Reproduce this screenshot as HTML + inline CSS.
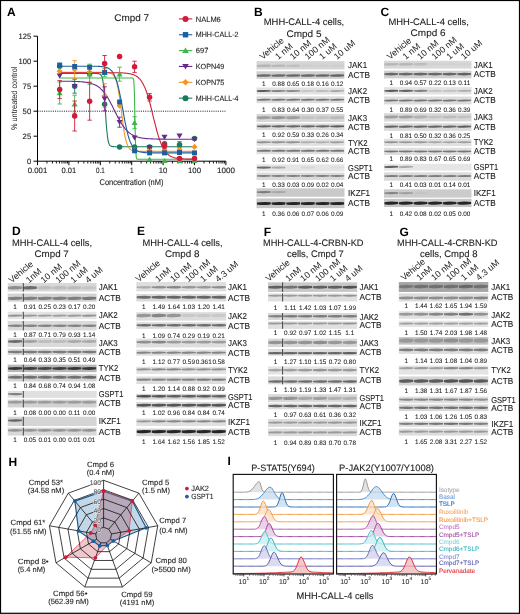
<!DOCTYPE html>
<html><head><meta charset="utf-8"><style>
html,body{margin:0;padding:0;background:#fff;}
#fig{position:relative;width:520px;height:614px;overflow:hidden;background:#fff;}
svg{display:block;will-change:transform;text-rendering:geometricPrecision;font-family:"Liberation Sans", sans-serif;}
</style></head><body><div id="fig">
<svg width="520" height="614" viewBox="0 0 520 614">
<rect x="0" y="0" width="520" height="614" fill="#fff"/>
<defs><filter id="bl" x="-20%" y="-100%" width="140%" height="300%"><feGaussianBlur stdDeviation="0.55"/></filter></defs>
<text x="7.00" y="15.60" font-size="12" text-anchor="start" font-weight="bold" fill="#000" >A</text>
<text x="114.30" y="21.40" font-size="9.7" text-anchor="start" font-weight="normal" fill="#222" stroke="#222" stroke-width="0.1" textLength="34.8" lengthAdjust="spacingAndGlyphs" >Cmpd 7</text>
<path d="M37.5 36.19999999999999 V161.2 H225.89999999999998" stroke="#000" stroke-width="1" fill="none"/>
<line x1="33.5" y1="161.2" x2="37.5" y2="161.2" stroke="#000" stroke-width="1"/>
<text x="31.20" y="164.00" font-size="7.8" text-anchor="end" font-weight="normal" fill="#222" stroke="#222" stroke-width="0.1" textLength="4.2" lengthAdjust="spacingAndGlyphs" >0</text>
<line x1="33.5" y1="136.2" x2="37.5" y2="136.2" stroke="#000" stroke-width="1"/>
<text x="31.20" y="139.00" font-size="7.8" text-anchor="end" font-weight="normal" fill="#222" stroke="#222" stroke-width="0.1" textLength="8.6" lengthAdjust="spacingAndGlyphs" >25</text>
<line x1="33.5" y1="111.19999999999999" x2="37.5" y2="111.19999999999999" stroke="#000" stroke-width="1"/>
<text x="31.20" y="114.00" font-size="7.8" text-anchor="end" font-weight="normal" fill="#222" stroke="#222" stroke-width="0.1" textLength="8.6" lengthAdjust="spacingAndGlyphs" >50</text>
<line x1="33.5" y1="86.19999999999999" x2="37.5" y2="86.19999999999999" stroke="#000" stroke-width="1"/>
<text x="31.20" y="89.00" font-size="7.8" text-anchor="end" font-weight="normal" fill="#222" stroke="#222" stroke-width="0.1" textLength="8.6" lengthAdjust="spacingAndGlyphs" >75</text>
<line x1="33.5" y1="61.19999999999999" x2="37.5" y2="61.19999999999999" stroke="#000" stroke-width="1"/>
<text x="31.20" y="64.00" font-size="7.8" text-anchor="end" font-weight="normal" fill="#222" stroke="#222" stroke-width="0.1" textLength="12.6" lengthAdjust="spacingAndGlyphs" >100</text>
<line x1="33.5" y1="36.19999999999999" x2="37.5" y2="36.19999999999999" stroke="#000" stroke-width="1"/>
<text x="31.20" y="39.00" font-size="7.8" text-anchor="end" font-weight="normal" fill="#222" stroke="#222" stroke-width="0.1" textLength="12.6" lengthAdjust="spacingAndGlyphs" >125</text>
<line x1="37.50" y1="161.2" x2="37.50" y2="165.2" stroke="#000" stroke-width="1"/>
<line x1="46.95" y1="161.2" x2="46.95" y2="163.5" stroke="#000" stroke-width="0.9"/>
<line x1="52.48" y1="161.2" x2="52.48" y2="163.5" stroke="#000" stroke-width="0.9"/>
<line x1="56.40" y1="161.2" x2="56.40" y2="163.5" stroke="#000" stroke-width="0.9"/>
<line x1="59.45" y1="161.2" x2="59.45" y2="163.5" stroke="#000" stroke-width="0.9"/>
<line x1="61.93" y1="161.2" x2="61.93" y2="163.5" stroke="#000" stroke-width="0.9"/>
<line x1="64.04" y1="161.2" x2="64.04" y2="163.5" stroke="#000" stroke-width="0.9"/>
<line x1="65.86" y1="161.2" x2="65.86" y2="163.5" stroke="#000" stroke-width="0.9"/>
<line x1="67.46" y1="161.2" x2="67.46" y2="163.5" stroke="#000" stroke-width="0.9"/>
<line x1="68.90" y1="161.2" x2="68.90" y2="165.2" stroke="#000" stroke-width="1"/>
<line x1="78.35" y1="161.2" x2="78.35" y2="163.5" stroke="#000" stroke-width="0.9"/>
<line x1="83.88" y1="161.2" x2="83.88" y2="163.5" stroke="#000" stroke-width="0.9"/>
<line x1="87.80" y1="161.2" x2="87.80" y2="163.5" stroke="#000" stroke-width="0.9"/>
<line x1="90.85" y1="161.2" x2="90.85" y2="163.5" stroke="#000" stroke-width="0.9"/>
<line x1="93.33" y1="161.2" x2="93.33" y2="163.5" stroke="#000" stroke-width="0.9"/>
<line x1="95.44" y1="161.2" x2="95.44" y2="163.5" stroke="#000" stroke-width="0.9"/>
<line x1="97.26" y1="161.2" x2="97.26" y2="163.5" stroke="#000" stroke-width="0.9"/>
<line x1="98.86" y1="161.2" x2="98.86" y2="163.5" stroke="#000" stroke-width="0.9"/>
<line x1="100.30" y1="161.2" x2="100.30" y2="165.2" stroke="#000" stroke-width="1"/>
<line x1="109.75" y1="161.2" x2="109.75" y2="163.5" stroke="#000" stroke-width="0.9"/>
<line x1="115.28" y1="161.2" x2="115.28" y2="163.5" stroke="#000" stroke-width="0.9"/>
<line x1="119.20" y1="161.2" x2="119.20" y2="163.5" stroke="#000" stroke-width="0.9"/>
<line x1="122.25" y1="161.2" x2="122.25" y2="163.5" stroke="#000" stroke-width="0.9"/>
<line x1="124.73" y1="161.2" x2="124.73" y2="163.5" stroke="#000" stroke-width="0.9"/>
<line x1="126.84" y1="161.2" x2="126.84" y2="163.5" stroke="#000" stroke-width="0.9"/>
<line x1="128.66" y1="161.2" x2="128.66" y2="163.5" stroke="#000" stroke-width="0.9"/>
<line x1="130.26" y1="161.2" x2="130.26" y2="163.5" stroke="#000" stroke-width="0.9"/>
<line x1="131.70" y1="161.2" x2="131.70" y2="165.2" stroke="#000" stroke-width="1"/>
<line x1="141.15" y1="161.2" x2="141.15" y2="163.5" stroke="#000" stroke-width="0.9"/>
<line x1="146.68" y1="161.2" x2="146.68" y2="163.5" stroke="#000" stroke-width="0.9"/>
<line x1="150.60" y1="161.2" x2="150.60" y2="163.5" stroke="#000" stroke-width="0.9"/>
<line x1="153.65" y1="161.2" x2="153.65" y2="163.5" stroke="#000" stroke-width="0.9"/>
<line x1="156.13" y1="161.2" x2="156.13" y2="163.5" stroke="#000" stroke-width="0.9"/>
<line x1="158.24" y1="161.2" x2="158.24" y2="163.5" stroke="#000" stroke-width="0.9"/>
<line x1="160.06" y1="161.2" x2="160.06" y2="163.5" stroke="#000" stroke-width="0.9"/>
<line x1="161.66" y1="161.2" x2="161.66" y2="163.5" stroke="#000" stroke-width="0.9"/>
<line x1="163.10" y1="161.2" x2="163.10" y2="165.2" stroke="#000" stroke-width="1"/>
<line x1="172.55" y1="161.2" x2="172.55" y2="163.5" stroke="#000" stroke-width="0.9"/>
<line x1="178.08" y1="161.2" x2="178.08" y2="163.5" stroke="#000" stroke-width="0.9"/>
<line x1="182.00" y1="161.2" x2="182.00" y2="163.5" stroke="#000" stroke-width="0.9"/>
<line x1="185.05" y1="161.2" x2="185.05" y2="163.5" stroke="#000" stroke-width="0.9"/>
<line x1="187.53" y1="161.2" x2="187.53" y2="163.5" stroke="#000" stroke-width="0.9"/>
<line x1="189.64" y1="161.2" x2="189.64" y2="163.5" stroke="#000" stroke-width="0.9"/>
<line x1="191.46" y1="161.2" x2="191.46" y2="163.5" stroke="#000" stroke-width="0.9"/>
<line x1="193.06" y1="161.2" x2="193.06" y2="163.5" stroke="#000" stroke-width="0.9"/>
<line x1="194.50" y1="161.2" x2="194.50" y2="165.2" stroke="#000" stroke-width="1"/>
<line x1="203.95" y1="161.2" x2="203.95" y2="163.5" stroke="#000" stroke-width="0.9"/>
<line x1="209.48" y1="161.2" x2="209.48" y2="163.5" stroke="#000" stroke-width="0.9"/>
<line x1="213.40" y1="161.2" x2="213.40" y2="163.5" stroke="#000" stroke-width="0.9"/>
<line x1="216.45" y1="161.2" x2="216.45" y2="163.5" stroke="#000" stroke-width="0.9"/>
<line x1="218.93" y1="161.2" x2="218.93" y2="163.5" stroke="#000" stroke-width="0.9"/>
<line x1="221.04" y1="161.2" x2="221.04" y2="163.5" stroke="#000" stroke-width="0.9"/>
<line x1="222.86" y1="161.2" x2="222.86" y2="163.5" stroke="#000" stroke-width="0.9"/>
<line x1="224.46" y1="161.2" x2="224.46" y2="163.5" stroke="#000" stroke-width="0.9"/>
<line x1="225.90" y1="161.2" x2="225.90" y2="165.2" stroke="#000" stroke-width="1"/>
<text x="37.50" y="173.00" font-size="7.8" text-anchor="middle" font-weight="normal" fill="#222" stroke="#222" stroke-width="0.1" textLength="19.5" lengthAdjust="spacingAndGlyphs" >0.001</text>
<text x="68.90" y="173.00" font-size="7.8" text-anchor="middle" font-weight="normal" fill="#222" stroke="#222" stroke-width="0.1" textLength="14.7" lengthAdjust="spacingAndGlyphs" >0.01</text>
<text x="100.30" y="173.00" font-size="7.8" text-anchor="middle" font-weight="normal" fill="#222" stroke="#222" stroke-width="0.1" textLength="8.7" lengthAdjust="spacingAndGlyphs" >0.1</text>
<text x="131.70" y="173.00" font-size="7.8" text-anchor="middle" font-weight="normal" fill="#222" stroke="#222" stroke-width="0.1" textLength="3.6" lengthAdjust="spacingAndGlyphs" >1</text>
<text x="163.10" y="173.00" font-size="7.8" text-anchor="middle" font-weight="normal" fill="#222" stroke="#222" stroke-width="0.1" textLength="8.6" lengthAdjust="spacingAndGlyphs" >10</text>
<text x="194.50" y="173.00" font-size="7.8" text-anchor="middle" font-weight="normal" fill="#222" stroke="#222" stroke-width="0.1" textLength="13.0" lengthAdjust="spacingAndGlyphs" >100</text>
<text x="225.90" y="173.00" font-size="7.8" text-anchor="middle" font-weight="normal" fill="#222" stroke="#222" stroke-width="0.1" textLength="18.0" lengthAdjust="spacingAndGlyphs" >1000</text>
<text x="131.50" y="185.00" font-size="8.4" text-anchor="middle" font-weight="normal" fill="#222" stroke="#222" stroke-width="0.1" textLength="64" lengthAdjust="spacingAndGlyphs" >Concentration (nM)</text>
<text x="0" y="0" font-size="8.4" fill="#222" text-anchor="middle" textLength="63.5" lengthAdjust="spacingAndGlyphs" transform="translate(17.3 98.3) rotate(-90)">% untreated control</text>
<line x1="37.5" y1="111.19999999999999" x2="225.89999999999998" y2="111.19999999999999" stroke="#000" stroke-width="0.9" stroke-dasharray="1 1.2"/>
<defs><clipPath id="plotclip"><rect x="38" y="30" width="190" height="131"/></clipPath></defs>
<polyline points="59.7,73.5 60.3,73.5 60.9,73.5 61.5,73.5 62.1,73.5 62.7,73.5 63.3,73.5 64.0,73.5 64.6,73.5 65.2,73.5 65.8,73.5 66.4,73.5 67.0,73.5 67.6,73.5 68.2,73.5 68.9,73.5 69.5,73.5 70.1,73.5 70.7,73.5 71.3,73.5 71.9,73.5 72.5,73.5 73.1,73.5 73.8,73.5 74.4,73.5 75.0,73.5 75.6,73.5 76.2,73.5 76.8,73.5 77.4,73.5 78.1,73.5 78.7,73.5 79.3,73.5 79.9,73.5 80.5,73.5 81.1,73.5 81.7,73.5 82.3,73.5 83.0,73.5 83.6,73.5 84.2,73.5 84.8,73.5 85.4,73.5 86.0,73.5 86.6,73.5 87.2,73.5 87.9,73.5 88.5,73.5 89.1,73.5 89.7,73.5 90.3,73.5 90.9,73.5 91.5,73.5 92.1,73.5 92.8,73.5 93.4,73.5 94.0,73.5 94.6,73.5 95.2,73.5 95.8,73.5 96.4,73.5 97.1,73.5 97.7,73.6 98.3,73.6 98.9,73.7 99.5,73.9 100.1,74.2 100.7,74.7 101.3,75.6 102.0,77.0 102.6,79.2 103.2,82.8 103.8,88.1 104.4,95.5 105.0,104.5 105.6,114.3 106.2,123.6 106.9,131.2 107.5,136.8 108.1,140.6 108.7,143.0 109.3,144.5 109.9,145.4 110.5,145.9 111.1,146.3 111.8,146.4 112.4,146.5 113.0,146.6 113.6,146.6 114.2,146.7 114.8,146.7 115.4,146.7 116.1,146.7 116.7,146.7 117.3,146.7 117.9,146.7 118.5,146.7 119.1,146.7 119.7,146.7 120.3,146.7 121.0,146.7 121.6,146.7 122.2,146.7 122.8,146.7 123.4,146.7 124.0,146.7 124.6,146.7 125.2,146.7 125.9,146.7 126.5,146.7 127.1,146.7 127.7,146.7 128.3,146.7 128.9,146.7 129.5,146.7 130.1,146.7 130.8,146.7 131.4,146.7 132.0,146.7 132.6,146.7 133.2,146.7 133.8,146.7 134.4,146.7 135.0,146.7 135.7,146.7 136.3,146.7 136.9,146.7 137.5,146.7 138.1,146.7 138.7,146.7 139.3,146.7 140.0,146.7 140.6,146.7 141.2,146.7 141.8,146.7 142.4,146.7 143.0,146.7 143.6,146.7 144.2,146.7 144.9,146.7 145.5,146.7 146.1,146.7 146.7,146.7 147.3,146.7 147.9,146.7 148.5,146.7 149.1,146.7 149.8,146.7 150.4,146.7 151.0,146.7 151.6,146.7 152.2,146.7 152.8,146.7 153.4,146.7 154.0,146.7 154.7,146.7 155.3,146.7 155.9,146.7 156.5,146.7 157.1,146.7 157.7,146.7 158.3,146.7 159.0,146.7 159.6,146.7 160.2,146.7 160.8,146.7 161.4,146.7 162.0,146.7 162.6,146.7 163.2,146.7 163.9,146.7 164.5,146.7 165.1,146.7 165.7,146.7 166.3,146.7 166.9,146.7 167.5,146.7 168.1,146.7 168.8,146.7 169.4,146.7 170.0,146.7 170.6,146.7 171.2,146.7 171.8,146.7 172.4,146.7 173.0,146.7 173.7,146.7 174.3,146.7 174.9,146.7 175.5,146.7 176.1,146.7 176.7,146.7 177.3,146.7 178.0,146.7 178.6,146.7 179.2,146.7 179.8,146.7 180.4,146.7 181.0,146.7 181.6,146.7 182.2,146.7 182.9,146.7 183.5,146.7 184.1,146.7 184.7,146.7 185.3,146.7 185.9,146.7 186.5,146.7 187.1,146.7 187.8,146.7 188.4,146.7 189.0,146.7 189.6,146.7 190.2,146.7 190.8,146.7 191.4,146.7 192.0,146.7 192.7,146.7 193.3,146.7 193.9,146.7 194.5,146.7" fill="none" stroke="#1b7a5e" stroke-width="1.1" clip-path="url(#plotclip)"/>
<polyline points="59.7,72.2 60.3,72.2 60.9,72.2 61.5,72.2 62.1,72.2 62.7,72.2 63.3,72.2 64.0,72.2 64.6,72.2 65.2,72.2 65.8,72.2 66.4,72.2 67.0,72.2 67.6,72.2 68.2,72.2 68.9,72.2 69.5,72.2 70.1,72.2 70.7,72.2 71.3,72.2 71.9,72.2 72.5,72.2 73.1,72.2 73.8,72.2 74.4,72.2 75.0,72.2 75.6,72.2 76.2,72.2 76.8,72.2 77.4,72.2 78.1,72.2 78.7,72.2 79.3,72.2 79.9,72.2 80.5,72.2 81.1,72.2 81.7,72.2 82.3,72.2 83.0,72.2 83.6,72.2 84.2,72.2 84.8,72.2 85.4,72.2 86.0,72.2 86.6,72.2 87.2,72.2 87.9,72.2 88.5,72.2 89.1,72.2 89.7,72.2 90.3,72.2 90.9,72.2 91.5,72.2 92.1,72.2 92.8,72.2 93.4,72.2 94.0,72.2 94.6,72.2 95.2,72.2 95.8,72.2 96.4,72.2 97.1,72.2 97.7,72.2 98.3,72.2 98.9,72.2 99.5,72.2 100.1,72.2 100.7,72.2 101.3,72.2 102.0,72.2 102.6,72.2 103.2,72.3 103.8,72.3 104.4,72.3 105.0,72.3 105.6,72.3 106.2,72.4 106.9,72.4 107.5,72.5 108.1,72.6 108.7,72.7 109.3,72.8 109.9,73.0 110.5,73.2 111.1,73.4 111.8,73.8 112.4,74.2 113.0,74.8 113.6,75.5 114.2,76.3 114.8,77.4 115.4,78.7 116.1,80.4 116.7,82.4 117.3,84.8 117.9,87.6 118.5,91.0 119.1,94.7 119.7,98.9 120.3,103.4 121.0,108.2 121.6,113.1 122.2,117.9 122.8,122.6 123.4,127.0 124.0,130.9 124.6,134.5 125.2,137.5 125.9,140.1 126.5,142.3 127.1,144.1 127.7,145.6 128.3,146.8 128.9,147.8 129.5,148.5 130.1,149.1 130.8,149.6 131.4,150.0 132.0,150.3 132.6,150.5 133.2,150.7 133.8,150.9 134.4,151.0 135.0,151.1 135.7,151.1 136.3,151.2 136.9,151.2 137.5,151.3 138.1,151.3 138.7,151.3 139.3,151.3 140.0,151.4 140.6,151.4 141.2,151.4 141.8,151.4 142.4,151.4 143.0,151.4 143.6,151.4 144.2,151.4 144.9,151.4 145.5,151.4 146.1,151.4 146.7,151.4 147.3,151.4 147.9,151.4 148.5,151.4 149.1,151.4 149.8,151.4 150.4,151.4 151.0,151.4 151.6,151.4 152.2,151.4 152.8,151.4 153.4,151.4 154.0,151.4 154.7,151.4 155.3,151.4 155.9,151.4 156.5,151.4 157.1,151.4 157.7,151.4 158.3,151.4 159.0,151.4 159.6,151.4 160.2,151.4 160.8,151.4 161.4,151.4 162.0,151.4 162.6,151.4 163.2,151.4 163.9,151.4 164.5,151.4 165.1,151.4 165.7,151.4 166.3,151.4 166.9,151.4 167.5,151.4 168.1,151.4 168.8,151.4 169.4,151.4 170.0,151.4 170.6,151.4 171.2,151.4 171.8,151.4 172.4,151.4 173.0,151.4 173.7,151.4 174.3,151.4 174.9,151.4 175.5,151.4 176.1,151.4 176.7,151.4 177.3,151.4 178.0,151.4 178.6,151.4 179.2,151.4 179.8,151.4 180.4,151.4 181.0,151.4 181.6,151.4 182.2,151.4 182.9,151.4 183.5,151.4 184.1,151.4 184.7,151.4 185.3,151.4 185.9,151.4 186.5,151.4 187.1,151.4 187.8,151.4 188.4,151.4 189.0,151.4 189.6,151.4 190.2,151.4 190.8,151.4 191.4,151.4 192.0,151.4 192.7,151.4 193.3,151.4 193.9,151.4 194.5,151.4" fill="none" stroke="#f7931e" stroke-width="1.1" clip-path="url(#plotclip)"/>
<polyline points="59.7,81.2 60.3,81.2 60.9,81.2 61.5,81.2 62.1,81.2 62.7,81.2 63.3,81.2 64.0,81.3 64.6,81.3 65.2,81.3 65.8,81.3 66.4,81.3 67.0,81.3 67.6,81.3 68.2,81.3 68.9,81.3 69.5,81.3 70.1,81.3 70.7,81.3 71.3,81.3 71.9,81.4 72.5,81.4 73.1,81.4 73.8,81.4 74.4,81.4 75.0,81.4 75.6,81.5 76.2,81.5 76.8,81.5 77.4,81.5 78.1,81.6 78.7,81.6 79.3,81.6 79.9,81.7 80.5,81.7 81.1,81.8 81.7,81.8 82.3,81.9 83.0,81.9 83.6,82.0 84.2,82.1 84.8,82.1 85.4,82.2 86.0,82.3 86.6,82.4 87.2,82.5 87.9,82.6 88.5,82.7 89.1,82.9 89.7,83.0 90.3,83.2 90.9,83.3 91.5,83.5 92.1,83.7 92.8,83.9 93.4,84.2 94.0,84.4 94.6,84.7 95.2,85.0 95.8,85.3 96.4,85.6 97.1,86.0 97.7,86.4 98.3,86.8 98.9,87.2 99.5,87.7 100.1,88.2 100.7,88.8 101.3,89.3 102.0,90.0 102.6,90.6 103.2,91.3 103.8,92.0 104.4,92.8 105.0,93.6 105.6,94.5 106.2,95.4 106.9,96.3 107.5,97.3 108.1,98.3 108.7,99.3 109.3,100.4 109.9,101.5 110.5,102.7 111.1,103.9 111.8,105.0 112.4,106.2 113.0,107.5 113.6,108.7 114.2,109.9 114.8,111.2 115.4,112.4 116.1,113.6 116.7,114.9 117.3,116.0 117.9,117.2 118.5,118.4 119.1,119.5 119.7,120.6 120.3,121.7 121.0,122.7 121.6,123.7 122.2,124.6 122.8,125.5 123.4,126.4 124.0,127.2 124.6,128.0 125.2,128.8 125.9,129.5 126.5,130.2 127.1,130.8 127.7,131.4 128.3,132.0 128.9,132.5 129.5,133.0 130.1,133.4 130.8,133.9 131.4,134.3 132.0,134.6 132.6,135.0 133.2,135.3 133.8,135.6 134.4,135.9 135.0,136.1 135.7,136.4 136.3,136.6 136.9,136.8 137.5,137.0 138.1,137.2 138.7,137.3 139.3,137.5 140.0,137.6 140.6,137.7 141.2,137.9 141.8,138.0 142.4,138.1 143.0,138.2 143.6,138.2 144.2,138.3 144.9,138.4 145.5,138.5 146.1,138.5 146.7,138.6 147.3,138.6 147.9,138.7 148.5,138.7 149.1,138.7 149.8,138.8 150.4,138.8 151.0,138.9 151.6,138.9 152.2,138.9 152.8,138.9 153.4,139.0 154.0,139.0 154.7,139.0 155.3,139.0 155.9,139.0 156.5,139.0 157.1,139.1 157.7,139.1 158.3,139.1 159.0,139.1 159.6,139.1 160.2,139.1 160.8,139.1 161.4,139.1 162.0,139.1 162.6,139.1 163.2,139.1 163.9,139.1 164.5,139.1 165.1,139.2 165.7,139.2 166.3,139.2 166.9,139.2 167.5,139.2 168.1,139.2 168.8,139.2 169.4,139.2 170.0,139.2 170.6,139.2 171.2,139.2 171.8,139.2 172.4,139.2 173.0,139.2 173.7,139.2 174.3,139.2 174.9,139.2 175.5,139.2 176.1,139.2 176.7,139.2 177.3,139.2 178.0,139.2 178.6,139.2 179.2,139.2 179.8,139.2 180.4,139.2 181.0,139.2 181.6,139.2 182.2,139.2 182.9,139.2 183.5,139.2 184.1,139.2 184.7,139.2 185.3,139.2 185.9,139.2 186.5,139.2 187.1,139.2 187.8,139.2 188.4,139.2 189.0,139.2 189.6,139.2 190.2,139.2 190.8,139.2 191.4,139.2 192.0,139.2 192.7,139.2 193.3,139.2 193.9,139.2 194.5,139.2" fill="none" stroke="#6a2a8c" stroke-width="1.1" clip-path="url(#plotclip)"/>
<polyline points="59.7,78.0 60.3,78.0 60.9,78.0 61.5,78.0 62.1,78.0 62.7,78.0 63.3,78.0 64.0,78.0 64.6,78.0 65.2,78.0 65.8,78.0 66.4,78.0 67.0,78.0 67.6,78.0 68.2,78.0 68.9,78.0 69.5,78.0 70.1,78.0 70.7,78.0 71.3,78.0 71.9,78.0 72.5,78.0 73.1,78.0 73.8,78.0 74.4,78.0 75.0,78.0 75.6,78.0 76.2,78.0 76.8,78.0 77.4,78.0 78.1,78.0 78.7,78.0 79.3,78.0 79.9,78.0 80.5,78.0 81.1,78.0 81.7,78.0 82.3,78.0 83.0,78.0 83.6,78.0 84.2,78.0 84.8,78.0 85.4,78.0 86.0,78.0 86.6,78.0 87.2,78.0 87.9,78.0 88.5,78.0 89.1,78.0 89.7,78.0 90.3,78.0 90.9,78.0 91.5,78.0 92.1,78.0 92.8,78.0 93.4,78.0 94.0,78.0 94.6,78.0 95.2,78.0 95.8,78.0 96.4,78.0 97.1,78.0 97.7,78.0 98.3,78.0 98.9,78.0 99.5,78.0 100.1,78.0 100.7,78.0 101.3,78.0 102.0,78.0 102.6,78.0 103.2,78.0 103.8,78.0 104.4,78.0 105.0,78.0 105.6,78.0 106.2,78.0 106.9,78.0 107.5,78.0 108.1,78.0 108.7,78.0 109.3,78.0 109.9,78.0 110.5,78.0 111.1,78.0 111.8,78.0 112.4,78.0 113.0,78.0 113.6,78.0 114.2,78.0 114.8,78.0 115.4,78.0 116.1,78.0 116.7,78.0 117.3,78.0 117.9,78.0 118.5,78.0 119.1,78.0 119.7,78.0 120.3,78.0 121.0,78.0 121.6,78.0 122.2,78.0 122.8,78.0 123.4,78.0 124.0,78.0 124.6,78.0 125.2,78.0 125.9,78.0 126.5,78.0 127.1,78.0 127.7,78.0 128.3,78.0 128.9,78.0 129.5,78.0 130.1,78.0 130.8,78.0 131.4,78.0 132.0,78.0 132.6,78.1 133.2,78.5 133.8,80.8 134.4,92.4 135.0,124.0 135.7,150.1 136.3,157.6 136.9,159.0 137.5,159.3 138.1,159.3 138.7,159.3 139.3,159.3 140.0,159.3 140.6,159.3 141.2,159.3 141.8,159.3 142.4,159.3 143.0,159.3 143.6,159.3 144.2,159.3 144.9,159.3 145.5,159.3 146.1,159.3 146.7,159.3 147.3,159.3 147.9,159.3 148.5,159.3 149.1,159.3 149.8,159.3 150.4,159.3 151.0,159.3 151.6,159.3 152.2,159.3 152.8,159.3 153.4,159.3 154.0,159.3 154.7,159.3 155.3,159.3 155.9,159.3 156.5,159.3 157.1,159.3 157.7,159.3 158.3,159.3 159.0,159.3 159.6,159.3 160.2,159.3 160.8,159.3 161.4,159.3 162.0,159.3 162.6,159.3 163.2,159.3 163.9,159.3 164.5,159.3 165.1,159.3 165.7,159.3 166.3,159.3 166.9,159.3 167.5,159.3 168.1,159.3 168.8,159.3 169.4,159.3 170.0,159.3 170.6,159.3 171.2,159.3 171.8,159.3 172.4,159.3 173.0,159.3 173.7,159.3 174.3,159.3 174.9,159.3 175.5,159.3 176.1,159.3 176.7,159.3 177.3,159.3 178.0,159.3 178.6,159.3 179.2,159.3 179.8,159.3 180.4,159.3 181.0,159.3 181.6,159.3 182.2,159.3 182.9,159.3 183.5,159.3 184.1,159.3 184.7,159.3 185.3,159.3 185.9,159.3 186.5,159.3 187.1,159.3 187.8,159.3 188.4,159.3 189.0,159.3 189.6,159.3 190.2,159.3 190.8,159.3 191.4,159.3 192.0,159.3 192.7,159.3 193.3,159.3 193.9,159.3 194.5,159.3" fill="none" stroke="#3db64a" stroke-width="1.1" clip-path="url(#plotclip)"/>
<polyline points="59.7,66.2 60.3,66.2 60.9,66.2 61.5,66.2 62.1,66.2 62.7,66.2 63.3,66.2 64.0,66.2 64.6,66.2 65.2,66.2 65.8,66.2 66.4,66.2 67.0,66.2 67.6,66.2 68.2,66.2 68.9,66.2 69.5,66.2 70.1,66.2 70.7,66.2 71.3,66.2 71.9,66.2 72.5,66.2 73.1,66.2 73.8,66.2 74.4,66.2 75.0,66.2 75.6,66.2 76.2,66.2 76.8,66.2 77.4,66.2 78.1,66.2 78.7,66.2 79.3,66.2 79.9,66.2 80.5,66.2 81.1,66.2 81.7,66.2 82.3,66.2 83.0,66.2 83.6,66.2 84.2,66.2 84.8,66.2 85.4,66.2 86.0,66.2 86.6,66.2 87.2,66.2 87.9,66.2 88.5,66.2 89.1,66.2 89.7,66.2 90.3,66.2 90.9,66.2 91.5,66.2 92.1,66.2 92.8,66.2 93.4,66.2 94.0,66.3 94.6,66.3 95.2,66.3 95.8,66.3 96.4,66.3 97.1,66.3 97.7,66.3 98.3,66.4 98.9,66.4 99.5,66.4 100.1,66.5 100.7,66.5 101.3,66.6 102.0,66.6 102.6,66.7 103.2,66.8 103.8,66.9 104.4,67.0 105.0,67.1 105.6,67.2 106.2,67.4 106.9,67.6 107.5,67.9 108.1,68.1 108.7,68.5 109.3,68.8 109.9,69.3 110.5,69.8 111.1,70.4 111.8,71.0 112.4,71.8 113.0,72.7 113.6,73.7 114.2,74.8 114.8,76.2 115.4,77.6 116.1,79.3 116.7,81.1 117.3,83.2 117.9,85.4 118.5,87.9 119.1,90.5 119.7,93.4 120.3,96.4 121.0,99.6 121.6,102.8 122.2,106.2 122.8,109.6 123.4,113.0 124.0,116.4 124.6,119.6 125.2,122.8 125.9,125.8 126.5,128.7 127.1,131.3 127.7,133.8 128.3,136.0 128.9,138.0 129.5,139.9 130.1,141.5 130.8,143.0 131.4,144.3 132.0,145.4 132.6,146.4 133.2,147.3 133.8,148.1 134.4,148.8 135.0,149.3 135.7,149.8 136.3,150.3 136.9,150.6 137.5,151.0 138.1,151.2 138.7,151.5 139.3,151.7 140.0,151.9 140.6,152.0 141.2,152.1 141.8,152.2 142.4,152.3 143.0,152.4 143.6,152.5 144.2,152.5 144.9,152.6 145.5,152.6 146.1,152.7 146.7,152.7 147.3,152.7 147.9,152.8 148.5,152.8 149.1,152.8 149.8,152.8 150.4,152.8 151.0,152.8 151.6,152.8 152.2,152.9 152.8,152.9 153.4,152.9 154.0,152.9 154.7,152.9 155.3,152.9 155.9,152.9 156.5,152.9 157.1,152.9 157.7,152.9 158.3,152.9 159.0,152.9 159.6,152.9 160.2,152.9 160.8,152.9 161.4,152.9 162.0,152.9 162.6,152.9 163.2,152.9 163.9,152.9 164.5,152.9 165.1,152.9 165.7,152.9 166.3,152.9 166.9,152.9 167.5,152.9 168.1,152.9 168.8,152.9 169.4,152.9 170.0,152.9 170.6,152.9 171.2,152.9 171.8,152.9 172.4,152.9 173.0,152.9 173.7,152.9 174.3,152.9 174.9,152.9 175.5,152.9 176.1,152.9 176.7,152.9 177.3,152.9 178.0,152.9 178.6,152.9 179.2,152.9 179.8,152.9 180.4,152.9 181.0,152.9 181.6,152.9 182.2,152.9 182.9,152.9 183.5,152.9 184.1,152.9 184.7,152.9 185.3,152.9 185.9,152.9 186.5,152.9 187.1,152.9 187.8,152.9 188.4,152.9 189.0,152.9 189.6,152.9 190.2,152.9 190.8,152.9 191.4,152.9 192.0,152.9 192.7,152.9 193.3,152.9 193.9,152.9 194.5,152.9" fill="none" stroke="#1a5f9e" stroke-width="1.1" clip-path="url(#plotclip)"/>
<polyline points="59.7,72.7 60.3,72.7 60.9,72.7 61.5,72.7 62.1,72.7 62.7,72.7 63.3,72.7 64.0,72.7 64.6,72.7 65.2,72.7 65.8,72.7 66.4,72.7 67.0,72.7 67.6,72.7 68.2,72.7 68.9,72.7 69.5,72.7 70.1,72.7 70.7,72.7 71.3,72.7 71.9,72.7 72.5,72.7 73.1,72.7 73.8,72.7 74.4,72.7 75.0,72.7 75.6,72.7 76.2,72.7 76.8,72.7 77.4,72.7 78.1,72.7 78.7,72.7 79.3,72.7 79.9,72.7 80.5,72.7 81.1,72.7 81.7,72.7 82.3,72.7 83.0,72.7 83.6,72.7 84.2,72.7 84.8,72.7 85.4,72.7 86.0,72.7 86.6,72.7 87.2,72.7 87.9,72.7 88.5,72.7 89.1,72.7 89.7,72.7 90.3,72.7 90.9,72.7 91.5,72.7 92.1,72.7 92.8,72.7 93.4,72.7 94.0,72.7 94.6,72.7 95.2,72.7 95.8,72.7 96.4,72.7 97.1,72.7 97.7,72.7 98.3,72.7 98.9,72.7 99.5,72.7 100.1,72.7 100.7,72.7 101.3,72.7 102.0,72.7 102.6,72.7 103.2,72.7 103.8,72.7 104.4,72.7 105.0,72.7 105.6,72.7 106.2,72.7 106.9,72.7 107.5,72.7 108.1,72.7 108.7,72.7 109.3,72.7 109.9,72.7 110.5,72.7 111.1,72.7 111.8,72.7 112.4,72.7 113.0,72.7 113.6,72.7 114.2,72.8 114.8,72.8 115.4,72.8 116.1,72.8 116.7,72.8 117.3,72.8 117.9,72.8 118.5,72.8 119.1,72.8 119.7,72.8 120.3,72.9 121.0,72.9 121.6,72.9 122.2,72.9 122.8,73.0 123.4,73.0 124.0,73.0 124.6,73.1 125.2,73.1 125.9,73.2 126.5,73.2 127.1,73.3 127.7,73.4 128.3,73.5 128.9,73.6 129.5,73.7 130.1,73.8 130.8,73.9 131.4,74.1 132.0,74.2 132.6,74.4 133.2,74.6 133.8,74.8 134.4,75.1 135.0,75.4 135.7,75.7 136.3,76.1 136.9,76.5 137.5,76.9 138.1,77.4 138.7,78.0 139.3,78.6 140.0,79.2 140.6,80.0 141.2,80.8 141.8,81.7 142.4,82.7 143.0,83.8 143.6,84.9 144.2,86.2 144.9,87.6 145.5,89.1 146.1,90.7 146.7,92.4 147.3,94.3 147.9,96.2 148.5,98.3 149.1,100.4 149.8,102.7 150.4,105.0 151.0,107.4 151.6,109.8 152.2,112.3 152.8,114.8 153.4,117.4 154.0,119.9 154.7,122.4 155.3,124.8 155.9,127.2 156.5,129.5 157.1,131.8 157.7,133.9 158.3,135.9 159.0,137.9 159.6,139.7 160.2,141.4 160.8,143.0 161.4,144.5 162.0,145.9 162.6,147.1 163.2,148.3 163.9,149.4 164.5,150.3 165.1,151.2 165.7,152.0 166.3,152.8 166.9,153.4 167.5,154.0 168.1,154.6 168.8,155.0 169.4,155.5 170.0,155.9 170.6,156.2 171.2,156.6 171.8,156.8 172.4,157.1 173.0,157.3 173.7,157.5 174.3,157.7 174.9,157.9 175.5,158.0 176.1,158.1 176.7,158.3 177.3,158.4 178.0,158.5 178.6,158.5 179.2,158.6 179.8,158.7 180.4,158.7 181.0,158.8 181.6,158.8 182.2,158.9 182.9,158.9 183.5,158.9 184.1,159.0 184.7,159.0 185.3,159.0 185.9,159.0 186.5,159.1 187.1,159.1 187.8,159.1 188.4,159.1 189.0,159.1 189.6,159.1 190.2,159.1 190.8,159.1 191.4,159.1 192.0,159.1 192.7,159.2 193.3,159.2 193.9,159.2 194.5,159.2" fill="none" stroke="#d01c3a" stroke-width="1.1" clip-path="url(#plotclip)"/>
<circle cx="59.67" cy="66.20" r="2.75" fill="#1b7a5e"/>
<path d="M74.65 79.20 V93.20 M72.45 79.20 H76.85 M72.45 93.20 H76.85" stroke="#1b7a5e" stroke-width="0.9" fill="none"/>
<circle cx="74.65" cy="86.20" r="2.75" fill="#1b7a5e"/>
<circle cx="89.63" cy="73.20" r="2.75" fill="#1b7a5e"/>
<circle cx="104.61" cy="104.20" r="2.75" fill="#1b7a5e"/>
<circle cx="119.59" cy="146.90" r="2.75" fill="#1b7a5e"/>
<circle cx="134.57" cy="146.90" r="2.75" fill="#1b7a5e"/>
<circle cx="149.56" cy="146.90" r="2.75" fill="#1b7a5e"/>
<circle cx="164.54" cy="143.80" r="2.75" fill="#1b7a5e"/>
<path d="M179.52 141.70 V147.70 M177.32 141.70 H181.72 M177.32 147.70 H181.72" stroke="#1b7a5e" stroke-width="0.9" fill="none"/>
<circle cx="179.52" cy="144.70" r="2.75" fill="#1b7a5e"/>
<circle cx="194.50" cy="138.50" r="2.75" fill="#1b7a5e"/>
<path d="M59.67 68.17 L62.69 71.20 L59.67 74.22 L56.64 71.20Z" fill="#f7931e"/>
<path d="M74.65 60.60 V78.60 M72.45 60.60 H76.85 M72.45 78.60 H76.85" stroke="#f7931e" stroke-width="0.9" fill="none"/>
<path d="M74.65 66.57 L77.67 69.60 L74.65 72.62 L71.62 69.60Z" fill="#f7931e"/>
<path d="M89.63 69.17 L92.65 72.20 L89.63 75.22 L86.60 72.20Z" fill="#f7931e"/>
<path d="M104.61 83.80 V107.80 M102.41 83.80 H106.81 M102.41 107.80 H106.81" stroke="#f7931e" stroke-width="0.9" fill="none"/>
<path d="M104.61 92.77 L107.64 95.80 L104.61 98.82 L101.59 95.80Z" fill="#f7931e"/>
<path d="M119.59 102.77 L122.62 105.80 L119.59 108.82 L116.57 105.80Z" fill="#f7931e"/>
<path d="M134.57 147.17 L137.60 150.20 L134.57 153.22 L131.55 150.20Z" fill="#f7931e"/>
<path d="M149.56 147.17 L152.58 150.20 L149.56 153.22 L146.53 150.20Z" fill="#f7931e"/>
<path d="M164.54 147.17 L167.56 150.20 L164.54 153.22 L161.51 150.20Z" fill="#f7931e"/>
<path d="M179.52 146.67 L182.54 149.70 L179.52 152.72 L176.49 149.70Z" fill="#f7931e"/>
<path d="M194.50 143.87 L197.53 146.90 L194.50 149.92 L191.47 146.90Z" fill="#f7931e"/>
<path d="M59.67 78.69 L62.69 73.60 L56.64 73.60Z" fill="#6a2a8c"/>
<path d="M74.65 89.09 L77.67 84.00 L71.62 84.00Z" fill="#6a2a8c"/>
<path d="M89.63 78.09 L92.65 73.00 L86.60 73.00Z" fill="#6a2a8c"/>
<path d="M104.61 86.80 V110.80 M102.41 86.80 H106.81 M102.41 110.80 H106.81" stroke="#6a2a8c" stroke-width="0.9" fill="none"/>
<path d="M104.61 101.69 L107.64 96.60 L101.59 96.60Z" fill="#6a2a8c"/>
<path d="M119.59 117.20 V127.20 M117.39 117.20 H121.79 M117.39 127.20 H121.79" stroke="#6a2a8c" stroke-width="0.9" fill="none"/>
<path d="M119.59 125.09 L122.62 120.00 L116.57 120.00Z" fill="#6a2a8c"/>
<path d="M134.57 140.59 L137.60 135.50 L131.55 135.50Z" fill="#6a2a8c"/>
<path d="M149.56 150.09 L152.58 145.00 L146.53 145.00Z" fill="#6a2a8c"/>
<path d="M164.54 139.89 L167.56 134.80 L161.51 134.80Z" fill="#6a2a8c"/>
<path d="M179.52 138.69 L182.54 133.60 L176.49 133.60Z" fill="#6a2a8c"/>
<path d="M194.50 142.09 L197.53 137.00 L191.47 137.00Z" fill="#6a2a8c"/>
<path d="M59.67 82.00 V104.00 M57.47 82.00 H61.87 M57.47 104.00 H61.87" stroke="#3db64a" stroke-width="0.9" fill="none"/>
<path d="M59.67 90.11 L62.69 95.20 L56.64 95.20Z" fill="#3db64a"/>
<path d="M74.65 95.20 V113.20 M72.45 95.20 H76.85 M72.45 113.20 H76.85" stroke="#3db64a" stroke-width="0.9" fill="none"/>
<path d="M74.65 101.31 L77.67 106.40 L71.62 106.40Z" fill="#3db64a"/>
<path d="M89.63 64.20 V84.20 M87.43 64.20 H91.83 M87.43 84.20 H91.83" stroke="#3db64a" stroke-width="0.9" fill="none"/>
<path d="M89.63 71.31 L92.65 76.40 L86.60 76.40Z" fill="#3db64a"/>
<path d="M104.61 68.70 V76.70 M102.41 68.70 H106.81 M102.41 76.70 H106.81" stroke="#3db64a" stroke-width="0.9" fill="none"/>
<path d="M104.61 69.81 L107.64 74.90 L101.59 74.90Z" fill="#3db64a"/>
<path d="M119.59 67.20 V81.20 M117.39 67.20 H121.79 M117.39 81.20 H121.79" stroke="#3db64a" stroke-width="0.9" fill="none"/>
<path d="M119.59 71.31 L122.62 76.40 L116.57 76.40Z" fill="#3db64a"/>
<path d="M134.57 116.70 V128.70 M132.37 116.70 H136.77 M132.37 128.70 H136.77" stroke="#3db64a" stroke-width="0.9" fill="none"/>
<path d="M134.57 119.81 L137.60 124.90 L131.55 124.90Z" fill="#3db64a"/>
<path d="M149.56 156.51 L152.58 161.60 L146.53 161.60Z" fill="#3db64a"/>
<path d="M164.54 157.91 L167.56 163.00 L161.51 163.00Z" fill="#3db64a"/>
<path d="M179.52 157.81 L182.54 162.90 L176.49 162.90Z" fill="#3db64a"/>
<path d="M194.50 157.81 L197.53 162.90 L191.47 162.90Z" fill="#3db64a"/>
<rect x="57.19" y="62.52" width="4.95" height="4.95" fill="#1a5f9e"/>
<rect x="72.17" y="64.02" width="4.95" height="4.95" fill="#1a5f9e"/>
<rect x="87.15" y="64.82" width="4.95" height="4.95" fill="#1a5f9e"/>
<rect x="102.14" y="69.92" width="4.95" height="4.95" fill="#1a5f9e"/>
<rect x="117.12" y="99.52" width="4.95" height="4.95" fill="#1a5f9e"/>
<rect x="132.10" y="148.32" width="4.95" height="4.95" fill="#1a5f9e"/>
<rect x="147.08" y="150.42" width="4.95" height="4.95" fill="#1a5f9e"/>
<rect x="162.06" y="150.42" width="4.95" height="4.95" fill="#1a5f9e"/>
<rect x="177.04" y="150.03" width="4.95" height="4.95" fill="#1a5f9e"/>
<rect x="192.03" y="150.42" width="4.95" height="4.95" fill="#1a5f9e"/>
<path d="M59.67 80.60 V98.60 M57.47 80.60 H61.87 M57.47 98.60 H61.87" stroke="#d01c3a" stroke-width="0.9" fill="none"/>
<circle cx="59.67" cy="89.60" r="2.75" fill="#d01c3a"/>
<path d="M74.65 101.00 V131.00 M72.45 101.00 H76.85 M72.45 131.00 H76.85" stroke="#d01c3a" stroke-width="0.9" fill="none"/>
<circle cx="74.65" cy="116.00" r="2.75" fill="#d01c3a"/>
<path d="M89.63 82.20 V120.20 M87.43 82.20 H91.83 M87.43 120.20 H91.83" stroke="#d01c3a" stroke-width="0.9" fill="none"/>
<circle cx="89.63" cy="101.20" r="2.75" fill="#d01c3a"/>
<path d="M104.61 55.50 V71.50 M102.41 55.50 H106.81 M102.41 71.50 H106.81" stroke="#d01c3a" stroke-width="0.9" fill="none"/>
<circle cx="104.61" cy="63.50" r="2.75" fill="#d01c3a"/>
<circle cx="119.59" cy="56.50" r="2.75" fill="#d01c3a"/>
<path d="M134.57 61.20 V72.40 M132.37 61.20 H136.77 M132.37 72.40 H136.77" stroke="#d01c3a" stroke-width="0.9" fill="none"/>
<circle cx="134.57" cy="66.80" r="2.75" fill="#d01c3a"/>
<path d="M149.56 93.60 V101.00 M147.36 93.60 H151.76 M147.36 101.00 H151.76" stroke="#d01c3a" stroke-width="0.9" fill="none"/>
<circle cx="149.56" cy="97.30" r="2.75" fill="#d01c3a"/>
<path d="M164.54 142.80 V148.80 M162.34 142.80 H166.74 M162.34 148.80 H166.74" stroke="#d01c3a" stroke-width="0.9" fill="none"/>
<circle cx="164.54" cy="145.80" r="2.75" fill="#d01c3a"/>
<circle cx="179.52" cy="158.50" r="2.75" fill="#d01c3a"/>
<circle cx="194.50" cy="158.50" r="2.75" fill="#d01c3a"/>
<line x1="178.9" y1="18.90" x2="192.3" y2="18.90" stroke="#d01c3a" stroke-width="1.1"/>
<circle cx="185.50" cy="18.90" r="3.0" fill="#d01c3a"/>
<text x="195.80" y="21.60" font-size="7.5" text-anchor="start" font-weight="normal" fill="#222" stroke="#222" stroke-width="0.1" textLength="25" lengthAdjust="spacingAndGlyphs" >NALM6</text>
<line x1="178.9" y1="34.75" x2="192.3" y2="34.75" stroke="#1a5f9e" stroke-width="1.1"/>
<rect x="182.80" y="32.05" width="5.40" height="5.40" fill="#1a5f9e"/>
<text x="195.80" y="37.45" font-size="7.5" text-anchor="start" font-weight="normal" fill="#222" stroke="#222" stroke-width="0.1" textLength="42.7" lengthAdjust="spacingAndGlyphs" >MHH-CALL-2</text>
<line x1="178.9" y1="50.60" x2="192.3" y2="50.60" stroke="#3db64a" stroke-width="1.1"/>
<path d="M185.50 47.45 L188.80 53.00 L182.20 53.00Z" fill="#3db64a"/>
<text x="195.80" y="53.30" font-size="7.5" text-anchor="start" font-weight="normal" fill="#222" stroke="#222" stroke-width="0.1" textLength="12.5" lengthAdjust="spacingAndGlyphs" >697</text>
<line x1="178.9" y1="66.45" x2="192.3" y2="66.45" stroke="#6a2a8c" stroke-width="1.1"/>
<path d="M185.50 69.60 L188.80 64.05 L182.20 64.05Z" fill="#6a2a8c"/>
<text x="195.80" y="69.15" font-size="7.5" text-anchor="start" font-weight="normal" fill="#222" stroke="#222" stroke-width="0.1" textLength="28.4" lengthAdjust="spacingAndGlyphs" >KOPN49</text>
<line x1="178.9" y1="82.30" x2="192.3" y2="82.30" stroke="#f7931e" stroke-width="1.1"/>
<path d="M185.50 79.00 L188.80 82.30 L185.50 85.60 L182.20 82.30Z" fill="#f7931e"/>
<text x="195.80" y="85.00" font-size="7.5" text-anchor="start" font-weight="normal" fill="#222" stroke="#222" stroke-width="0.1" textLength="28.4" lengthAdjust="spacingAndGlyphs" >KOPN75</text>
<line x1="178.9" y1="98.15" x2="192.3" y2="98.15" stroke="#1b7a5e" stroke-width="1.1"/>
<circle cx="185.50" cy="98.15" r="3.0" fill="#1b7a5e"/>
<text x="195.80" y="100.85" font-size="7.5" text-anchor="start" font-weight="normal" fill="#222" stroke="#222" stroke-width="0.1" textLength="42.7" lengthAdjust="spacingAndGlyphs" >MHH-CALL-4</text>
<text x="254.00" y="15.80" font-size="12" text-anchor="start" font-weight="bold" fill="#000" >B</text>
<text x="304.00" y="25.40" font-size="9.5" text-anchor="middle" font-weight="normal" fill="#222" stroke="#222" stroke-width="0.1" textLength="80.4" lengthAdjust="spacingAndGlyphs" >MHH-CALL-4 cells,</text>
<text x="304.00" y="36.50" font-size="9.5" text-anchor="middle" font-weight="normal" fill="#222" stroke="#222" stroke-width="0.1" textLength="35" lengthAdjust="spacingAndGlyphs" >Cmpd 5</text>
<text x="0" y="0" font-size="8.9" fill="#222" transform="translate(262.63 59.90) rotate(-40)">Vehicle</text>
<text x="0" y="0" font-size="8.9" fill="#222" transform="translate(278.30 59.90) rotate(-40)">1 nM</text>
<text x="0" y="0" font-size="8.9" fill="#222" transform="translate(292.97 59.90) rotate(-40)">10 nM</text>
<text x="0" y="0" font-size="8.9" fill="#222" transform="translate(307.63 59.90) rotate(-40)">100 nM</text>
<text x="0" y="0" font-size="8.9" fill="#222" transform="translate(322.30 59.90) rotate(-40)">1 uM</text>
<text x="0" y="0" font-size="8.9" fill="#222" transform="translate(336.97 59.90) rotate(-40)">10 uM</text>
<rect x="256.50" y="61.15" width="88.00" height="8.30" fill="#d5d5d5"/>
<path d="M256.95 64.97 Q263.83 64.12 270.72 64.84 L270.72 66.53 Q263.83 67.57 256.95 66.66Z" fill="#222" fill-opacity="0.19" filter="url(#bl)"/>
<path d="M271.62 64.97 Q278.50 64.12 285.38 64.84 L285.38 66.53 Q278.50 67.57 271.62 66.66Z" fill="#222" fill-opacity="0.17" filter="url(#bl)"/>
<path d="M286.28 64.97 Q293.17 64.12 300.05 64.84 L300.05 66.53 Q293.17 67.57 286.28 66.66Z" fill="#222" fill-opacity="0.10" filter="url(#bl)"/>
<path d="M300.95 64.97 Q307.83 64.12 314.72 64.84 L314.72 66.53 Q307.83 67.57 300.95 66.66Z" fill="#222" fill-opacity="0.03" filter="url(#bl)"/>
<path d="M315.62 64.97 Q322.50 64.12 329.38 64.84 L329.38 66.53 Q322.50 67.57 315.62 66.66Z" fill="#222" fill-opacity="0.03" filter="url(#bl)"/>
<path d="M330.28 64.97 Q337.17 64.12 344.05 64.84 L344.05 66.53 Q337.17 67.57 330.28 66.66Z" fill="#222" fill-opacity="0.03" filter="url(#bl)"/>
<text x="348.10" y="68.25" font-size="8.6" text-anchor="start" font-weight="normal" fill="#222" stroke="#222" stroke-width="0.1" textLength="19" lengthAdjust="spacingAndGlyphs" >JAK1</text>
<rect x="256.50" y="71.25" width="88.00" height="7.60" fill="#d0d0d0"/>
<path d="M256.95 74.69 Q263.83 73.84 270.72 74.56 L270.72 76.25 Q263.83 77.28 256.95 76.38Z" fill="#222" fill-opacity="0.59" filter="url(#bl)"/>
<path d="M271.62 74.69 Q278.50 73.84 285.38 74.56 L285.38 76.25 Q278.50 77.28 271.62 76.38Z" fill="#222" fill-opacity="0.59" filter="url(#bl)"/>
<path d="M286.28 74.69 Q293.17 73.84 300.05 74.56 L300.05 76.25 Q293.17 77.28 286.28 76.38Z" fill="#222" fill-opacity="0.61" filter="url(#bl)"/>
<path d="M300.95 74.69 Q307.83 73.84 314.72 74.56 L314.72 76.25 Q307.83 77.28 300.95 76.38Z" fill="#222" fill-opacity="0.61" filter="url(#bl)"/>
<path d="M315.62 74.69 Q322.50 73.84 329.38 74.56 L329.38 76.25 Q322.50 77.28 315.62 76.38Z" fill="#222" fill-opacity="0.61" filter="url(#bl)"/>
<path d="M330.28 74.69 Q337.17 73.84 344.05 74.56 L344.05 76.25 Q337.17 77.28 330.28 76.38Z" fill="#222" fill-opacity="0.64" filter="url(#bl)"/>
<text x="348.10" y="78.00" font-size="8.6" text-anchor="start" font-weight="normal" fill="#222" stroke="#222" stroke-width="0.1" textLength="22" lengthAdjust="spacingAndGlyphs" >ACTB</text>
<rect x="256.50" y="87.45" width="88.00" height="7.00" fill="#e2e2e2"/>
<path d="M256.95 90.29 Q263.83 89.57 270.72 90.18 L270.72 91.61 Q263.83 92.49 256.95 91.72Z" fill="#222" fill-opacity="0.72" filter="url(#bl)"/>
<path d="M271.62 90.29 Q278.50 89.57 285.38 90.18 L285.38 91.61 Q278.50 92.49 271.62 91.72Z" fill="#222" fill-opacity="0.51" filter="url(#bl)"/>
<path d="M286.28 90.29 Q293.17 89.57 300.05 90.18 L300.05 91.61 Q293.17 92.49 286.28 91.72Z" fill="#222" fill-opacity="0.47" filter="url(#bl)"/>
<path d="M300.95 90.29 Q307.83 89.57 314.72 90.18 L314.72 91.61 Q307.83 92.49 300.95 91.72Z" fill="#222" fill-opacity="0.13" filter="url(#bl)"/>
<path d="M315.62 90.29 Q322.50 89.57 329.38 90.18 L329.38 91.61 Q322.50 92.49 315.62 91.72Z" fill="#222" fill-opacity="0.21" filter="url(#bl)"/>
<path d="M330.28 90.29 Q337.17 89.57 344.05 90.18 L344.05 91.61 Q337.17 92.49 330.28 91.72Z" fill="#222" fill-opacity="0.30" filter="url(#bl)"/>
<text x="348.10" y="93.90" font-size="8.6" text-anchor="start" font-weight="normal" fill="#222" stroke="#222" stroke-width="0.1" textLength="19" lengthAdjust="spacingAndGlyphs" >JAK2</text>
<rect x="256.50" y="96.35" width="88.00" height="6.80" fill="#dcdcdc"/>
<path d="M256.95 99.15 Q263.83 98.50 270.72 99.05 L270.72 100.35 Q263.83 101.15 256.95 100.45Z" fill="#222" fill-opacity="0.55" filter="url(#bl)"/>
<path d="M271.62 99.15 Q278.50 98.50 285.38 99.05 L285.38 100.35 Q278.50 101.15 271.62 100.45Z" fill="#222" fill-opacity="0.55" filter="url(#bl)"/>
<path d="M286.28 99.15 Q293.17 98.50 300.05 99.05 L300.05 100.35 Q293.17 101.15 286.28 100.45Z" fill="#222" fill-opacity="0.55" filter="url(#bl)"/>
<path d="M300.95 99.15 Q307.83 98.50 314.72 99.05 L314.72 100.35 Q307.83 101.15 300.95 100.45Z" fill="#222" fill-opacity="0.55" filter="url(#bl)"/>
<path d="M315.62 99.15 Q322.50 98.50 329.38 99.05 L329.38 100.35 Q322.50 101.15 315.62 100.45Z" fill="#222" fill-opacity="0.55" filter="url(#bl)"/>
<path d="M330.28 99.15 Q337.17 98.50 344.05 99.05 L344.05 100.35 Q337.17 101.15 330.28 100.45Z" fill="#222" fill-opacity="0.55" filter="url(#bl)"/>
<text x="348.10" y="102.70" font-size="8.6" text-anchor="start" font-weight="normal" fill="#222" stroke="#222" stroke-width="0.1" textLength="22" lengthAdjust="spacingAndGlyphs" >ACTB</text>
<rect x="256.50" y="113.95" width="88.00" height="8.00" fill="#d6d6d6"/>
<path d="M256.95 116.56 Q263.83 115.52 270.72 116.39 L270.72 118.47 Q263.83 119.75 256.95 118.64Z" fill="#222" fill-opacity="0.30" filter="url(#bl)"/>
<path d="M271.62 116.56 Q278.50 115.52 285.38 116.39 L285.38 118.47 Q278.50 119.75 271.62 118.64Z" fill="#222" fill-opacity="0.34" filter="url(#bl)"/>
<path d="M286.28 116.56 Q293.17 115.52 300.05 116.39 L300.05 118.47 Q293.17 119.75 286.28 118.64Z" fill="#222" fill-opacity="0.30" filter="url(#bl)"/>
<path d="M300.95 116.56 Q307.83 115.52 314.72 116.39 L314.72 118.47 Q307.83 119.75 300.95 118.64Z" fill="#222" fill-opacity="0.09" filter="url(#bl)"/>
<path d="M315.62 116.56 Q322.50 115.52 329.38 116.39 L329.38 118.47 Q322.50 119.75 315.62 118.64Z" fill="#222" fill-opacity="0.09" filter="url(#bl)"/>
<path d="M330.28 116.56 Q337.17 115.52 344.05 116.39 L344.05 118.47 Q337.17 119.75 330.28 118.64Z" fill="#222" fill-opacity="0.13" filter="url(#bl)"/>
<text x="348.10" y="120.90" font-size="8.6" text-anchor="start" font-weight="normal" fill="#222" stroke="#222" stroke-width="0.1" textLength="19" lengthAdjust="spacingAndGlyphs" >JAK3</text>
<rect x="256.50" y="123.35" width="88.00" height="6.60" fill="#dadada"/>
<path d="M256.95 125.63 Q263.83 124.91 270.72 125.52 L270.72 126.95 Q263.83 127.83 256.95 127.06Z" fill="#222" fill-opacity="0.64" filter="url(#bl)"/>
<path d="M271.62 125.63 Q278.50 124.91 285.38 125.52 L285.38 126.95 Q278.50 127.83 271.62 127.06Z" fill="#222" fill-opacity="0.64" filter="url(#bl)"/>
<path d="M286.28 125.63 Q293.17 124.91 300.05 125.52 L300.05 126.95 Q293.17 127.83 286.28 127.06Z" fill="#222" fill-opacity="0.64" filter="url(#bl)"/>
<path d="M300.95 125.63 Q307.83 124.91 314.72 125.52 L314.72 126.95 Q307.83 127.83 300.95 127.06Z" fill="#222" fill-opacity="0.64" filter="url(#bl)"/>
<path d="M315.62 125.63 Q322.50 124.91 329.38 125.52 L329.38 126.95 Q322.50 127.83 315.62 127.06Z" fill="#222" fill-opacity="0.64" filter="url(#bl)"/>
<path d="M330.28 125.63 Q337.17 124.91 344.05 125.52 L344.05 126.95 Q337.17 127.83 330.28 127.06Z" fill="#222" fill-opacity="0.68" filter="url(#bl)"/>
<text x="348.10" y="129.60" font-size="8.6" text-anchor="start" font-weight="normal" fill="#222" stroke="#222" stroke-width="0.1" textLength="22" lengthAdjust="spacingAndGlyphs" >ACTB</text>
<rect x="256.50" y="139.25" width="88.00" height="6.60" fill="#e0e0e0"/>
<path d="M256.95 141.59 Q263.83 140.94 270.72 141.49 L270.72 142.78 Q263.83 143.59 256.95 142.88Z" fill="#222" fill-opacity="0.42" filter="url(#bl)"/>
<path d="M271.62 141.59 Q278.50 140.94 285.38 141.49 L285.38 142.78 Q278.50 143.59 271.62 142.88Z" fill="#222" fill-opacity="0.42" filter="url(#bl)"/>
<path d="M286.28 141.59 Q293.17 140.94 300.05 141.49 L300.05 142.78 Q293.17 143.59 286.28 142.88Z" fill="#222" fill-opacity="0.42" filter="url(#bl)"/>
<path d="M300.95 141.59 Q307.83 140.94 314.72 141.49 L314.72 142.78 Q307.83 143.59 300.95 142.88Z" fill="#222" fill-opacity="0.26" filter="url(#bl)"/>
<path d="M315.62 141.59 Q322.50 140.94 329.38 141.49 L329.38 142.78 Q322.50 143.59 315.62 142.88Z" fill="#222" fill-opacity="0.26" filter="url(#bl)"/>
<path d="M330.28 141.59 Q337.17 140.94 344.05 141.49 L344.05 142.78 Q337.17 143.59 330.28 142.88Z" fill="#222" fill-opacity="0.34" filter="url(#bl)"/>
<text x="348.10" y="145.50" font-size="8.6" text-anchor="start" font-weight="normal" fill="#222" stroke="#222" stroke-width="0.1" textLength="19.5" lengthAdjust="spacingAndGlyphs" >TYK2</text>
<rect x="256.50" y="147.45" width="88.00" height="6.70" fill="#dedede"/>
<path d="M256.95 150.20 Q263.83 149.55 270.72 150.10 L270.72 151.40 Q263.83 152.20 256.95 151.50Z" fill="#222" fill-opacity="0.55" filter="url(#bl)"/>
<path d="M271.62 150.20 Q278.50 149.55 285.38 150.10 L285.38 151.40 Q278.50 152.20 271.62 151.50Z" fill="#222" fill-opacity="0.55" filter="url(#bl)"/>
<path d="M286.28 150.20 Q293.17 149.55 300.05 150.10 L300.05 151.40 Q293.17 152.20 286.28 151.50Z" fill="#222" fill-opacity="0.55" filter="url(#bl)"/>
<path d="M300.95 150.20 Q307.83 149.55 314.72 150.10 L314.72 151.40 Q307.83 152.20 300.95 151.50Z" fill="#222" fill-opacity="0.55" filter="url(#bl)"/>
<path d="M315.62 150.20 Q322.50 149.55 329.38 150.10 L329.38 151.40 Q322.50 152.20 315.62 151.50Z" fill="#222" fill-opacity="0.55" filter="url(#bl)"/>
<path d="M330.28 150.20 Q337.17 149.55 344.05 150.10 L344.05 151.40 Q337.17 152.20 330.28 151.50Z" fill="#222" fill-opacity="0.55" filter="url(#bl)"/>
<text x="348.10" y="153.75" font-size="8.6" text-anchor="start" font-weight="normal" fill="#222" stroke="#222" stroke-width="0.1" textLength="22" lengthAdjust="spacingAndGlyphs" >ACTB</text>
<rect x="256.50" y="164.35" width="88.00" height="7.10" fill="#e5e5e5"/>
<path d="M256.95 166.85 Q263.83 166.13 270.72 166.74 L270.72 168.17 Q263.83 169.05 256.95 168.28Z" fill="#222" fill-opacity="0.64" filter="url(#bl)"/>
<path d="M271.62 166.85 Q278.50 166.13 285.38 166.74 L285.38 168.17 Q278.50 169.05 271.62 168.28Z" fill="#222" fill-opacity="0.30" filter="url(#bl)"/>
<path d="M300.95 166.85 Q307.83 166.13 314.72 166.74 L314.72 168.17 Q307.83 169.05 300.95 168.28Z" fill="#222" fill-opacity="0.07" filter="url(#bl)"/>
<path d="M330.28 166.85 Q337.17 166.13 344.05 166.74 L344.05 168.17 Q337.17 169.05 330.28 168.28Z" fill="#222" fill-opacity="0.04" filter="url(#bl)"/>
<text x="348.10" y="170.85" font-size="8.6" text-anchor="start" font-weight="normal" fill="#222" stroke="#222" stroke-width="0.1" textLength="24.5" lengthAdjust="spacingAndGlyphs" >GSPT1</text>
<rect x="256.50" y="172.65" width="88.00" height="7.30" fill="#dadada"/>
<path d="M256.95 175.30 Q263.83 174.65 270.72 175.20 L270.72 176.50 Q263.83 177.30 256.95 176.60Z" fill="#222" fill-opacity="0.51" filter="url(#bl)"/>
<path d="M271.62 175.30 Q278.50 174.65 285.38 175.20 L285.38 176.50 Q278.50 177.30 271.62 176.60Z" fill="#222" fill-opacity="0.51" filter="url(#bl)"/>
<path d="M286.28 175.30 Q293.17 174.65 300.05 175.20 L300.05 176.50 Q293.17 177.30 286.28 176.60Z" fill="#222" fill-opacity="0.51" filter="url(#bl)"/>
<path d="M300.95 175.30 Q307.83 174.65 314.72 175.20 L314.72 176.50 Q307.83 177.30 300.95 176.60Z" fill="#222" fill-opacity="0.51" filter="url(#bl)"/>
<path d="M315.62 175.30 Q322.50 174.65 329.38 175.20 L329.38 176.50 Q322.50 177.30 315.62 176.60Z" fill="#222" fill-opacity="0.51" filter="url(#bl)"/>
<path d="M330.28 175.30 Q337.17 174.65 344.05 175.20 L344.05 176.50 Q337.17 177.30 330.28 176.60Z" fill="#222" fill-opacity="0.51" filter="url(#bl)"/>
<text x="348.10" y="179.25" font-size="8.6" text-anchor="start" font-weight="normal" fill="#222" stroke="#222" stroke-width="0.1" textLength="22" lengthAdjust="spacingAndGlyphs" >ACTB</text>
<rect x="256.50" y="188.35" width="88.00" height="8.40" fill="#c9c9c9"/>
<path d="M256.95 191.44 Q263.83 190.72 270.72 191.32 L270.72 192.75 Q263.83 193.63 256.95 192.87Z" fill="#222" fill-opacity="0.47" filter="url(#bl)"/>
<path d="M271.62 191.44 Q278.50 190.72 285.38 191.32 L285.38 192.75 Q278.50 193.63 271.62 192.87Z" fill="#222" fill-opacity="0.21" filter="url(#bl)"/>
<text x="348.10" y="195.50" font-size="8.6" text-anchor="start" font-weight="normal" fill="#222" stroke="#222" stroke-width="0.1" textLength="22" lengthAdjust="spacingAndGlyphs" >IKZF1</text>
<rect x="256.50" y="198.35" width="88.00" height="9.80" fill="#c6c6c6"/>
<path d="M256.95 202.50 Q263.83 201.46 270.72 202.34 L270.72 204.42 Q263.83 205.70 256.95 204.58Z" fill="#222" fill-opacity="0.98" filter="url(#bl)"/>
<path d="M271.62 202.50 Q278.50 201.46 285.38 202.34 L285.38 204.42 Q278.50 205.70 271.62 204.58Z" fill="#222" fill-opacity="0.98" filter="url(#bl)"/>
<path d="M286.28 202.50 Q293.17 201.46 300.05 202.34 L300.05 204.42 Q293.17 205.70 286.28 204.58Z" fill="#222" fill-opacity="0.98" filter="url(#bl)"/>
<path d="M300.95 202.50 Q307.83 201.46 314.72 202.34 L314.72 204.42 Q307.83 205.70 300.95 204.58Z" fill="#222" fill-opacity="0.98" filter="url(#bl)"/>
<path d="M315.62 202.50 Q322.50 201.46 329.38 202.34 L329.38 204.42 Q322.50 205.70 315.62 204.58Z" fill="#222" fill-opacity="0.98" filter="url(#bl)"/>
<path d="M330.28 202.50 Q337.17 201.46 344.05 202.34 L344.05 204.42 Q337.17 205.70 330.28 204.58Z" fill="#222" fill-opacity="0.98" filter="url(#bl)"/>
<text x="348.10" y="206.20" font-size="8.6" text-anchor="start" font-weight="normal" fill="#222" stroke="#222" stroke-width="0.1" textLength="22" lengthAdjust="spacingAndGlyphs" >ACTB</text>
<text x="263.83" y="85.60" font-size="6.4" text-anchor="middle" font-weight="normal" fill="#222" stroke="#222" stroke-width="0.06" >1</text>
<text x="278.50" y="85.60" font-size="6.4" text-anchor="middle" font-weight="normal" fill="#222" stroke="#222" stroke-width="0.06" >0.88</text>
<text x="293.17" y="85.60" font-size="6.4" text-anchor="middle" font-weight="normal" fill="#222" stroke="#222" stroke-width="0.06" >0.65</text>
<text x="307.83" y="85.60" font-size="6.4" text-anchor="middle" font-weight="normal" fill="#222" stroke="#222" stroke-width="0.06" >0.18</text>
<text x="322.50" y="85.60" font-size="6.4" text-anchor="middle" font-weight="normal" fill="#222" stroke="#222" stroke-width="0.06" >0.16</text>
<text x="337.17" y="85.60" font-size="6.4" text-anchor="middle" font-weight="normal" fill="#222" stroke="#222" stroke-width="0.06" >0.12</text>
<text x="263.83" y="112.00" font-size="6.4" text-anchor="middle" font-weight="normal" fill="#222" stroke="#222" stroke-width="0.06" >1</text>
<text x="278.50" y="112.00" font-size="6.4" text-anchor="middle" font-weight="normal" fill="#222" stroke="#222" stroke-width="0.06" >0.83</text>
<text x="293.17" y="112.00" font-size="6.4" text-anchor="middle" font-weight="normal" fill="#222" stroke="#222" stroke-width="0.06" >0.64</text>
<text x="307.83" y="112.00" font-size="6.4" text-anchor="middle" font-weight="normal" fill="#222" stroke="#222" stroke-width="0.06" >0.30</text>
<text x="322.50" y="112.00" font-size="6.4" text-anchor="middle" font-weight="normal" fill="#222" stroke="#222" stroke-width="0.06" >0.37</text>
<text x="337.17" y="112.00" font-size="6.4" text-anchor="middle" font-weight="normal" fill="#222" stroke="#222" stroke-width="0.06" >0.55</text>
<text x="263.83" y="137.40" font-size="6.4" text-anchor="middle" font-weight="normal" fill="#222" stroke="#222" stroke-width="0.06" >1</text>
<text x="278.50" y="137.40" font-size="6.4" text-anchor="middle" font-weight="normal" fill="#222" stroke="#222" stroke-width="0.06" >0.92</text>
<text x="293.17" y="137.40" font-size="6.4" text-anchor="middle" font-weight="normal" fill="#222" stroke="#222" stroke-width="0.06" >0.59</text>
<text x="307.83" y="137.40" font-size="6.4" text-anchor="middle" font-weight="normal" fill="#222" stroke="#222" stroke-width="0.06" >0.33</text>
<text x="322.50" y="137.40" font-size="6.4" text-anchor="middle" font-weight="normal" fill="#222" stroke="#222" stroke-width="0.06" >0.26</text>
<text x="337.17" y="137.40" font-size="6.4" text-anchor="middle" font-weight="normal" fill="#222" stroke="#222" stroke-width="0.06" >0.34</text>
<text x="263.83" y="162.00" font-size="6.4" text-anchor="middle" font-weight="normal" fill="#222" stroke="#222" stroke-width="0.06" >1</text>
<text x="278.50" y="162.00" font-size="6.4" text-anchor="middle" font-weight="normal" fill="#222" stroke="#222" stroke-width="0.06" >0.92</text>
<text x="293.17" y="162.00" font-size="6.4" text-anchor="middle" font-weight="normal" fill="#222" stroke="#222" stroke-width="0.06" >0.91</text>
<text x="307.83" y="162.00" font-size="6.4" text-anchor="middle" font-weight="normal" fill="#222" stroke="#222" stroke-width="0.06" >0.65</text>
<text x="322.50" y="162.00" font-size="6.4" text-anchor="middle" font-weight="normal" fill="#222" stroke="#222" stroke-width="0.06" >0.62</text>
<text x="337.17" y="162.00" font-size="6.4" text-anchor="middle" font-weight="normal" fill="#222" stroke="#222" stroke-width="0.06" >0.66</text>
<text x="263.83" y="186.60" font-size="6.4" text-anchor="middle" font-weight="normal" fill="#222" stroke="#222" stroke-width="0.06" >1</text>
<text x="278.50" y="186.60" font-size="6.4" text-anchor="middle" font-weight="normal" fill="#222" stroke="#222" stroke-width="0.06" >0.33</text>
<text x="293.17" y="186.60" font-size="6.4" text-anchor="middle" font-weight="normal" fill="#222" stroke="#222" stroke-width="0.06" >0.03</text>
<text x="307.83" y="186.60" font-size="6.4" text-anchor="middle" font-weight="normal" fill="#222" stroke="#222" stroke-width="0.06" >0.09</text>
<text x="322.50" y="186.60" font-size="6.4" text-anchor="middle" font-weight="normal" fill="#222" stroke="#222" stroke-width="0.06" >0.02</text>
<text x="337.17" y="186.60" font-size="6.4" text-anchor="middle" font-weight="normal" fill="#222" stroke="#222" stroke-width="0.06" >0.04</text>
<text x="263.83" y="216.20" font-size="6.4" text-anchor="middle" font-weight="normal" fill="#222" stroke="#222" stroke-width="0.06" >1</text>
<text x="278.50" y="216.20" font-size="6.4" text-anchor="middle" font-weight="normal" fill="#222" stroke="#222" stroke-width="0.06" >0.36</text>
<text x="293.17" y="216.20" font-size="6.4" text-anchor="middle" font-weight="normal" fill="#222" stroke="#222" stroke-width="0.06" >0.06</text>
<text x="307.83" y="216.20" font-size="6.4" text-anchor="middle" font-weight="normal" fill="#222" stroke="#222" stroke-width="0.06" >0.07</text>
<text x="322.50" y="216.20" font-size="6.4" text-anchor="middle" font-weight="normal" fill="#222" stroke="#222" stroke-width="0.06" >0.06</text>
<text x="337.17" y="216.20" font-size="6.4" text-anchor="middle" font-weight="normal" fill="#222" stroke="#222" stroke-width="0.06" >0.09</text>
<text x="380.50" y="15.60" font-size="12" text-anchor="start" font-weight="bold" fill="#000" >C</text>
<text x="428.70" y="25.40" font-size="9.5" text-anchor="middle" font-weight="normal" fill="#222" stroke="#222" stroke-width="0.1" textLength="80.4" lengthAdjust="spacingAndGlyphs" >MHH-CALL-4 cells,</text>
<text x="428.10" y="36.30" font-size="9.5" text-anchor="middle" font-weight="normal" fill="#222" stroke="#222" stroke-width="0.1" textLength="35" lengthAdjust="spacingAndGlyphs" >Cmpd 6</text>
<text x="0" y="0" font-size="8.9" fill="#222" transform="translate(390.09 59.90) rotate(-40)">Vehicle</text>
<text x="0" y="0" font-size="8.9" fill="#222" transform="translate(405.68 59.90) rotate(-40)">1 nM</text>
<text x="0" y="0" font-size="8.9" fill="#222" transform="translate(420.26 59.90) rotate(-40)">10 nM</text>
<text x="0" y="0" font-size="8.9" fill="#222" transform="translate(434.84 59.90) rotate(-40)">100 nM</text>
<text x="0" y="0" font-size="8.9" fill="#222" transform="translate(449.43 59.90) rotate(-40)">1 uM</text>
<text x="0" y="0" font-size="8.9" fill="#222" transform="translate(464.01 59.90) rotate(-40)">10 uM</text>
<rect x="384.00" y="60.75" width="87.50" height="7.90" fill="#d8d8d8"/>
<path d="M384.45 63.49 Q391.29 62.64 398.13 63.36 L398.13 65.05 Q391.29 66.09 384.45 65.18Z" fill="#222" fill-opacity="0.19" filter="url(#bl)"/>
<path d="M399.03 63.49 Q405.87 62.64 412.72 63.36 L412.72 65.05 Q405.87 66.09 399.03 65.18Z" fill="#222" fill-opacity="0.19" filter="url(#bl)"/>
<path d="M413.62 63.49 Q420.46 62.64 427.30 63.36 L427.30 65.05 Q420.46 66.09 413.62 65.18Z" fill="#222" fill-opacity="0.15" filter="url(#bl)"/>
<path d="M428.20 63.49 Q435.04 62.64 441.88 63.36 L441.88 65.05 Q435.04 66.09 428.20 65.18Z" fill="#222" fill-opacity="0.03" filter="url(#bl)"/>
<path d="M442.78 63.49 Q449.62 62.64 456.47 63.36 L456.47 65.05 Q449.62 66.09 442.78 65.18Z" fill="#222" fill-opacity="0.03" filter="url(#bl)"/>
<path d="M457.37 63.49 Q464.21 62.64 471.05 63.36 L471.05 65.05 Q464.21 66.09 457.37 65.18Z" fill="#222" fill-opacity="0.03" filter="url(#bl)"/>
<text x="473.70" y="67.65" font-size="8.6" text-anchor="start" font-weight="normal" fill="#222" stroke="#222" stroke-width="0.1" textLength="19" lengthAdjust="spacingAndGlyphs" >JAK1</text>
<rect x="384.00" y="70.65" width="87.50" height="7.70" fill="#d0d0d0"/>
<path d="M384.45 73.30 Q391.29 72.45 398.13 73.17 L398.13 74.86 Q391.29 75.90 384.45 74.99Z" fill="#222" fill-opacity="0.59" filter="url(#bl)"/>
<path d="M399.03 73.30 Q405.87 72.45 412.72 73.17 L412.72 74.86 Q405.87 75.90 399.03 74.99Z" fill="#222" fill-opacity="0.59" filter="url(#bl)"/>
<path d="M413.62 73.30 Q420.46 72.45 427.30 73.17 L427.30 74.86 Q420.46 75.90 413.62 74.99Z" fill="#222" fill-opacity="0.61" filter="url(#bl)"/>
<path d="M428.20 73.30 Q435.04 72.45 441.88 73.17 L441.88 74.86 Q435.04 75.90 428.20 74.99Z" fill="#222" fill-opacity="0.61" filter="url(#bl)"/>
<path d="M442.78 73.30 Q449.62 72.45 456.47 73.17 L456.47 74.86 Q449.62 75.90 442.78 74.99Z" fill="#222" fill-opacity="0.61" filter="url(#bl)"/>
<path d="M457.37 73.30 Q464.21 72.45 471.05 73.17 L471.05 74.86 Q464.21 75.90 457.37 74.99Z" fill="#222" fill-opacity="0.64" filter="url(#bl)"/>
<text x="473.70" y="77.45" font-size="8.6" text-anchor="start" font-weight="normal" fill="#222" stroke="#222" stroke-width="0.1" textLength="22" lengthAdjust="spacingAndGlyphs" >ACTB</text>
<rect x="384.00" y="87.15" width="87.50" height="7.30" fill="#e2e2e2"/>
<path d="M384.45 90.14 Q391.29 89.42 398.13 90.03 L398.13 91.46 Q391.29 92.34 384.45 91.57Z" fill="#222" fill-opacity="0.72" filter="url(#bl)"/>
<path d="M399.03 90.14 Q405.87 89.42 412.72 90.03 L412.72 91.46 Q405.87 92.34 399.03 91.57Z" fill="#222" fill-opacity="0.68" filter="url(#bl)"/>
<path d="M413.62 90.14 Q420.46 89.42 427.30 90.03 L427.30 91.46 Q420.46 92.34 413.62 91.57Z" fill="#222" fill-opacity="0.51" filter="url(#bl)"/>
<path d="M428.20 90.14 Q435.04 89.42 441.88 90.03 L441.88 91.46 Q435.04 92.34 428.20 91.57Z" fill="#222" fill-opacity="0.17" filter="url(#bl)"/>
<path d="M442.78 90.14 Q449.62 89.42 456.47 90.03 L456.47 91.46 Q449.62 92.34 442.78 91.57Z" fill="#222" fill-opacity="0.17" filter="url(#bl)"/>
<path d="M457.37 90.14 Q464.21 89.42 471.05 90.03 L471.05 91.46 Q464.21 92.34 457.37 91.57Z" fill="#222" fill-opacity="0.26" filter="url(#bl)"/>
<text x="473.70" y="93.75" font-size="8.6" text-anchor="start" font-weight="normal" fill="#222" stroke="#222" stroke-width="0.1" textLength="19" lengthAdjust="spacingAndGlyphs" >JAK2</text>
<rect x="384.00" y="96.55" width="87.50" height="7.90" fill="#dcdcdc"/>
<path d="M384.45 99.90 Q391.29 99.25 398.13 99.80 L398.13 101.10 Q391.29 101.90 384.45 101.20Z" fill="#222" fill-opacity="0.55" filter="url(#bl)"/>
<path d="M399.03 99.90 Q405.87 99.25 412.72 99.80 L412.72 101.10 Q405.87 101.90 399.03 101.20Z" fill="#222" fill-opacity="0.55" filter="url(#bl)"/>
<path d="M413.62 99.90 Q420.46 99.25 427.30 99.80 L427.30 101.10 Q420.46 101.90 413.62 101.20Z" fill="#222" fill-opacity="0.55" filter="url(#bl)"/>
<path d="M428.20 99.90 Q435.04 99.25 441.88 99.80 L441.88 101.10 Q435.04 101.90 428.20 101.20Z" fill="#222" fill-opacity="0.55" filter="url(#bl)"/>
<path d="M442.78 99.90 Q449.62 99.25 456.47 99.80 L456.47 101.10 Q449.62 101.90 442.78 101.20Z" fill="#222" fill-opacity="0.55" filter="url(#bl)"/>
<path d="M457.37 99.90 Q464.21 99.25 471.05 99.80 L471.05 101.10 Q464.21 101.90 457.37 101.20Z" fill="#222" fill-opacity="0.55" filter="url(#bl)"/>
<text x="473.70" y="103.45" font-size="8.6" text-anchor="start" font-weight="normal" fill="#222" stroke="#222" stroke-width="0.1" textLength="22" lengthAdjust="spacingAndGlyphs" >ACTB</text>
<rect x="384.00" y="113.25" width="87.50" height="8.20" fill="#d8d8d8"/>
<path d="M384.45 115.95 Q391.29 114.91 398.13 115.78 L398.13 117.86 Q391.29 119.14 384.45 118.03Z" fill="#222" fill-opacity="0.30" filter="url(#bl)"/>
<path d="M399.03 115.95 Q405.87 114.91 412.72 115.78 L412.72 117.86 Q405.87 119.14 399.03 118.03Z" fill="#222" fill-opacity="0.30" filter="url(#bl)"/>
<path d="M413.62 115.95 Q420.46 114.91 427.30 115.78 L427.30 117.86 Q420.46 119.14 413.62 118.03Z" fill="#222" fill-opacity="0.21" filter="url(#bl)"/>
<path d="M428.20 115.95 Q435.04 114.91 441.88 115.78 L441.88 117.86 Q435.04 119.14 428.20 118.03Z" fill="#222" fill-opacity="0.10" filter="url(#bl)"/>
<path d="M442.78 115.95 Q449.62 114.91 456.47 115.78 L456.47 117.86 Q449.62 119.14 442.78 118.03Z" fill="#222" fill-opacity="0.13" filter="url(#bl)"/>
<path d="M457.37 115.95 Q464.21 114.91 471.05 115.78 L471.05 117.86 Q464.21 119.14 457.37 118.03Z" fill="#222" fill-opacity="0.10" filter="url(#bl)"/>
<text x="473.70" y="120.30" font-size="8.6" text-anchor="start" font-weight="normal" fill="#222" stroke="#222" stroke-width="0.1" textLength="19" lengthAdjust="spacingAndGlyphs" >JAK3</text>
<rect x="384.00" y="123.25" width="87.50" height="7.60" fill="#dadada"/>
<path d="M384.45 125.97 Q391.29 125.26 398.13 125.86 L398.13 127.29 Q391.29 128.17 384.45 127.40Z" fill="#222" fill-opacity="0.64" filter="url(#bl)"/>
<path d="M399.03 125.97 Q405.87 125.26 412.72 125.86 L412.72 127.29 Q405.87 128.17 399.03 127.40Z" fill="#222" fill-opacity="0.64" filter="url(#bl)"/>
<path d="M413.62 125.97 Q420.46 125.26 427.30 125.86 L427.30 127.29 Q420.46 128.17 413.62 127.40Z" fill="#222" fill-opacity="0.64" filter="url(#bl)"/>
<path d="M428.20 125.97 Q435.04 125.26 441.88 125.86 L441.88 127.29 Q435.04 128.17 428.20 127.40Z" fill="#222" fill-opacity="0.64" filter="url(#bl)"/>
<path d="M442.78 125.97 Q449.62 125.26 456.47 125.86 L456.47 127.29 Q449.62 128.17 442.78 127.40Z" fill="#222" fill-opacity="0.64" filter="url(#bl)"/>
<path d="M457.37 125.97 Q464.21 125.26 471.05 125.86 L471.05 127.29 Q464.21 128.17 457.37 127.40Z" fill="#222" fill-opacity="0.68" filter="url(#bl)"/>
<text x="473.70" y="130.00" font-size="8.6" text-anchor="start" font-weight="normal" fill="#222" stroke="#222" stroke-width="0.1" textLength="22" lengthAdjust="spacingAndGlyphs" >ACTB</text>
<rect x="384.00" y="138.85" width="87.50" height="7.30" fill="#e0e0e0"/>
<path d="M384.45 141.50 Q391.29 140.85 398.13 141.40 L398.13 142.70 Q391.29 143.50 384.45 142.80Z" fill="#222" fill-opacity="0.42" filter="url(#bl)"/>
<path d="M399.03 141.50 Q405.87 140.85 412.72 141.40 L412.72 142.70 Q405.87 143.50 399.03 142.80Z" fill="#222" fill-opacity="0.38" filter="url(#bl)"/>
<path d="M413.62 141.50 Q420.46 140.85 427.30 141.40 L427.30 142.70 Q420.46 143.50 413.62 142.80Z" fill="#222" fill-opacity="0.38" filter="url(#bl)"/>
<path d="M428.20 141.50 Q435.04 140.85 441.88 141.40 L441.88 142.70 Q435.04 143.50 428.20 142.80Z" fill="#222" fill-opacity="0.30" filter="url(#bl)"/>
<path d="M442.78 141.50 Q449.62 140.85 456.47 141.40 L456.47 142.70 Q449.62 143.50 442.78 142.80Z" fill="#222" fill-opacity="0.30" filter="url(#bl)"/>
<path d="M457.37 141.50 Q464.21 140.85 471.05 141.40 L471.05 142.70 Q464.21 143.50 457.37 142.80Z" fill="#222" fill-opacity="0.34" filter="url(#bl)"/>
<text x="473.70" y="145.45" font-size="8.6" text-anchor="start" font-weight="normal" fill="#222" stroke="#222" stroke-width="0.1" textLength="19.5" lengthAdjust="spacingAndGlyphs" >TYK2</text>
<rect x="384.00" y="147.75" width="87.50" height="7.30" fill="#dedede"/>
<path d="M384.45 150.80 Q391.29 150.15 398.13 150.70 L398.13 152.00 Q391.29 152.80 384.45 152.10Z" fill="#222" fill-opacity="0.55" filter="url(#bl)"/>
<path d="M399.03 150.80 Q405.87 150.15 412.72 150.70 L412.72 152.00 Q405.87 152.80 399.03 152.10Z" fill="#222" fill-opacity="0.55" filter="url(#bl)"/>
<path d="M413.62 150.80 Q420.46 150.15 427.30 150.70 L427.30 152.00 Q420.46 152.80 413.62 152.10Z" fill="#222" fill-opacity="0.55" filter="url(#bl)"/>
<path d="M428.20 150.80 Q435.04 150.15 441.88 150.70 L441.88 152.00 Q435.04 152.80 428.20 152.10Z" fill="#222" fill-opacity="0.55" filter="url(#bl)"/>
<path d="M442.78 150.80 Q449.62 150.15 456.47 150.70 L456.47 152.00 Q449.62 152.80 442.78 152.10Z" fill="#222" fill-opacity="0.55" filter="url(#bl)"/>
<path d="M457.37 150.80 Q464.21 150.15 471.05 150.70 L471.05 152.00 Q464.21 152.80 457.37 152.10Z" fill="#222" fill-opacity="0.55" filter="url(#bl)"/>
<text x="473.70" y="154.35" font-size="8.6" text-anchor="start" font-weight="normal" fill="#222" stroke="#222" stroke-width="0.1" textLength="22" lengthAdjust="spacingAndGlyphs" >ACTB</text>
<rect x="384.00" y="163.85" width="87.50" height="6.80" fill="#e6e6e6"/>
<path d="M384.45 166.22 Q391.29 165.50 398.13 166.10 L398.13 167.53 Q391.29 168.41 384.45 167.65Z" fill="#222" fill-opacity="0.68" filter="url(#bl)"/>
<path d="M399.03 166.22 Q405.87 165.50 412.72 166.10 L412.72 167.53 Q405.87 168.41 399.03 167.65Z" fill="#222" fill-opacity="0.30" filter="url(#bl)"/>
<text x="473.70" y="170.20" font-size="8.6" text-anchor="start" font-weight="normal" fill="#222" stroke="#222" stroke-width="0.1" textLength="24.5" lengthAdjust="spacingAndGlyphs" >GSPT1</text>
<rect x="384.00" y="172.35" width="87.50" height="8.30" fill="#dadada"/>
<path d="M384.45 175.45 Q391.29 174.80 398.13 175.35 L398.13 176.65 Q391.29 177.45 384.45 176.75Z" fill="#222" fill-opacity="0.51" filter="url(#bl)"/>
<path d="M399.03 175.45 Q405.87 174.80 412.72 175.35 L412.72 176.65 Q405.87 177.45 399.03 176.75Z" fill="#222" fill-opacity="0.51" filter="url(#bl)"/>
<path d="M413.62 175.45 Q420.46 174.80 427.30 175.35 L427.30 176.65 Q420.46 177.45 413.62 176.75Z" fill="#222" fill-opacity="0.51" filter="url(#bl)"/>
<path d="M428.20 175.45 Q435.04 174.80 441.88 175.35 L441.88 176.65 Q435.04 177.45 428.20 176.75Z" fill="#222" fill-opacity="0.51" filter="url(#bl)"/>
<path d="M442.78 175.45 Q449.62 174.80 456.47 175.35 L456.47 176.65 Q449.62 177.45 442.78 176.75Z" fill="#222" fill-opacity="0.51" filter="url(#bl)"/>
<path d="M457.37 175.45 Q464.21 174.80 471.05 175.35 L471.05 176.65 Q464.21 177.45 457.37 176.75Z" fill="#222" fill-opacity="0.51" filter="url(#bl)"/>
<text x="473.70" y="179.45" font-size="8.6" text-anchor="start" font-weight="normal" fill="#222" stroke="#222" stroke-width="0.1" textLength="22" lengthAdjust="spacingAndGlyphs" >ACTB</text>
<rect x="384.00" y="189.35" width="87.50" height="8.30" fill="#cbcbcb"/>
<path d="M384.45 192.39 Q391.29 191.68 398.13 192.28 L398.13 193.71 Q391.29 194.59 384.45 193.82Z" fill="#222" fill-opacity="0.42" filter="url(#bl)"/>
<path d="M399.03 192.39 Q405.87 191.68 412.72 192.28 L412.72 193.71 Q405.87 194.59 399.03 193.82Z" fill="#222" fill-opacity="0.26" filter="url(#bl)"/>
<path d="M413.62 192.39 Q420.46 191.68 427.30 192.28 L427.30 193.71 Q420.46 194.59 413.62 193.82Z" fill="#222" fill-opacity="0.04" filter="url(#bl)"/>
<text x="473.70" y="196.45" font-size="8.6" text-anchor="start" font-weight="normal" fill="#222" stroke="#222" stroke-width="0.1" textLength="22" lengthAdjust="spacingAndGlyphs" >IKZF1</text>
<rect x="384.00" y="198.85" width="87.50" height="8.20" fill="#c6c6c6"/>
<path d="M384.45 202.17 Q391.29 201.13 398.13 202.01 L398.13 204.09 Q391.29 205.37 384.45 204.25Z" fill="#222" fill-opacity="0.98" filter="url(#bl)"/>
<path d="M399.03 202.17 Q405.87 201.13 412.72 202.01 L412.72 204.09 Q405.87 205.37 399.03 204.25Z" fill="#222" fill-opacity="0.98" filter="url(#bl)"/>
<path d="M413.62 202.17 Q420.46 201.13 427.30 202.01 L427.30 204.09 Q420.46 205.37 413.62 204.25Z" fill="#222" fill-opacity="0.98" filter="url(#bl)"/>
<path d="M428.20 202.17 Q435.04 201.13 441.88 202.01 L441.88 204.09 Q435.04 205.37 428.20 204.25Z" fill="#222" fill-opacity="0.98" filter="url(#bl)"/>
<path d="M442.78 202.17 Q449.62 201.13 456.47 202.01 L456.47 204.09 Q449.62 205.37 442.78 204.25Z" fill="#222" fill-opacity="0.98" filter="url(#bl)"/>
<path d="M457.37 202.17 Q464.21 201.13 471.05 202.01 L471.05 204.09 Q464.21 205.37 457.37 204.25Z" fill="#222" fill-opacity="0.98" filter="url(#bl)"/>
<text x="473.70" y="205.90" font-size="8.6" text-anchor="start" font-weight="normal" fill="#222" stroke="#222" stroke-width="0.1" textLength="22" lengthAdjust="spacingAndGlyphs" >ACTB</text>
<text x="391.29" y="85.30" font-size="6.4" text-anchor="middle" font-weight="normal" fill="#222" stroke="#222" stroke-width="0.06" >1</text>
<text x="405.88" y="85.30" font-size="6.4" text-anchor="middle" font-weight="normal" fill="#222" stroke="#222" stroke-width="0.06" >0.94</text>
<text x="420.46" y="85.30" font-size="6.4" text-anchor="middle" font-weight="normal" fill="#222" stroke="#222" stroke-width="0.06" >0.57</text>
<text x="435.04" y="85.30" font-size="6.4" text-anchor="middle" font-weight="normal" fill="#222" stroke="#222" stroke-width="0.06" >0.22</text>
<text x="449.62" y="85.30" font-size="6.4" text-anchor="middle" font-weight="normal" fill="#222" stroke="#222" stroke-width="0.06" >0.13</text>
<text x="464.21" y="85.30" font-size="6.4" text-anchor="middle" font-weight="normal" fill="#222" stroke="#222" stroke-width="0.06" >0.11</text>
<text x="391.29" y="112.30" font-size="6.4" text-anchor="middle" font-weight="normal" fill="#222" stroke="#222" stroke-width="0.06" >1</text>
<text x="405.88" y="112.30" font-size="6.4" text-anchor="middle" font-weight="normal" fill="#222" stroke="#222" stroke-width="0.06" >0.89</text>
<text x="420.46" y="112.30" font-size="6.4" text-anchor="middle" font-weight="normal" fill="#222" stroke="#222" stroke-width="0.06" >0.69</text>
<text x="435.04" y="112.30" font-size="6.4" text-anchor="middle" font-weight="normal" fill="#222" stroke="#222" stroke-width="0.06" >0.32</text>
<text x="449.62" y="112.30" font-size="6.4" text-anchor="middle" font-weight="normal" fill="#222" stroke="#222" stroke-width="0.06" >0.36</text>
<text x="464.21" y="112.30" font-size="6.4" text-anchor="middle" font-weight="normal" fill="#222" stroke="#222" stroke-width="0.06" >0.39</text>
<text x="391.29" y="137.60" font-size="6.4" text-anchor="middle" font-weight="normal" fill="#222" stroke="#222" stroke-width="0.06" >1</text>
<text x="405.88" y="137.60" font-size="6.4" text-anchor="middle" font-weight="normal" fill="#222" stroke="#222" stroke-width="0.06" >0.81</text>
<text x="420.46" y="137.60" font-size="6.4" text-anchor="middle" font-weight="normal" fill="#222" stroke="#222" stroke-width="0.06" >0.50</text>
<text x="435.04" y="137.60" font-size="6.4" text-anchor="middle" font-weight="normal" fill="#222" stroke="#222" stroke-width="0.06" >0.32</text>
<text x="449.62" y="137.60" font-size="6.4" text-anchor="middle" font-weight="normal" fill="#222" stroke="#222" stroke-width="0.06" >0.36</text>
<text x="464.21" y="137.60" font-size="6.4" text-anchor="middle" font-weight="normal" fill="#222" stroke="#222" stroke-width="0.06" >0.25</text>
<text x="391.29" y="161.30" font-size="6.4" text-anchor="middle" font-weight="normal" fill="#222" stroke="#222" stroke-width="0.06" >1</text>
<text x="405.88" y="161.30" font-size="6.4" text-anchor="middle" font-weight="normal" fill="#222" stroke="#222" stroke-width="0.06" >0.89</text>
<text x="420.46" y="161.30" font-size="6.4" text-anchor="middle" font-weight="normal" fill="#222" stroke="#222" stroke-width="0.06" >0.83</text>
<text x="435.04" y="161.30" font-size="6.4" text-anchor="middle" font-weight="normal" fill="#222" stroke="#222" stroke-width="0.06" >0.67</text>
<text x="449.62" y="161.30" font-size="6.4" text-anchor="middle" font-weight="normal" fill="#222" stroke="#222" stroke-width="0.06" >0.65</text>
<text x="464.21" y="161.30" font-size="6.4" text-anchor="middle" font-weight="normal" fill="#222" stroke="#222" stroke-width="0.06" >0.69</text>
<text x="391.29" y="186.90" font-size="6.4" text-anchor="middle" font-weight="normal" fill="#222" stroke="#222" stroke-width="0.06" >1</text>
<text x="405.88" y="186.90" font-size="6.4" text-anchor="middle" font-weight="normal" fill="#222" stroke="#222" stroke-width="0.06" >0.41</text>
<text x="420.46" y="186.90" font-size="6.4" text-anchor="middle" font-weight="normal" fill="#222" stroke="#222" stroke-width="0.06" >0.03</text>
<text x="435.04" y="186.90" font-size="6.4" text-anchor="middle" font-weight="normal" fill="#222" stroke="#222" stroke-width="0.06" >0.01</text>
<text x="449.62" y="186.90" font-size="6.4" text-anchor="middle" font-weight="normal" fill="#222" stroke="#222" stroke-width="0.06" >0.14</text>
<text x="464.21" y="186.90" font-size="6.4" text-anchor="middle" font-weight="normal" fill="#222" stroke="#222" stroke-width="0.06" >0.01</text>
<text x="391.29" y="216.40" font-size="6.4" text-anchor="middle" font-weight="normal" fill="#222" stroke="#222" stroke-width="0.06" >1</text>
<text x="405.88" y="216.40" font-size="6.4" text-anchor="middle" font-weight="normal" fill="#222" stroke="#222" stroke-width="0.06" >0.42</text>
<text x="420.46" y="216.40" font-size="6.4" text-anchor="middle" font-weight="normal" fill="#222" stroke="#222" stroke-width="0.06" >0.08</text>
<text x="435.04" y="216.40" font-size="6.4" text-anchor="middle" font-weight="normal" fill="#222" stroke="#222" stroke-width="0.06" >0.02</text>
<text x="449.62" y="216.40" font-size="6.4" text-anchor="middle" font-weight="normal" fill="#222" stroke="#222" stroke-width="0.06" >0.05</text>
<text x="464.21" y="216.40" font-size="6.4" text-anchor="middle" font-weight="normal" fill="#222" stroke="#222" stroke-width="0.06" >0.00</text>
<text x="12.00" y="235.40" font-size="12" text-anchor="start" font-weight="bold" fill="#000" >D</text>
<text x="12.00" y="246.00" font-size="9.5" text-anchor="start" font-weight="normal" fill="#222" stroke="#222" stroke-width="0.1" textLength="80" lengthAdjust="spacingAndGlyphs" >MHH-CALL-4 cells,</text>
<text x="34.50" y="256.80" font-size="9.5" text-anchor="start" font-weight="normal" fill="#222" stroke="#222" stroke-width="0.1" textLength="34.3" lengthAdjust="spacingAndGlyphs" >Cmpd 7</text>
<text x="0" y="0" font-size="8.9" fill="#222" transform="translate(11.81 283.40) rotate(-40)">Vehicle</text>
<text x="0" y="0" font-size="8.9" fill="#222" transform="translate(28.92 283.40) rotate(-40)">1nM</text>
<text x="0" y="0" font-size="8.9" fill="#222" transform="translate(43.74 283.40) rotate(-40)">10 nM</text>
<text x="0" y="0" font-size="8.9" fill="#222" transform="translate(58.56 283.40) rotate(-40)">100 nM</text>
<text x="0" y="0" font-size="8.9" fill="#222" transform="translate(73.38 283.40) rotate(-40)">1 uM</text>
<text x="0" y="0" font-size="8.9" fill="#222" transform="translate(88.19 283.40) rotate(-40)">4 uM</text>
<rect x="7.70" y="283.05" width="88.90" height="8.50" fill="#d8d8d8"/>
<path d="M8.15 286.68 Q15.11 285.51 22.07 286.50 L22.07 288.84 Q15.11 290.28 8.15 289.02Z" fill="#222" fill-opacity="0.42" filter="url(#bl)"/>
<path d="M22.97 286.68 Q29.92 285.51 36.88 286.50 L36.88 288.84 Q29.92 290.28 22.97 289.02Z" fill="#222" fill-opacity="0.59" filter="url(#bl)"/>
<path d="M37.78 286.68 Q44.74 285.51 51.70 286.50 L51.70 288.84 Q44.74 290.28 37.78 289.02Z" fill="#222" fill-opacity="0.15" filter="url(#bl)"/>
<path d="M52.60 286.68 Q59.56 285.51 66.52 286.50 L66.52 288.84 Q59.56 290.28 52.60 289.02Z" fill="#222" fill-opacity="0.15" filter="url(#bl)"/>
<path d="M67.42 286.68 Q74.37 285.51 81.33 286.50 L81.33 288.84 Q74.37 290.28 67.42 289.02Z" fill="#222" fill-opacity="0.13" filter="url(#bl)"/>
<path d="M82.23 286.68 Q89.19 285.51 96.15 286.50 L96.15 288.84 Q89.19 290.28 82.23 289.02Z" fill="#222" fill-opacity="0.09" filter="url(#bl)"/>
<text x="98.80" y="290.25" font-size="8.6" text-anchor="start" font-weight="normal" fill="#222" stroke="#222" stroke-width="0.1" textLength="19" lengthAdjust="spacingAndGlyphs" >JAK1</text>
<rect x="7.70" y="293.55" width="88.90" height="8.10" fill="#d2d2d2"/>
<path d="M8.15 297.28 Q15.11 296.18 22.07 297.11 L22.07 299.32 Q15.11 300.68 8.15 299.49Z" fill="#222" fill-opacity="0.47" filter="url(#bl)"/>
<path d="M22.97 297.28 Q29.92 296.18 36.88 297.11 L36.88 299.32 Q29.92 300.68 22.97 299.49Z" fill="#222" fill-opacity="0.47" filter="url(#bl)"/>
<path d="M37.78 297.28 Q44.74 296.18 51.70 297.11 L51.70 299.32 Q44.74 300.68 37.78 299.49Z" fill="#222" fill-opacity="0.47" filter="url(#bl)"/>
<path d="M52.60 297.28 Q59.56 296.18 66.52 297.11 L66.52 299.32 Q59.56 300.68 52.60 299.49Z" fill="#222" fill-opacity="0.47" filter="url(#bl)"/>
<path d="M67.42 297.28 Q74.37 296.18 81.33 297.11 L81.33 299.32 Q74.37 300.68 67.42 299.49Z" fill="#222" fill-opacity="0.47" filter="url(#bl)"/>
<path d="M82.23 297.28 Q89.19 296.18 96.15 297.11 L96.15 299.32 Q89.19 300.68 82.23 299.49Z" fill="#222" fill-opacity="0.51" filter="url(#bl)"/>
<text x="98.80" y="300.55" font-size="8.6" text-anchor="start" font-weight="normal" fill="#222" stroke="#222" stroke-width="0.1" textLength="22" lengthAdjust="spacingAndGlyphs" >ACTB</text>
<rect x="7.70" y="311.75" width="88.90" height="7.40" fill="#e4e4e4"/>
<path d="M8.15 314.95 Q15.11 314.24 22.07 314.84 L22.07 316.27 Q15.11 317.15 8.15 316.38Z" fill="#222" fill-opacity="0.42" filter="url(#bl)"/>
<path d="M22.97 314.95 Q29.92 314.24 36.88 314.84 L36.88 316.27 Q29.92 317.15 22.97 316.38Z" fill="#222" fill-opacity="0.38" filter="url(#bl)"/>
<path d="M37.78 314.95 Q44.74 314.24 51.70 314.84 L51.70 316.27 Q44.74 317.15 37.78 316.38Z" fill="#222" fill-opacity="0.34" filter="url(#bl)"/>
<path d="M52.60 314.95 Q59.56 314.24 66.52 314.84 L66.52 316.27 Q59.56 317.15 52.60 316.38Z" fill="#222" fill-opacity="0.34" filter="url(#bl)"/>
<path d="M67.42 314.95 Q74.37 314.24 81.33 314.84 L81.33 316.27 Q74.37 317.15 67.42 316.38Z" fill="#222" fill-opacity="0.38" filter="url(#bl)"/>
<path d="M82.23 314.95 Q89.19 314.24 96.15 314.84 L96.15 316.27 Q89.19 317.15 82.23 316.38Z" fill="#222" fill-opacity="0.42" filter="url(#bl)"/>
<text x="98.80" y="318.40" font-size="8.6" text-anchor="start" font-weight="normal" fill="#222" stroke="#222" stroke-width="0.1" textLength="19" lengthAdjust="spacingAndGlyphs" >JAK2</text>
<rect x="7.70" y="320.95" width="88.90" height="9.45" fill="#dadada"/>
<path d="M8.15 324.90 Q15.11 324.05 22.07 324.76 L22.07 326.45 Q15.11 327.50 8.15 326.59Z" fill="#222" fill-opacity="0.47" filter="url(#bl)"/>
<path d="M22.97 324.90 Q29.92 324.05 36.88 324.76 L36.88 326.45 Q29.92 327.50 22.97 326.59Z" fill="#222" fill-opacity="0.47" filter="url(#bl)"/>
<path d="M37.78 324.90 Q44.74 324.05 51.70 324.76 L51.70 326.45 Q44.74 327.50 37.78 326.59Z" fill="#222" fill-opacity="0.47" filter="url(#bl)"/>
<path d="M52.60 324.90 Q59.56 324.05 66.52 324.76 L66.52 326.45 Q59.56 327.50 52.60 326.59Z" fill="#222" fill-opacity="0.47" filter="url(#bl)"/>
<path d="M67.42 324.90 Q74.37 324.05 81.33 324.76 L81.33 326.45 Q74.37 327.50 67.42 326.59Z" fill="#222" fill-opacity="0.47" filter="url(#bl)"/>
<path d="M82.23 324.90 Q89.19 324.05 96.15 324.76 L96.15 326.45 Q89.19 327.50 82.23 326.59Z" fill="#222" fill-opacity="0.47" filter="url(#bl)"/>
<text x="98.80" y="328.62" font-size="8.6" text-anchor="start" font-weight="normal" fill="#222" stroke="#222" stroke-width="0.1" textLength="22" lengthAdjust="spacingAndGlyphs" >ACTB</text>
<rect x="7.70" y="338.05" width="88.90" height="9.00" fill="#dadada"/>
<path d="M8.15 340.49 Q15.11 339.51 22.07 340.34 L22.07 342.29 Q15.11 343.49 8.15 342.44Z" fill="#222" fill-opacity="0.59" filter="url(#bl)"/>
<path d="M22.97 340.49 Q29.92 339.51 36.88 340.34 L36.88 342.29 Q29.92 343.49 22.97 342.44Z" fill="#222" fill-opacity="0.30" filter="url(#bl)"/>
<path d="M37.78 340.49 Q44.74 339.51 51.70 340.34 L51.70 342.29 Q44.74 343.49 37.78 342.44Z" fill="#222" fill-opacity="0.17" filter="url(#bl)"/>
<path d="M52.60 340.49 Q59.56 339.51 66.52 340.34 L66.52 342.29 Q59.56 343.49 52.60 342.44Z" fill="#222" fill-opacity="0.17" filter="url(#bl)"/>
<path d="M67.42 340.49 Q74.37 339.51 81.33 340.34 L81.33 342.29 Q74.37 343.49 67.42 342.44Z" fill="#222" fill-opacity="0.26" filter="url(#bl)"/>
<path d="M82.23 340.49 Q89.19 339.51 96.15 340.34 L96.15 342.29 Q89.19 343.49 82.23 342.44Z" fill="#222" fill-opacity="0.26" filter="url(#bl)"/>
<text x="98.80" y="345.50" font-size="8.6" text-anchor="start" font-weight="normal" fill="#222" stroke="#222" stroke-width="0.1" textLength="19" lengthAdjust="spacingAndGlyphs" >JAK3</text>
<rect x="7.70" y="348.75" width="88.90" height="6.30" fill="#d8d8d8"/>
<path d="M8.15 351.12 Q15.11 350.27 22.07 350.99 L22.07 352.68 Q15.11 353.72 8.15 352.81Z" fill="#222" fill-opacity="0.51" filter="url(#bl)"/>
<path d="M22.97 351.12 Q29.92 350.27 36.88 350.99 L36.88 352.68 Q29.92 353.72 22.97 352.81Z" fill="#222" fill-opacity="0.51" filter="url(#bl)"/>
<path d="M37.78 351.12 Q44.74 350.27 51.70 350.99 L51.70 352.68 Q44.74 353.72 37.78 352.81Z" fill="#222" fill-opacity="0.51" filter="url(#bl)"/>
<path d="M52.60 351.12 Q59.56 350.27 66.52 350.99 L66.52 352.68 Q59.56 353.72 52.60 352.81Z" fill="#222" fill-opacity="0.51" filter="url(#bl)"/>
<path d="M67.42 351.12 Q74.37 350.27 81.33 350.99 L81.33 352.68 Q74.37 353.72 67.42 352.81Z" fill="#222" fill-opacity="0.51" filter="url(#bl)"/>
<path d="M82.23 351.12 Q89.19 350.27 96.15 350.99 L96.15 352.68 Q89.19 353.72 82.23 352.81Z" fill="#222" fill-opacity="0.51" filter="url(#bl)"/>
<text x="98.80" y="354.85" font-size="8.6" text-anchor="start" font-weight="normal" fill="#222" stroke="#222" stroke-width="0.1" textLength="22" lengthAdjust="spacingAndGlyphs" >ACTB</text>
<rect x="7.70" y="364.65" width="88.90" height="7.50" fill="#b8b8b8"/>
<path d="M8.15 367.50 Q15.11 366.52 22.07 367.35 L22.07 369.30 Q15.11 370.50 8.15 369.45Z" fill="#222" fill-opacity="0.85" filter="url(#bl)"/>
<path d="M22.97 367.50 Q29.92 366.52 36.88 367.35 L36.88 369.30 Q29.92 370.50 22.97 369.45Z" fill="#222" fill-opacity="0.81" filter="url(#bl)"/>
<path d="M37.78 367.50 Q44.74 366.52 51.70 367.35 L51.70 369.30 Q44.74 370.50 37.78 369.45Z" fill="#222" fill-opacity="0.77" filter="url(#bl)"/>
<path d="M52.60 367.50 Q59.56 366.52 66.52 367.35 L66.52 369.30 Q59.56 370.50 52.60 369.45Z" fill="#222" fill-opacity="0.81" filter="url(#bl)"/>
<path d="M67.42 367.50 Q74.37 366.52 81.33 367.35 L81.33 369.30 Q74.37 370.50 67.42 369.45Z" fill="#222" fill-opacity="0.85" filter="url(#bl)"/>
<path d="M82.23 367.50 Q89.19 366.52 96.15 367.35 L96.15 369.30 Q89.19 370.50 82.23 369.45Z" fill="#222" fill-opacity="0.85" filter="url(#bl)"/>
<text x="98.80" y="371.35" font-size="8.6" text-anchor="start" font-weight="normal" fill="#222" stroke="#222" stroke-width="0.1" textLength="19.5" lengthAdjust="spacingAndGlyphs" >TYK2</text>
<rect x="7.70" y="373.95" width="88.90" height="7.50" fill="#d4d4d4"/>
<path d="M8.15 376.39 Q15.11 375.42 22.07 376.24 L22.07 378.19 Q15.11 379.39 8.15 378.34Z" fill="#222" fill-opacity="0.55" filter="url(#bl)"/>
<path d="M22.97 376.39 Q29.92 375.42 36.88 376.24 L36.88 378.19 Q29.92 379.39 22.97 378.34Z" fill="#222" fill-opacity="0.55" filter="url(#bl)"/>
<path d="M37.78 376.39 Q44.74 375.42 51.70 376.24 L51.70 378.19 Q44.74 379.39 37.78 378.34Z" fill="#222" fill-opacity="0.55" filter="url(#bl)"/>
<path d="M52.60 376.39 Q59.56 375.42 66.52 376.24 L66.52 378.19 Q59.56 379.39 52.60 378.34Z" fill="#222" fill-opacity="0.55" filter="url(#bl)"/>
<path d="M67.42 376.39 Q74.37 375.42 81.33 376.24 L81.33 378.19 Q74.37 379.39 67.42 378.34Z" fill="#222" fill-opacity="0.55" filter="url(#bl)"/>
<path d="M82.23 376.39 Q89.19 375.42 96.15 376.24 L96.15 378.19 Q89.19 379.39 82.23 378.34Z" fill="#222" fill-opacity="0.59" filter="url(#bl)"/>
<text x="98.80" y="380.65" font-size="8.6" text-anchor="start" font-weight="normal" fill="#222" stroke="#222" stroke-width="0.1" textLength="22" lengthAdjust="spacingAndGlyphs" >ACTB</text>
<rect x="7.70" y="390.95" width="88.90" height="6.90" fill="#e0e0e0"/>
<path d="M8.15 393.30 Q15.11 392.52 22.07 393.18 L22.07 394.74 Q15.11 395.70 8.15 394.86Z" fill="#222" fill-opacity="0.51" filter="url(#bl)"/>
<text x="98.80" y="397.35" font-size="8.6" text-anchor="start" font-weight="normal" fill="#222" stroke="#222" stroke-width="0.1" textLength="24.5" lengthAdjust="spacingAndGlyphs" >GSPT1</text>
<rect x="7.70" y="399.55" width="88.90" height="7.90" fill="#d2d2d2"/>
<path d="M8.15 401.31 Q15.11 400.33 22.07 401.16 L22.07 403.11 Q15.11 404.31 8.15 403.26Z" fill="#222" fill-opacity="0.30" filter="url(#bl)"/>
<path d="M22.97 401.31 Q29.92 400.33 36.88 401.16 L36.88 403.11 Q29.92 404.31 22.97 403.26Z" fill="#222" fill-opacity="0.30" filter="url(#bl)"/>
<path d="M37.78 401.31 Q44.74 400.33 51.70 401.16 L51.70 403.11 Q44.74 404.31 37.78 403.26Z" fill="#222" fill-opacity="0.30" filter="url(#bl)"/>
<path d="M52.60 401.31 Q59.56 400.33 66.52 401.16 L66.52 403.11 Q59.56 404.31 52.60 403.26Z" fill="#222" fill-opacity="0.30" filter="url(#bl)"/>
<path d="M67.42 401.31 Q74.37 400.33 81.33 401.16 L81.33 403.11 Q74.37 404.31 67.42 403.26Z" fill="#222" fill-opacity="0.30" filter="url(#bl)"/>
<path d="M82.23 401.31 Q89.19 400.33 96.15 401.16 L96.15 403.11 Q89.19 404.31 82.23 403.26Z" fill="#222" fill-opacity="0.30" filter="url(#bl)"/>
<text x="98.80" y="406.45" font-size="8.6" text-anchor="start" font-weight="normal" fill="#222" stroke="#222" stroke-width="0.1" textLength="22" lengthAdjust="spacingAndGlyphs" >ACTB</text>
<rect x="7.70" y="416.75" width="88.90" height="9.30" fill="#d4d4d4"/>
<path d="M8.15 419.68 Q15.11 418.90 22.07 419.56 L22.07 421.12 Q15.11 422.08 8.15 421.24Z" fill="#222" fill-opacity="0.64" filter="url(#bl)"/>
<text x="98.80" y="424.35" font-size="8.6" text-anchor="start" font-weight="normal" fill="#222" stroke="#222" stroke-width="0.1" textLength="22" lengthAdjust="spacingAndGlyphs" >IKZF1</text>
<rect x="7.70" y="427.65" width="88.90" height="7.90" fill="#d8d8d8"/>
<path d="M8.15 429.53 Q15.11 428.69 22.07 429.40 L22.07 431.09 Q15.11 432.13 8.15 431.22Z" fill="#222" fill-opacity="0.38" filter="url(#bl)"/>
<path d="M22.97 429.53 Q29.92 428.69 36.88 429.40 L36.88 431.09 Q29.92 432.13 22.97 431.22Z" fill="#222" fill-opacity="0.38" filter="url(#bl)"/>
<path d="M37.78 429.53 Q44.74 428.69 51.70 429.40 L51.70 431.09 Q44.74 432.13 37.78 431.22Z" fill="#222" fill-opacity="0.38" filter="url(#bl)"/>
<path d="M52.60 429.53 Q59.56 428.69 66.52 429.40 L66.52 431.09 Q59.56 432.13 52.60 431.22Z" fill="#222" fill-opacity="0.38" filter="url(#bl)"/>
<path d="M67.42 429.53 Q74.37 428.69 81.33 429.40 L81.33 431.09 Q74.37 432.13 67.42 431.22Z" fill="#222" fill-opacity="0.38" filter="url(#bl)"/>
<path d="M82.23 429.53 Q89.19 428.69 96.15 429.40 L96.15 431.09 Q89.19 432.13 82.23 431.22Z" fill="#222" fill-opacity="0.38" filter="url(#bl)"/>
<text x="98.80" y="434.55" font-size="8.6" text-anchor="start" font-weight="normal" fill="#222" stroke="#222" stroke-width="0.1" textLength="22" lengthAdjust="spacingAndGlyphs" >ACTB</text>
<line x1="23.3" y1="283.05" x2="23.3" y2="291.55" stroke="#333" stroke-width="0.9"/>
<line x1="23.3" y1="293.55" x2="23.3" y2="301.65" stroke="#333" stroke-width="0.9"/>
<line x1="23.3" y1="311.75" x2="23.3" y2="319.15" stroke="#333" stroke-width="0.9"/>
<line x1="23.3" y1="320.95" x2="23.3" y2="330.40" stroke="#333" stroke-width="0.9"/>
<line x1="23.3" y1="338.05" x2="23.3" y2="347.05" stroke="#333" stroke-width="0.9"/>
<line x1="23.3" y1="348.75" x2="23.3" y2="355.05" stroke="#333" stroke-width="0.9"/>
<line x1="23.3" y1="364.65" x2="23.3" y2="372.15" stroke="#333" stroke-width="0.9"/>
<line x1="23.3" y1="373.95" x2="23.3" y2="381.45" stroke="#333" stroke-width="0.9"/>
<line x1="23.3" y1="390.95" x2="23.3" y2="397.85" stroke="#333" stroke-width="0.9"/>
<line x1="23.3" y1="399.55" x2="23.3" y2="407.45" stroke="#333" stroke-width="0.9"/>
<line x1="23.3" y1="416.75" x2="23.3" y2="426.05" stroke="#333" stroke-width="0.9"/>
<line x1="23.3" y1="427.65" x2="23.3" y2="435.55" stroke="#333" stroke-width="0.9"/>
<text x="15.11" y="309.35" font-size="6.4" text-anchor="middle" font-weight="normal" fill="#222" stroke="#222" stroke-width="0.06" >1</text>
<text x="29.92" y="309.35" font-size="6.4" text-anchor="middle" font-weight="normal" fill="#222" stroke="#222" stroke-width="0.06" >0.91</text>
<text x="44.74" y="309.35" font-size="6.4" text-anchor="middle" font-weight="normal" fill="#222" stroke="#222" stroke-width="0.06" >0.25</text>
<text x="59.56" y="309.35" font-size="6.4" text-anchor="middle" font-weight="normal" fill="#222" stroke="#222" stroke-width="0.06" >0.23</text>
<text x="74.38" y="309.35" font-size="6.4" text-anchor="middle" font-weight="normal" fill="#222" stroke="#222" stroke-width="0.06" >0.17</text>
<text x="89.19" y="309.35" font-size="6.4" text-anchor="middle" font-weight="normal" fill="#222" stroke="#222" stroke-width="0.06" >0.20</text>
<text x="15.11" y="337.10" font-size="6.4" text-anchor="middle" font-weight="normal" fill="#222" stroke="#222" stroke-width="0.06" >1</text>
<text x="29.92" y="337.10" font-size="6.4" text-anchor="middle" font-weight="normal" fill="#222" stroke="#222" stroke-width="0.06" >0.87</text>
<text x="44.74" y="337.10" font-size="6.4" text-anchor="middle" font-weight="normal" fill="#222" stroke="#222" stroke-width="0.06" >0.71</text>
<text x="59.56" y="337.10" font-size="6.4" text-anchor="middle" font-weight="normal" fill="#222" stroke="#222" stroke-width="0.06" >0.79</text>
<text x="74.38" y="337.10" font-size="6.4" text-anchor="middle" font-weight="normal" fill="#222" stroke="#222" stroke-width="0.06" >0.93</text>
<text x="89.19" y="337.10" font-size="6.4" text-anchor="middle" font-weight="normal" fill="#222" stroke="#222" stroke-width="0.06" >1.14</text>
<text x="15.11" y="362.10" font-size="6.4" text-anchor="middle" font-weight="normal" fill="#222" stroke="#222" stroke-width="0.06" >1</text>
<text x="29.92" y="362.10" font-size="6.4" text-anchor="middle" font-weight="normal" fill="#222" stroke="#222" stroke-width="0.06" >0.64</text>
<text x="44.74" y="362.10" font-size="6.4" text-anchor="middle" font-weight="normal" fill="#222" stroke="#222" stroke-width="0.06" >0.33</text>
<text x="59.56" y="362.10" font-size="6.4" text-anchor="middle" font-weight="normal" fill="#222" stroke="#222" stroke-width="0.06" >0.35</text>
<text x="74.38" y="362.10" font-size="6.4" text-anchor="middle" font-weight="normal" fill="#222" stroke="#222" stroke-width="0.06" >0.51</text>
<text x="89.19" y="362.10" font-size="6.4" text-anchor="middle" font-weight="normal" fill="#222" stroke="#222" stroke-width="0.06" >0.49</text>
<text x="15.11" y="388.10" font-size="6.4" text-anchor="middle" font-weight="normal" fill="#222" stroke="#222" stroke-width="0.06" >1</text>
<text x="29.92" y="388.10" font-size="6.4" text-anchor="middle" font-weight="normal" fill="#222" stroke="#222" stroke-width="0.06" >0.84</text>
<text x="44.74" y="388.10" font-size="6.4" text-anchor="middle" font-weight="normal" fill="#222" stroke="#222" stroke-width="0.06" >0.68</text>
<text x="59.56" y="388.10" font-size="6.4" text-anchor="middle" font-weight="normal" fill="#222" stroke="#222" stroke-width="0.06" >0.74</text>
<text x="74.38" y="388.10" font-size="6.4" text-anchor="middle" font-weight="normal" fill="#222" stroke="#222" stroke-width="0.06" >0.94</text>
<text x="89.19" y="388.10" font-size="6.4" text-anchor="middle" font-weight="normal" fill="#222" stroke="#222" stroke-width="0.06" >1.08</text>
<text x="15.11" y="415.10" font-size="6.4" text-anchor="middle" font-weight="normal" fill="#222" stroke="#222" stroke-width="0.06" >1</text>
<text x="29.92" y="415.10" font-size="6.4" text-anchor="middle" font-weight="normal" fill="#222" stroke="#222" stroke-width="0.06" >0.08</text>
<text x="44.74" y="415.10" font-size="6.4" text-anchor="middle" font-weight="normal" fill="#222" stroke="#222" stroke-width="0.06" >0.00</text>
<text x="59.56" y="415.10" font-size="6.4" text-anchor="middle" font-weight="normal" fill="#222" stroke="#222" stroke-width="0.06" >0.00</text>
<text x="74.38" y="415.10" font-size="6.4" text-anchor="middle" font-weight="normal" fill="#222" stroke="#222" stroke-width="0.06" >0.11</text>
<text x="89.19" y="415.10" font-size="6.4" text-anchor="middle" font-weight="normal" fill="#222" stroke="#222" stroke-width="0.06" >0.00</text>
<text x="15.11" y="442.10" font-size="6.4" text-anchor="middle" font-weight="normal" fill="#222" stroke="#222" stroke-width="0.06" >1</text>
<text x="29.92" y="442.10" font-size="6.4" text-anchor="middle" font-weight="normal" fill="#222" stroke="#222" stroke-width="0.06" >0.05</text>
<text x="44.74" y="442.10" font-size="6.4" text-anchor="middle" font-weight="normal" fill="#222" stroke="#222" stroke-width="0.06" >0.01</text>
<text x="59.56" y="442.10" font-size="6.4" text-anchor="middle" font-weight="normal" fill="#222" stroke="#222" stroke-width="0.06" >0.00</text>
<text x="74.38" y="442.10" font-size="6.4" text-anchor="middle" font-weight="normal" fill="#222" stroke="#222" stroke-width="0.06" >0.01</text>
<text x="89.19" y="442.10" font-size="6.4" text-anchor="middle" font-weight="normal" fill="#222" stroke="#222" stroke-width="0.06" >0.01</text>
<text x="137.00" y="235.40" font-size="12" text-anchor="start" font-weight="bold" fill="#000" >E</text>
<text x="142.50" y="246.00" font-size="9.5" text-anchor="start" font-weight="normal" fill="#222" stroke="#222" stroke-width="0.1" textLength="80" lengthAdjust="spacingAndGlyphs" >MHH-CALL-4 cells,</text>
<text x="165.00" y="256.80" font-size="9.5" text-anchor="start" font-weight="normal" fill="#222" stroke="#222" stroke-width="0.1" textLength="34.5" lengthAdjust="spacingAndGlyphs" >Cmpd 8</text>
<text x="0" y="0" font-size="8.9" fill="#222" transform="translate(138.79 282.40) rotate(-40)">Vehicle</text>
<text x="0" y="0" font-size="8.9" fill="#222" transform="translate(158.28 282.40) rotate(-40)">1nM</text>
<text x="0" y="0" font-size="8.9" fill="#222" transform="translate(173.26 282.40) rotate(-40)">10 nM</text>
<text x="0" y="0" font-size="8.9" fill="#222" transform="translate(188.24 282.40) rotate(-40)">100 nM</text>
<text x="0" y="0" font-size="8.9" fill="#222" transform="translate(203.22 282.40) rotate(-40)">1 uM</text>
<text x="0" y="0" font-size="8.9" fill="#222" transform="translate(218.21 282.40) rotate(-40)">4.3 uM</text>
<rect x="136.30" y="282.05" width="89.90" height="9.30" fill="#dedede"/>
<path d="M136.75 286.42 Q143.79 285.57 150.83 286.29 L150.83 287.98 Q143.79 289.02 136.75 288.11Z" fill="#222" fill-opacity="0.26" filter="url(#bl)"/>
<path d="M151.73 286.42 Q158.77 285.57 165.82 286.29 L165.82 287.98 Q158.77 289.02 151.73 288.11Z" fill="#222" fill-opacity="0.42" filter="url(#bl)"/>
<path d="M166.72 286.42 Q173.76 285.57 180.80 286.29 L180.80 287.98 Q173.76 289.02 166.72 288.11Z" fill="#222" fill-opacity="0.47" filter="url(#bl)"/>
<path d="M181.70 286.42 Q188.74 285.57 195.78 286.29 L195.78 287.98 Q188.74 289.02 181.70 288.11Z" fill="#222" fill-opacity="0.38" filter="url(#bl)"/>
<path d="M196.68 286.42 Q203.72 285.57 210.77 286.29 L210.77 287.98 Q203.72 289.02 196.68 288.11Z" fill="#222" fill-opacity="0.38" filter="url(#bl)"/>
<path d="M211.67 286.42 Q218.71 285.57 225.75 286.29 L225.75 287.98 Q218.71 289.02 211.67 288.11Z" fill="#222" fill-opacity="0.42" filter="url(#bl)"/>
<text x="228.00" y="289.65" font-size="8.6" text-anchor="start" font-weight="normal" fill="#222" stroke="#222" stroke-width="0.1" textLength="19" lengthAdjust="spacingAndGlyphs" >JAK1</text>
<rect x="136.30" y="293.85" width="89.90" height="7.60" fill="#dadada"/>
<path d="M136.75 296.34 Q143.79 295.36 150.83 296.19 L150.83 298.13 Q143.79 299.34 136.75 298.29Z" fill="#222" fill-opacity="0.59" filter="url(#bl)"/>
<path d="M151.73 296.34 Q158.77 295.36 165.82 296.19 L165.82 298.13 Q158.77 299.34 151.73 298.29Z" fill="#222" fill-opacity="0.64" filter="url(#bl)"/>
<path d="M166.72 296.34 Q173.76 295.36 180.80 296.19 L180.80 298.13 Q173.76 299.34 166.72 298.29Z" fill="#222" fill-opacity="0.64" filter="url(#bl)"/>
<path d="M181.70 296.34 Q188.74 295.36 195.78 296.19 L195.78 298.13 Q188.74 299.34 181.70 298.29Z" fill="#222" fill-opacity="0.64" filter="url(#bl)"/>
<path d="M196.68 296.34 Q203.72 295.36 210.77 296.19 L210.77 298.13 Q203.72 299.34 196.68 298.29Z" fill="#222" fill-opacity="0.64" filter="url(#bl)"/>
<path d="M211.67 296.34 Q218.71 295.36 225.75 296.19 L225.75 298.13 Q218.71 299.34 211.67 298.29Z" fill="#222" fill-opacity="0.64" filter="url(#bl)"/>
<text x="228.00" y="300.60" font-size="8.6" text-anchor="start" font-weight="normal" fill="#222" stroke="#222" stroke-width="0.1" textLength="22" lengthAdjust="spacingAndGlyphs" >ACTB</text>
<rect x="136.30" y="312.15" width="89.90" height="8.50" fill="#dcdcdc"/>
<path d="M136.75 314.46 Q143.79 313.36 150.83 314.29 L150.83 316.50 Q143.79 317.86 136.75 316.67Z" fill="#222" fill-opacity="0.38" filter="url(#bl)"/>
<path d="M151.73 314.46 Q158.77 313.36 165.82 314.29 L165.82 316.50 Q158.77 317.86 151.73 316.67Z" fill="#222" fill-opacity="0.47" filter="url(#bl)"/>
<path d="M166.72 314.46 Q173.76 313.36 180.80 314.29 L180.80 316.50 Q173.76 317.86 166.72 316.67Z" fill="#222" fill-opacity="0.38" filter="url(#bl)"/>
<path d="M181.70 314.46 Q188.74 313.36 195.78 314.29 L195.78 316.50 Q188.74 317.86 181.70 316.67Z" fill="#222" fill-opacity="0.09" filter="url(#bl)"/>
<path d="M196.68 314.46 Q203.72 313.36 210.77 314.29 L210.77 316.50 Q203.72 317.86 196.68 316.67Z" fill="#222" fill-opacity="0.09" filter="url(#bl)"/>
<path d="M211.67 314.46 Q218.71 313.36 225.75 314.29 L225.75 316.50 Q218.71 317.86 211.67 316.67Z" fill="#222" fill-opacity="0.09" filter="url(#bl)"/>
<text x="228.00" y="319.35" font-size="8.6" text-anchor="start" font-weight="normal" fill="#222" stroke="#222" stroke-width="0.1" textLength="19" lengthAdjust="spacingAndGlyphs" >JAK2</text>
<rect x="136.30" y="322.25" width="89.90" height="6.60" fill="#dadada"/>
<path d="M136.75 324.41 Q143.79 323.56 150.83 324.27 L150.83 325.96 Q143.79 327.00 136.75 326.10Z" fill="#222" fill-opacity="0.59" filter="url(#bl)"/>
<path d="M151.73 324.41 Q158.77 323.56 165.82 324.27 L165.82 325.96 Q158.77 327.00 151.73 326.10Z" fill="#222" fill-opacity="0.59" filter="url(#bl)"/>
<path d="M166.72 324.41 Q173.76 323.56 180.80 324.27 L180.80 325.96 Q173.76 327.00 166.72 326.10Z" fill="#222" fill-opacity="0.59" filter="url(#bl)"/>
<path d="M181.70 324.41 Q188.74 323.56 195.78 324.27 L195.78 325.96 Q188.74 327.00 181.70 326.10Z" fill="#222" fill-opacity="0.59" filter="url(#bl)"/>
<path d="M196.68 324.41 Q203.72 323.56 210.77 324.27 L210.77 325.96 Q203.72 327.00 196.68 326.10Z" fill="#222" fill-opacity="0.59" filter="url(#bl)"/>
<path d="M211.67 324.41 Q218.71 323.56 225.75 324.27 L225.75 325.96 Q218.71 327.00 211.67 326.10Z" fill="#222" fill-opacity="0.59" filter="url(#bl)"/>
<text x="228.00" y="328.50" font-size="8.6" text-anchor="start" font-weight="normal" fill="#222" stroke="#222" stroke-width="0.1" textLength="22" lengthAdjust="spacingAndGlyphs" >ACTB</text>
<rect x="136.30" y="338.65" width="89.90" height="8.80" fill="#dedede"/>
<path d="M136.75 341.26 Q143.79 340.35 150.83 341.12 L150.83 342.94 Q143.79 344.06 136.75 343.08Z" fill="#222" fill-opacity="0.42" filter="url(#bl)"/>
<path d="M151.73 341.26 Q158.77 340.35 165.82 341.12 L165.82 342.94 Q158.77 344.06 151.73 343.08Z" fill="#222" fill-opacity="0.47" filter="url(#bl)"/>
<path d="M166.72 341.26 Q173.76 340.35 180.80 341.12 L180.80 342.94 Q173.76 344.06 166.72 343.08Z" fill="#222" fill-opacity="0.34" filter="url(#bl)"/>
<path d="M181.70 341.26 Q188.74 340.35 195.78 341.12 L195.78 342.94 Q188.74 344.06 181.70 343.08Z" fill="#222" fill-opacity="0.34" filter="url(#bl)"/>
<path d="M196.68 341.26 Q203.72 340.35 210.77 341.12 L210.77 342.94 Q203.72 344.06 196.68 343.08Z" fill="#222" fill-opacity="0.34" filter="url(#bl)"/>
<path d="M211.67 341.26 Q218.71 340.35 225.75 341.12 L225.75 342.94 Q218.71 344.06 211.67 343.08Z" fill="#222" fill-opacity="0.34" filter="url(#bl)"/>
<text x="228.00" y="346.00" font-size="8.6" text-anchor="start" font-weight="normal" fill="#222" stroke="#222" stroke-width="0.1" textLength="19" lengthAdjust="spacingAndGlyphs" >JAK3</text>
<rect x="136.30" y="349.65" width="89.90" height="6.00" fill="#dcdcdc"/>
<path d="M136.75 351.99 Q143.79 351.27 150.83 351.88 L150.83 353.31 Q143.79 354.19 136.75 353.42Z" fill="#222" fill-opacity="0.47" filter="url(#bl)"/>
<path d="M151.73 351.99 Q158.77 351.27 165.82 351.88 L165.82 353.31 Q158.77 354.19 151.73 353.42Z" fill="#222" fill-opacity="0.47" filter="url(#bl)"/>
<path d="M166.72 351.99 Q173.76 351.27 180.80 351.88 L180.80 353.31 Q173.76 354.19 166.72 353.42Z" fill="#222" fill-opacity="0.47" filter="url(#bl)"/>
<path d="M181.70 351.99 Q188.74 351.27 195.78 351.88 L195.78 353.31 Q188.74 354.19 181.70 353.42Z" fill="#222" fill-opacity="0.47" filter="url(#bl)"/>
<path d="M196.68 351.99 Q203.72 351.27 210.77 351.88 L210.77 353.31 Q203.72 354.19 196.68 353.42Z" fill="#222" fill-opacity="0.47" filter="url(#bl)"/>
<path d="M211.67 351.99 Q218.71 351.27 225.75 351.88 L225.75 353.31 Q218.71 354.19 211.67 353.42Z" fill="#222" fill-opacity="0.47" filter="url(#bl)"/>
<text x="228.00" y="355.60" font-size="8.6" text-anchor="start" font-weight="normal" fill="#222" stroke="#222" stroke-width="0.1" textLength="22" lengthAdjust="spacingAndGlyphs" >ACTB</text>
<rect x="136.30" y="366.75" width="89.90" height="7.20" fill="#e2e2e2"/>
<path d="M136.75 368.74 Q143.79 368.03 150.83 368.63 L150.83 370.06 Q143.79 370.94 136.75 370.17Z" fill="#222" fill-opacity="0.42" filter="url(#bl)"/>
<path d="M151.73 368.74 Q158.77 368.03 165.82 368.63 L165.82 370.06 Q158.77 370.94 151.73 370.17Z" fill="#222" fill-opacity="0.47" filter="url(#bl)"/>
<path d="M166.72 368.74 Q173.76 368.03 180.80 368.63 L180.80 370.06 Q173.76 370.94 166.72 370.17Z" fill="#222" fill-opacity="0.47" filter="url(#bl)"/>
<path d="M181.70 368.74 Q188.74 368.03 195.78 368.63 L195.78 370.06 Q188.74 370.94 181.70 370.17Z" fill="#222" fill-opacity="0.42" filter="url(#bl)"/>
<path d="M196.68 368.74 Q203.72 368.03 210.77 368.63 L210.77 370.06 Q203.72 370.94 196.68 370.17Z" fill="#222" fill-opacity="0.42" filter="url(#bl)"/>
<path d="M211.67 368.74 Q218.71 368.03 225.75 368.63 L225.75 370.06 Q218.71 370.94 211.67 370.17Z" fill="#222" fill-opacity="0.42" filter="url(#bl)"/>
<text x="228.00" y="373.30" font-size="8.6" text-anchor="start" font-weight="normal" fill="#222" stroke="#222" stroke-width="0.1" textLength="19.5" lengthAdjust="spacingAndGlyphs" >TYK2</text>
<rect x="136.30" y="376.45" width="89.90" height="7.60" fill="#dedede"/>
<path d="M136.75 378.87 Q143.79 378.09 150.83 378.75 L150.83 380.31 Q143.79 381.27 136.75 380.43Z" fill="#222" fill-opacity="0.47" filter="url(#bl)"/>
<path d="M151.73 378.87 Q158.77 378.09 165.82 378.75 L165.82 380.31 Q158.77 381.27 151.73 380.43Z" fill="#222" fill-opacity="0.47" filter="url(#bl)"/>
<path d="M166.72 378.87 Q173.76 378.09 180.80 378.75 L180.80 380.31 Q173.76 381.27 166.72 380.43Z" fill="#222" fill-opacity="0.47" filter="url(#bl)"/>
<path d="M181.70 378.87 Q188.74 378.09 195.78 378.75 L195.78 380.31 Q188.74 381.27 181.70 380.43Z" fill="#222" fill-opacity="0.47" filter="url(#bl)"/>
<path d="M196.68 378.87 Q203.72 378.09 210.77 378.75 L210.77 380.31 Q203.72 381.27 196.68 380.43Z" fill="#222" fill-opacity="0.51" filter="url(#bl)"/>
<path d="M211.67 378.87 Q218.71 378.09 225.75 378.75 L225.75 380.31 Q218.71 381.27 211.67 380.43Z" fill="#222" fill-opacity="0.51" filter="url(#bl)"/>
<text x="228.00" y="383.20" font-size="8.6" text-anchor="start" font-weight="normal" fill="#222" stroke="#222" stroke-width="0.1" textLength="22" lengthAdjust="spacingAndGlyphs" >ACTB</text>
<rect x="136.30" y="393.85" width="89.90" height="5.70" fill="#d4d4d4"/>
<path d="M136.75 395.41 Q143.79 394.56 150.83 395.28 L150.83 396.97 Q143.79 398.01 136.75 397.10Z" fill="#222" fill-opacity="0.77" filter="url(#bl)"/>
<path d="M151.73 395.41 Q158.77 394.56 165.82 395.28 L165.82 396.97 Q158.77 398.01 151.73 397.10Z" fill="#222" fill-opacity="0.72" filter="url(#bl)"/>
<path d="M166.72 395.41 Q173.76 394.56 180.80 395.28 L180.80 396.97 Q173.76 398.01 166.72 397.10Z" fill="#222" fill-opacity="0.68" filter="url(#bl)"/>
<path d="M181.70 395.41 Q188.74 394.56 195.78 395.28 L195.78 396.97 Q188.74 398.01 181.70 397.10Z" fill="#222" fill-opacity="0.68" filter="url(#bl)"/>
<path d="M196.68 395.41 Q203.72 394.56 210.77 395.28 L210.77 396.97 Q203.72 398.01 196.68 397.10Z" fill="#222" fill-opacity="0.68" filter="url(#bl)"/>
<path d="M211.67 395.41 Q218.71 394.56 225.75 395.28 L225.75 396.97 Q218.71 398.01 211.67 397.10Z" fill="#222" fill-opacity="0.64" filter="url(#bl)"/>
<text x="228.00" y="399.65" font-size="8.6" text-anchor="start" font-weight="normal" fill="#222" stroke="#222" stroke-width="0.1" textLength="24.5" lengthAdjust="spacingAndGlyphs" >GSPT1</text>
<rect x="136.30" y="402.05" width="89.90" height="6.10" fill="#d8d8d8"/>
<path d="M136.75 404.20 Q143.79 403.23 150.83 404.05 L150.83 406.00 Q143.79 407.20 136.75 406.15Z" fill="#222" fill-opacity="0.72" filter="url(#bl)"/>
<path d="M151.73 404.20 Q158.77 403.23 165.82 404.05 L165.82 406.00 Q158.77 407.20 151.73 406.15Z" fill="#222" fill-opacity="0.72" filter="url(#bl)"/>
<path d="M166.72 404.20 Q173.76 403.23 180.80 404.05 L180.80 406.00 Q173.76 407.20 166.72 406.15Z" fill="#222" fill-opacity="0.72" filter="url(#bl)"/>
<path d="M181.70 404.20 Q188.74 403.23 195.78 404.05 L195.78 406.00 Q188.74 407.20 181.70 406.15Z" fill="#222" fill-opacity="0.72" filter="url(#bl)"/>
<path d="M196.68 404.20 Q203.72 403.23 210.77 404.05 L210.77 406.00 Q203.72 407.20 196.68 406.15Z" fill="#222" fill-opacity="0.72" filter="url(#bl)"/>
<path d="M211.67 404.20 Q218.71 403.23 225.75 404.05 L225.75 406.00 Q218.71 407.20 211.67 406.15Z" fill="#222" fill-opacity="0.72" filter="url(#bl)"/>
<text x="228.00" y="408.05" font-size="8.6" text-anchor="start" font-weight="normal" fill="#222" stroke="#222" stroke-width="0.1" textLength="22" lengthAdjust="spacingAndGlyphs" >ACTB</text>
<rect x="136.30" y="418.55" width="89.90" height="7.50" fill="#e0e0e0"/>
<path d="M136.75 420.66 Q143.79 419.94 150.83 420.55 L150.83 421.98 Q143.79 422.86 136.75 422.09Z" fill="#222" fill-opacity="0.38" filter="url(#bl)"/>
<path d="M151.73 420.66 Q158.77 419.94 165.82 420.55 L165.82 421.98 Q158.77 422.86 151.73 422.09Z" fill="#222" fill-opacity="0.47" filter="url(#bl)"/>
<path d="M166.72 420.66 Q173.76 419.94 180.80 420.55 L180.80 421.98 Q173.76 422.86 166.72 422.09Z" fill="#222" fill-opacity="0.47" filter="url(#bl)"/>
<path d="M181.70 420.66 Q188.74 419.94 195.78 420.55 L195.78 421.98 Q188.74 422.86 181.70 422.09Z" fill="#222" fill-opacity="0.47" filter="url(#bl)"/>
<path d="M196.68 420.66 Q203.72 419.94 210.77 420.55 L210.77 421.98 Q203.72 422.86 196.68 422.09Z" fill="#222" fill-opacity="0.47" filter="url(#bl)"/>
<path d="M211.67 420.66 Q218.71 419.94 225.75 420.55 L225.75 421.98 Q218.71 422.86 211.67 422.09Z" fill="#222" fill-opacity="0.47" filter="url(#bl)"/>
<text x="228.00" y="425.25" font-size="8.6" text-anchor="start" font-weight="normal" fill="#222" stroke="#222" stroke-width="0.1" textLength="22" lengthAdjust="spacingAndGlyphs" >IKZF1</text>
<rect x="136.30" y="428.55" width="89.90" height="7.60" fill="#d4d4d4"/>
<path d="M136.75 430.50 Q143.79 429.39 150.83 430.33 L150.83 432.54 Q143.79 433.90 136.75 432.71Z" fill="#222" fill-opacity="0.98" filter="url(#bl)"/>
<path d="M151.73 430.50 Q158.77 429.39 165.82 430.33 L165.82 432.54 Q158.77 433.90 151.73 432.71Z" fill="#222" fill-opacity="0.98" filter="url(#bl)"/>
<path d="M166.72 430.50 Q173.76 429.39 180.80 430.33 L180.80 432.54 Q173.76 433.90 166.72 432.71Z" fill="#222" fill-opacity="0.98" filter="url(#bl)"/>
<path d="M181.70 430.50 Q188.74 429.39 195.78 430.33 L195.78 432.54 Q188.74 433.90 181.70 432.71Z" fill="#222" fill-opacity="0.98" filter="url(#bl)"/>
<path d="M196.68 430.50 Q203.72 429.39 210.77 430.33 L210.77 432.54 Q203.72 433.90 196.68 432.71Z" fill="#222" fill-opacity="0.98" filter="url(#bl)"/>
<path d="M211.67 430.50 Q218.71 429.39 225.75 430.33 L225.75 432.54 Q218.71 433.90 211.67 432.71Z" fill="#222" fill-opacity="0.98" filter="url(#bl)"/>
<text x="228.00" y="435.30" font-size="8.6" text-anchor="start" font-weight="normal" fill="#222" stroke="#222" stroke-width="0.1" textLength="22" lengthAdjust="spacingAndGlyphs" >ACTB</text>
<text x="143.79" y="308.60" font-size="6.4" text-anchor="middle" font-weight="normal" fill="#222" stroke="#222" stroke-width="0.06" >1</text>
<text x="158.78" y="308.60" font-size="6.4" text-anchor="middle" font-weight="normal" fill="#222" stroke="#222" stroke-width="0.06" >1.49</text>
<text x="173.76" y="308.60" font-size="6.4" text-anchor="middle" font-weight="normal" fill="#222" stroke="#222" stroke-width="0.06" >1.64</text>
<text x="188.74" y="308.60" font-size="6.4" text-anchor="middle" font-weight="normal" fill="#222" stroke="#222" stroke-width="0.06" >1.03</text>
<text x="203.72" y="308.60" font-size="6.4" text-anchor="middle" font-weight="normal" fill="#222" stroke="#222" stroke-width="0.06" >1.20</text>
<text x="218.71" y="308.60" font-size="6.4" text-anchor="middle" font-weight="normal" fill="#222" stroke="#222" stroke-width="0.06" >1.41</text>
<text x="143.79" y="338.10" font-size="6.4" text-anchor="middle" font-weight="normal" fill="#222" stroke="#222" stroke-width="0.06" >1</text>
<text x="158.78" y="338.10" font-size="6.4" text-anchor="middle" font-weight="normal" fill="#222" stroke="#222" stroke-width="0.06" >1.09</text>
<text x="173.76" y="338.10" font-size="6.4" text-anchor="middle" font-weight="normal" fill="#222" stroke="#222" stroke-width="0.06" >0.74</text>
<text x="188.74" y="338.10" font-size="6.4" text-anchor="middle" font-weight="normal" fill="#222" stroke="#222" stroke-width="0.06" >0.29</text>
<text x="203.72" y="338.10" font-size="6.4" text-anchor="middle" font-weight="normal" fill="#222" stroke="#222" stroke-width="0.06" >0.19</text>
<text x="218.71" y="338.10" font-size="6.4" text-anchor="middle" font-weight="normal" fill="#222" stroke="#222" stroke-width="0.06" >0.21</text>
<text x="143.79" y="364.35" font-size="6.4" text-anchor="middle" font-weight="normal" fill="#222" stroke="#222" stroke-width="0.06" >1</text>
<text x="158.78" y="364.35" font-size="6.4" text-anchor="middle" font-weight="normal" fill="#222" stroke="#222" stroke-width="0.06" >1.12</text>
<text x="173.76" y="364.35" font-size="6.4" text-anchor="middle" font-weight="normal" fill="#222" stroke="#222" stroke-width="0.06" >0.77</text>
<text x="188.74" y="364.35" font-size="6.4" text-anchor="middle" font-weight="normal" fill="#222" stroke="#222" stroke-width="0.06" >0.59</text>
<text x="203.72" y="364.35" font-size="6.4" text-anchor="middle" font-weight="normal" fill="#222" stroke="#222" stroke-width="0.06" >0.361</text>
<text x="218.71" y="364.35" font-size="6.4" text-anchor="middle" font-weight="normal" fill="#222" stroke="#222" stroke-width="0.06" >0.58</text>
<text x="143.79" y="390.85" font-size="6.4" text-anchor="middle" font-weight="normal" fill="#222" stroke="#222" stroke-width="0.06" >1</text>
<text x="158.78" y="390.85" font-size="6.4" text-anchor="middle" font-weight="normal" fill="#222" stroke="#222" stroke-width="0.06" >1.20</text>
<text x="173.76" y="390.85" font-size="6.4" text-anchor="middle" font-weight="normal" fill="#222" stroke="#222" stroke-width="0.06" >1.14</text>
<text x="188.74" y="390.85" font-size="6.4" text-anchor="middle" font-weight="normal" fill="#222" stroke="#222" stroke-width="0.06" >0.88</text>
<text x="203.72" y="390.85" font-size="6.4" text-anchor="middle" font-weight="normal" fill="#222" stroke="#222" stroke-width="0.06" >0.92</text>
<text x="218.71" y="390.85" font-size="6.4" text-anchor="middle" font-weight="normal" fill="#222" stroke="#222" stroke-width="0.06" >0.99</text>
<text x="143.79" y="415.10" font-size="6.4" text-anchor="middle" font-weight="normal" fill="#222" stroke="#222" stroke-width="0.06" >1</text>
<text x="158.78" y="415.10" font-size="6.4" text-anchor="middle" font-weight="normal" fill="#222" stroke="#222" stroke-width="0.06" >1.02</text>
<text x="173.76" y="415.10" font-size="6.4" text-anchor="middle" font-weight="normal" fill="#222" stroke="#222" stroke-width="0.06" >0.96</text>
<text x="188.74" y="415.10" font-size="6.4" text-anchor="middle" font-weight="normal" fill="#222" stroke="#222" stroke-width="0.06" >0.84</text>
<text x="203.72" y="415.10" font-size="6.4" text-anchor="middle" font-weight="normal" fill="#222" stroke="#222" stroke-width="0.06" >0.84</text>
<text x="218.71" y="415.10" font-size="6.4" text-anchor="middle" font-weight="normal" fill="#222" stroke="#222" stroke-width="0.06" >0.74</text>
<text x="143.79" y="444.35" font-size="6.4" text-anchor="middle" font-weight="normal" fill="#222" stroke="#222" stroke-width="0.06" >1</text>
<text x="158.78" y="444.35" font-size="6.4" text-anchor="middle" font-weight="normal" fill="#222" stroke="#222" stroke-width="0.06" >1.64</text>
<text x="173.76" y="444.35" font-size="6.4" text-anchor="middle" font-weight="normal" fill="#222" stroke="#222" stroke-width="0.06" >1.62</text>
<text x="188.74" y="444.35" font-size="6.4" text-anchor="middle" font-weight="normal" fill="#222" stroke="#222" stroke-width="0.06" >1.56</text>
<text x="203.72" y="444.35" font-size="6.4" text-anchor="middle" font-weight="normal" fill="#222" stroke="#222" stroke-width="0.06" >1.85</text>
<text x="218.71" y="444.35" font-size="6.4" text-anchor="middle" font-weight="normal" fill="#222" stroke="#222" stroke-width="0.06" >1.52</text>
<text x="263.75" y="236.10" font-size="12" text-anchor="start" font-weight="bold" fill="#000" >F</text>
<text x="263.00" y="246.25" font-size="9.5" text-anchor="start" font-weight="normal" fill="#222" stroke="#222" stroke-width="0.1" textLength="100.5" lengthAdjust="spacingAndGlyphs" >MHH-CALL-4-CRBN-KD</text>
<text x="287.00" y="256.50" font-size="9.5" text-anchor="start" font-weight="normal" fill="#222" stroke="#222" stroke-width="0.1" textLength="56.7" lengthAdjust="spacingAndGlyphs" >cells, Cmpd 7</text>
<text x="0" y="0" font-size="8.9" fill="#222" transform="translate(268.63 281.90) rotate(-40)">Vehicle</text>
<text x="0" y="0" font-size="8.9" fill="#222" transform="translate(288.50 281.90) rotate(-40)">1nM</text>
<text x="0" y="0" font-size="8.9" fill="#222" transform="translate(303.37 281.90) rotate(-40)">10 nM</text>
<text x="0" y="0" font-size="8.9" fill="#222" transform="translate(318.23 281.90) rotate(-40)">100 nM</text>
<text x="0" y="0" font-size="8.9" fill="#222" transform="translate(333.10 281.90) rotate(-40)">1 uM</text>
<text x="0" y="0" font-size="8.9" fill="#222" transform="translate(347.97 281.90) rotate(-40)">4 uM</text>
<rect x="268.00" y="282.35" width="89.20" height="9.60" fill="#c8c8c8"/>
<path d="M268.45 286.25 Q275.43 285.27 282.42 286.10 L282.42 288.05 Q275.43 289.25 268.45 288.20Z" fill="#222" fill-opacity="0.64" filter="url(#bl)"/>
<path d="M283.32 286.25 Q290.30 285.27 297.28 286.10 L297.28 288.05 Q290.30 289.25 283.32 288.20Z" fill="#222" fill-opacity="0.51" filter="url(#bl)"/>
<path d="M298.18 286.25 Q305.17 285.27 312.15 286.10 L312.15 288.05 Q305.17 289.25 298.18 288.20Z" fill="#222" fill-opacity="0.68" filter="url(#bl)"/>
<path d="M313.05 286.25 Q320.03 285.27 327.02 286.10 L327.02 288.05 Q320.03 289.25 313.05 288.20Z" fill="#222" fill-opacity="0.64" filter="url(#bl)"/>
<path d="M327.92 286.25 Q334.90 285.27 341.88 286.10 L341.88 288.05 Q334.90 289.25 327.92 288.20Z" fill="#222" fill-opacity="0.64" filter="url(#bl)"/>
<path d="M342.78 286.25 Q349.77 285.27 356.75 286.10 L356.75 288.05 Q349.77 289.25 342.78 288.20Z" fill="#222" fill-opacity="0.72" filter="url(#bl)"/>
<text x="359.50" y="290.10" font-size="8.6" text-anchor="start" font-weight="normal" fill="#222" stroke="#222" stroke-width="0.1" textLength="19" lengthAdjust="spacingAndGlyphs" >JAK1</text>
<rect x="268.00" y="293.35" width="89.20" height="8.10" fill="#e0e0e0"/>
<path d="M268.45 295.04 Q275.43 294.39 282.42 294.94 L282.42 296.24 Q275.43 297.04 268.45 296.34Z" fill="#222" fill-opacity="0.38" filter="url(#bl)"/>
<path d="M283.32 295.04 Q290.30 294.39 297.28 294.94 L297.28 296.24 Q290.30 297.04 283.32 296.34Z" fill="#222" fill-opacity="0.38" filter="url(#bl)"/>
<path d="M298.18 295.04 Q305.17 294.39 312.15 294.94 L312.15 296.24 Q305.17 297.04 298.18 296.34Z" fill="#222" fill-opacity="0.38" filter="url(#bl)"/>
<path d="M313.05 295.04 Q320.03 294.39 327.02 294.94 L327.02 296.24 Q320.03 297.04 313.05 296.34Z" fill="#222" fill-opacity="0.38" filter="url(#bl)"/>
<path d="M327.92 295.04 Q334.90 294.39 341.88 294.94 L341.88 296.24 Q334.90 297.04 327.92 296.34Z" fill="#222" fill-opacity="0.38" filter="url(#bl)"/>
<path d="M342.78 295.04 Q349.77 294.39 356.75 294.94 L356.75 296.24 Q349.77 297.04 342.78 296.34Z" fill="#222" fill-opacity="0.42" filter="url(#bl)"/>
<text x="359.50" y="300.35" font-size="8.6" text-anchor="start" font-weight="normal" fill="#222" stroke="#222" stroke-width="0.1" textLength="22" lengthAdjust="spacingAndGlyphs" >ACTB</text>
<rect x="268.00" y="313.05" width="89.20" height="7.00" fill="#d8d8d8"/>
<path d="M268.45 315.44 Q275.43 314.66 282.42 315.32 L282.42 316.88 Q275.43 317.84 268.45 317.00Z" fill="#222" fill-opacity="0.47" filter="url(#bl)"/>
<path d="M283.32 315.44 Q290.30 314.66 297.28 315.32 L297.28 316.88 Q290.30 317.84 283.32 317.00Z" fill="#222" fill-opacity="0.51" filter="url(#bl)"/>
<path d="M298.18 315.44 Q305.17 314.66 312.15 315.32 L312.15 316.88 Q305.17 317.84 298.18 317.00Z" fill="#222" fill-opacity="0.51" filter="url(#bl)"/>
<path d="M313.05 315.44 Q320.03 314.66 327.02 315.32 L327.02 316.88 Q320.03 317.84 313.05 317.00Z" fill="#222" fill-opacity="0.51" filter="url(#bl)"/>
<path d="M327.92 315.44 Q334.90 314.66 341.88 315.32 L341.88 316.88 Q334.90 317.84 327.92 317.00Z" fill="#222" fill-opacity="0.51" filter="url(#bl)"/>
<path d="M342.78 315.44 Q349.77 314.66 356.75 315.32 L356.75 316.88 Q349.77 317.84 342.78 317.00Z" fill="#222" fill-opacity="0.51" filter="url(#bl)"/>
<text x="359.50" y="319.50" font-size="8.6" text-anchor="start" font-weight="normal" fill="#222" stroke="#222" stroke-width="0.1" textLength="19" lengthAdjust="spacingAndGlyphs" >JAK2</text>
<rect x="268.00" y="321.35" width="89.20" height="7.50" fill="#e0e0e0"/>
<path d="M268.45 322.86 Q275.43 322.21 282.42 322.76 L282.42 324.06 Q275.43 324.86 268.45 324.16Z" fill="#222" fill-opacity="0.38" filter="url(#bl)"/>
<path d="M283.32 322.86 Q290.30 322.21 297.28 322.76 L297.28 324.06 Q290.30 324.86 283.32 324.16Z" fill="#222" fill-opacity="0.38" filter="url(#bl)"/>
<path d="M298.18 322.86 Q305.17 322.21 312.15 322.76 L312.15 324.06 Q305.17 324.86 298.18 324.16Z" fill="#222" fill-opacity="0.38" filter="url(#bl)"/>
<path d="M313.05 322.86 Q320.03 322.21 327.02 322.76 L327.02 324.06 Q320.03 324.86 313.05 324.16Z" fill="#222" fill-opacity="0.38" filter="url(#bl)"/>
<path d="M327.92 322.86 Q334.90 322.21 341.88 322.76 L341.88 324.06 Q334.90 324.86 327.92 324.16Z" fill="#222" fill-opacity="0.38" filter="url(#bl)"/>
<path d="M342.78 322.86 Q349.77 322.21 356.75 322.76 L356.75 324.06 Q349.77 324.86 342.78 324.16Z" fill="#222" fill-opacity="0.42" filter="url(#bl)"/>
<text x="359.50" y="328.05" font-size="8.6" text-anchor="start" font-weight="normal" fill="#222" stroke="#222" stroke-width="0.1" textLength="22" lengthAdjust="spacingAndGlyphs" >ACTB</text>
<rect x="268.00" y="338.65" width="89.20" height="8.40" fill="#d8d8d8"/>
<path d="M268.45 341.38 Q275.43 340.27 282.42 341.20 L282.42 343.41 Q275.43 344.77 268.45 343.58Z" fill="#222" fill-opacity="0.38" filter="url(#bl)"/>
<path d="M283.32 341.38 Q290.30 340.27 297.28 341.20 L297.28 343.41 Q290.30 344.77 283.32 343.58Z" fill="#222" fill-opacity="0.38" filter="url(#bl)"/>
<path d="M298.18 341.38 Q305.17 340.27 312.15 341.20 L312.15 343.41 Q305.17 344.77 298.18 343.58Z" fill="#222" fill-opacity="0.38" filter="url(#bl)"/>
<path d="M313.05 341.38 Q320.03 340.27 327.02 341.20 L327.02 343.41 Q320.03 344.77 313.05 343.58Z" fill="#222" fill-opacity="0.42" filter="url(#bl)"/>
<path d="M327.92 341.38 Q334.90 340.27 341.88 341.20 L341.88 343.41 Q334.90 344.77 327.92 343.58Z" fill="#222" fill-opacity="0.34" filter="url(#bl)"/>
<path d="M342.78 341.38 Q349.77 340.27 356.75 341.20 L356.75 343.41 Q349.77 344.77 342.78 343.58Z" fill="#222" fill-opacity="0.34" filter="url(#bl)"/>
<text x="359.50" y="345.80" font-size="8.6" text-anchor="start" font-weight="normal" fill="#222" stroke="#222" stroke-width="0.1" textLength="19" lengthAdjust="spacingAndGlyphs" >JAK3</text>
<rect x="268.00" y="349.05" width="89.20" height="6.60" fill="#dadada"/>
<path d="M268.45 352.36 Q275.43 351.58 282.42 352.24 L282.42 353.80 Q275.43 354.76 268.45 353.92Z" fill="#222" fill-opacity="0.64" filter="url(#bl)"/>
<path d="M283.32 352.36 Q290.30 351.58 297.28 352.24 L297.28 353.80 Q290.30 354.76 283.32 353.92Z" fill="#222" fill-opacity="0.64" filter="url(#bl)"/>
<path d="M298.18 352.36 Q305.17 351.58 312.15 352.24 L312.15 353.80 Q305.17 354.76 298.18 353.92Z" fill="#222" fill-opacity="0.64" filter="url(#bl)"/>
<path d="M313.05 352.36 Q320.03 351.58 327.02 352.24 L327.02 353.80 Q320.03 354.76 313.05 353.92Z" fill="#222" fill-opacity="0.64" filter="url(#bl)"/>
<path d="M327.92 352.36 Q334.90 351.58 341.88 352.24 L341.88 353.80 Q334.90 354.76 327.92 353.92Z" fill="#222" fill-opacity="0.64" filter="url(#bl)"/>
<path d="M342.78 352.36 Q349.77 351.58 356.75 352.24 L356.75 353.80 Q349.77 354.76 342.78 353.92Z" fill="#222" fill-opacity="0.68" filter="url(#bl)"/>
<text x="359.50" y="355.30" font-size="8.6" text-anchor="start" font-weight="normal" fill="#222" stroke="#222" stroke-width="0.1" textLength="22" lengthAdjust="spacingAndGlyphs" >ACTB</text>
<rect x="268.00" y="366.45" width="89.20" height="8.10" fill="#e4e4e4"/>
<path d="M268.45 369.28 Q275.43 368.44 282.42 369.15 L282.42 370.84 Q275.43 371.88 268.45 370.97Z" fill="#222" fill-opacity="0.30" filter="url(#bl)"/>
<path d="M283.32 369.28 Q290.30 368.44 297.28 369.15 L297.28 370.84 Q290.30 371.88 283.32 370.97Z" fill="#222" fill-opacity="0.34" filter="url(#bl)"/>
<path d="M298.18 369.28 Q305.17 368.44 312.15 369.15 L312.15 370.84 Q305.17 371.88 298.18 370.97Z" fill="#222" fill-opacity="0.38" filter="url(#bl)"/>
<path d="M313.05 369.28 Q320.03 368.44 327.02 369.15 L327.02 370.84 Q320.03 371.88 313.05 370.97Z" fill="#222" fill-opacity="0.42" filter="url(#bl)"/>
<path d="M327.92 369.28 Q334.90 368.44 341.88 369.15 L341.88 370.84 Q334.90 371.88 327.92 370.97Z" fill="#222" fill-opacity="0.38" filter="url(#bl)"/>
<path d="M342.78 369.28 Q349.77 368.44 356.75 369.15 L356.75 370.84 Q349.77 371.88 342.78 370.97Z" fill="#222" fill-opacity="0.38" filter="url(#bl)"/>
<text x="359.50" y="373.45" font-size="8.6" text-anchor="start" font-weight="normal" fill="#222" stroke="#222" stroke-width="0.1" textLength="19.5" lengthAdjust="spacingAndGlyphs" >TYK2</text>
<rect x="268.00" y="376.45" width="89.20" height="7.90" fill="#dadada"/>
<path d="M268.45 380.71 Q275.43 379.93 282.42 380.59 L282.42 382.15 Q275.43 383.11 268.45 382.27Z" fill="#222" fill-opacity="0.59" filter="url(#bl)"/>
<path d="M283.32 380.71 Q290.30 379.93 297.28 380.59 L297.28 382.15 Q290.30 383.11 283.32 382.27Z" fill="#222" fill-opacity="0.59" filter="url(#bl)"/>
<path d="M298.18 380.71 Q305.17 379.93 312.15 380.59 L312.15 382.15 Q305.17 383.11 298.18 382.27Z" fill="#222" fill-opacity="0.59" filter="url(#bl)"/>
<path d="M313.05 380.71 Q320.03 379.93 327.02 380.59 L327.02 382.15 Q320.03 383.11 313.05 382.27Z" fill="#222" fill-opacity="0.59" filter="url(#bl)"/>
<path d="M327.92 380.71 Q334.90 379.93 341.88 380.59 L341.88 382.15 Q334.90 383.11 327.92 382.27Z" fill="#222" fill-opacity="0.59" filter="url(#bl)"/>
<path d="M342.78 380.71 Q349.77 379.93 356.75 380.59 L356.75 382.15 Q349.77 383.11 342.78 382.27Z" fill="#222" fill-opacity="0.64" filter="url(#bl)"/>
<text x="359.50" y="383.35" font-size="8.6" text-anchor="start" font-weight="normal" fill="#222" stroke="#222" stroke-width="0.1" textLength="22" lengthAdjust="spacingAndGlyphs" >ACTB</text>
<rect x="268.00" y="394.25" width="89.20" height="8.00" fill="#d8d8d8"/>
<path d="M268.45 397.23 Q275.43 396.12 282.42 397.06 L282.42 399.27 Q275.43 400.63 268.45 399.44Z" fill="#222" fill-opacity="0.34" filter="url(#bl)"/>
<path d="M283.32 397.23 Q290.30 396.12 297.28 397.06 L297.28 399.27 Q290.30 400.63 283.32 399.44Z" fill="#222" fill-opacity="0.38" filter="url(#bl)"/>
<path d="M298.18 397.23 Q305.17 396.12 312.15 397.06 L312.15 399.27 Q305.17 400.63 298.18 399.44Z" fill="#222" fill-opacity="0.26" filter="url(#bl)"/>
<path d="M313.05 397.23 Q320.03 396.12 327.02 397.06 L327.02 399.27 Q320.03 400.63 313.05 399.44Z" fill="#222" fill-opacity="0.30" filter="url(#bl)"/>
<path d="M327.92 397.23 Q334.90 396.12 341.88 397.06 L341.88 399.27 Q334.90 400.63 327.92 399.44Z" fill="#222" fill-opacity="0.21" filter="url(#bl)"/>
<path d="M342.78 397.23 Q349.77 396.12 356.75 397.06 L356.75 399.27 Q349.77 400.63 342.78 399.44Z" fill="#222" fill-opacity="0.21" filter="url(#bl)"/>
<text x="359.50" y="401.20" font-size="8.6" text-anchor="start" font-weight="normal" fill="#222" stroke="#222" stroke-width="0.1" textLength="24.5" lengthAdjust="spacingAndGlyphs" >GSPT1</text>
<rect x="268.00" y="403.35" width="89.20" height="5.90" fill="#dadada"/>
<path d="M268.45 405.25 Q275.43 404.47 282.42 405.13 L282.42 406.69 Q275.43 407.65 268.45 406.81Z" fill="#222" fill-opacity="0.64" filter="url(#bl)"/>
<path d="M283.32 405.25 Q290.30 404.47 297.28 405.13 L297.28 406.69 Q290.30 407.65 283.32 406.81Z" fill="#222" fill-opacity="0.64" filter="url(#bl)"/>
<path d="M298.18 405.25 Q305.17 404.47 312.15 405.13 L312.15 406.69 Q305.17 407.65 298.18 406.81Z" fill="#222" fill-opacity="0.64" filter="url(#bl)"/>
<path d="M313.05 405.25 Q320.03 404.47 327.02 405.13 L327.02 406.69 Q320.03 407.65 313.05 406.81Z" fill="#222" fill-opacity="0.64" filter="url(#bl)"/>
<path d="M327.92 405.25 Q334.90 404.47 341.88 405.13 L341.88 406.69 Q334.90 407.65 327.92 406.81Z" fill="#222" fill-opacity="0.64" filter="url(#bl)"/>
<path d="M342.78 405.25 Q349.77 404.47 356.75 405.13 L356.75 406.69 Q349.77 407.65 342.78 406.81Z" fill="#222" fill-opacity="0.64" filter="url(#bl)"/>
<text x="359.50" y="409.25" font-size="8.6" text-anchor="start" font-weight="normal" fill="#222" stroke="#222" stroke-width="0.1" textLength="22" lengthAdjust="spacingAndGlyphs" >ACTB</text>
<rect x="268.00" y="419.05" width="89.20" height="7.90" fill="#dcdcdc"/>
<path d="M268.45 421.91 Q275.43 421.19 282.42 421.80 L282.42 423.23 Q275.43 424.11 268.45 423.34Z" fill="#222" fill-opacity="0.34" filter="url(#bl)"/>
<path d="M283.32 421.91 Q290.30 421.19 297.28 421.80 L297.28 423.23 Q290.30 424.11 283.32 423.34Z" fill="#222" fill-opacity="0.34" filter="url(#bl)"/>
<path d="M298.18 421.91 Q305.17 421.19 312.15 421.80 L312.15 423.23 Q305.17 424.11 298.18 423.34Z" fill="#222" fill-opacity="0.34" filter="url(#bl)"/>
<path d="M313.05 421.91 Q320.03 421.19 327.02 421.80 L327.02 423.23 Q320.03 424.11 313.05 423.34Z" fill="#222" fill-opacity="0.34" filter="url(#bl)"/>
<path d="M327.92 421.91 Q334.90 421.19 341.88 421.80 L341.88 423.23 Q334.90 424.11 327.92 423.34Z" fill="#222" fill-opacity="0.38" filter="url(#bl)"/>
<path d="M342.78 421.91 Q349.77 421.19 356.75 421.80 L356.75 423.23 Q349.77 424.11 342.78 423.34Z" fill="#222" fill-opacity="0.38" filter="url(#bl)"/>
<text x="359.50" y="425.95" font-size="8.6" text-anchor="start" font-weight="normal" fill="#222" stroke="#222" stroke-width="0.1" textLength="22" lengthAdjust="spacingAndGlyphs" >IKZF1</text>
<rect x="268.00" y="428.55" width="89.20" height="7.60" fill="#dcdcdc"/>
<path d="M268.45 431.63 Q275.43 430.85 282.42 431.51 L282.42 433.07 Q275.43 434.03 268.45 433.19Z" fill="#222" fill-opacity="0.34" filter="url(#bl)"/>
<path d="M283.32 431.63 Q290.30 430.85 297.28 431.51 L297.28 433.07 Q290.30 434.03 283.32 433.19Z" fill="#222" fill-opacity="0.34" filter="url(#bl)"/>
<path d="M298.18 431.63 Q305.17 430.85 312.15 431.51 L312.15 433.07 Q305.17 434.03 298.18 433.19Z" fill="#222" fill-opacity="0.34" filter="url(#bl)"/>
<path d="M313.05 431.63 Q320.03 430.85 327.02 431.51 L327.02 433.07 Q320.03 434.03 313.05 433.19Z" fill="#222" fill-opacity="0.34" filter="url(#bl)"/>
<path d="M327.92 431.63 Q334.90 430.85 341.88 431.51 L341.88 433.07 Q334.90 434.03 327.92 433.19Z" fill="#222" fill-opacity="0.34" filter="url(#bl)"/>
<path d="M342.78 431.63 Q349.77 430.85 356.75 431.51 L356.75 433.07 Q349.77 434.03 342.78 433.19Z" fill="#222" fill-opacity="0.34" filter="url(#bl)"/>
<text x="359.50" y="435.30" font-size="8.6" text-anchor="start" font-weight="normal" fill="#222" stroke="#222" stroke-width="0.1" textLength="22" lengthAdjust="spacingAndGlyphs" >ACTB</text>
<line x1="282.6" y1="282.35" x2="282.6" y2="291.95" stroke="#333" stroke-width="0.9"/>
<line x1="282.6" y1="293.35" x2="282.6" y2="301.45" stroke="#333" stroke-width="0.9"/>
<line x1="282.6" y1="313.05" x2="282.6" y2="320.05" stroke="#333" stroke-width="0.9"/>
<line x1="282.6" y1="321.35" x2="282.6" y2="328.85" stroke="#333" stroke-width="0.9"/>
<line x1="282.6" y1="338.65" x2="282.6" y2="347.05" stroke="#333" stroke-width="0.9"/>
<line x1="282.6" y1="349.05" x2="282.6" y2="355.65" stroke="#333" stroke-width="0.9"/>
<line x1="282.6" y1="366.45" x2="282.6" y2="374.55" stroke="#333" stroke-width="0.9"/>
<line x1="282.6" y1="376.45" x2="282.6" y2="384.35" stroke="#333" stroke-width="0.9"/>
<text x="275.43" y="309.60" font-size="6.4" text-anchor="middle" font-weight="normal" fill="#222" stroke="#222" stroke-width="0.06" >1</text>
<text x="290.30" y="309.60" font-size="6.4" text-anchor="middle" font-weight="normal" fill="#222" stroke="#222" stroke-width="0.06" >1.11</text>
<text x="305.17" y="309.60" font-size="6.4" text-anchor="middle" font-weight="normal" fill="#222" stroke="#222" stroke-width="0.06" >1.42</text>
<text x="320.03" y="309.60" font-size="6.4" text-anchor="middle" font-weight="normal" fill="#222" stroke="#222" stroke-width="0.06" >1.03</text>
<text x="334.90" y="309.60" font-size="6.4" text-anchor="middle" font-weight="normal" fill="#222" stroke="#222" stroke-width="0.06" >1.07</text>
<text x="349.77" y="309.60" font-size="6.4" text-anchor="middle" font-weight="normal" fill="#222" stroke="#222" stroke-width="0.06" >1.99</text>
<text x="275.43" y="335.20" font-size="6.4" text-anchor="middle" font-weight="normal" fill="#222" stroke="#222" stroke-width="0.06" >1</text>
<text x="290.30" y="335.20" font-size="6.4" text-anchor="middle" font-weight="normal" fill="#222" stroke="#222" stroke-width="0.06" >0.92</text>
<text x="305.17" y="335.20" font-size="6.4" text-anchor="middle" font-weight="normal" fill="#222" stroke="#222" stroke-width="0.06" >0.97</text>
<text x="320.03" y="335.20" font-size="6.4" text-anchor="middle" font-weight="normal" fill="#222" stroke="#222" stroke-width="0.06" >1.02</text>
<text x="334.90" y="335.20" font-size="6.4" text-anchor="middle" font-weight="normal" fill="#222" stroke="#222" stroke-width="0.06" >1.15</text>
<text x="349.77" y="335.20" font-size="6.4" text-anchor="middle" font-weight="normal" fill="#222" stroke="#222" stroke-width="0.06" >1.1</text>
<text x="275.43" y="363.85" font-size="6.4" text-anchor="middle" font-weight="normal" fill="#222" stroke="#222" stroke-width="0.06" >1</text>
<text x="290.30" y="363.85" font-size="6.4" text-anchor="middle" font-weight="normal" fill="#222" stroke="#222" stroke-width="0.06" >1.27</text>
<text x="305.17" y="363.85" font-size="6.4" text-anchor="middle" font-weight="normal" fill="#222" stroke="#222" stroke-width="0.06" >1.10</text>
<text x="320.03" y="363.85" font-size="6.4" text-anchor="middle" font-weight="normal" fill="#222" stroke="#222" stroke-width="0.06" >1.15</text>
<text x="334.90" y="363.85" font-size="6.4" text-anchor="middle" font-weight="normal" fill="#222" stroke="#222" stroke-width="0.06" >0.72</text>
<text x="349.77" y="363.85" font-size="6.4" text-anchor="middle" font-weight="normal" fill="#222" stroke="#222" stroke-width="0.06" >0.80</text>
<text x="275.43" y="391.85" font-size="6.4" text-anchor="middle" font-weight="normal" fill="#222" stroke="#222" stroke-width="0.06" >1</text>
<text x="290.30" y="391.85" font-size="6.4" text-anchor="middle" font-weight="normal" fill="#222" stroke="#222" stroke-width="0.06" >1.19</text>
<text x="305.17" y="391.85" font-size="6.4" text-anchor="middle" font-weight="normal" fill="#222" stroke="#222" stroke-width="0.06" >1.19</text>
<text x="320.03" y="391.85" font-size="6.4" text-anchor="middle" font-weight="normal" fill="#222" stroke="#222" stroke-width="0.06" >1.33</text>
<text x="334.90" y="391.85" font-size="6.4" text-anchor="middle" font-weight="normal" fill="#222" stroke="#222" stroke-width="0.06" >1.47</text>
<text x="349.77" y="391.85" font-size="6.4" text-anchor="middle" font-weight="normal" fill="#222" stroke="#222" stroke-width="0.06" >1.31</text>
<text x="275.43" y="416.85" font-size="6.4" text-anchor="middle" font-weight="normal" fill="#222" stroke="#222" stroke-width="0.06" >1</text>
<text x="290.30" y="416.85" font-size="6.4" text-anchor="middle" font-weight="normal" fill="#222" stroke="#222" stroke-width="0.06" >0.97</text>
<text x="305.17" y="416.85" font-size="6.4" text-anchor="middle" font-weight="normal" fill="#222" stroke="#222" stroke-width="0.06" >0.63</text>
<text x="320.03" y="416.85" font-size="6.4" text-anchor="middle" font-weight="normal" fill="#222" stroke="#222" stroke-width="0.06" >0.61</text>
<text x="334.90" y="416.85" font-size="6.4" text-anchor="middle" font-weight="normal" fill="#222" stroke="#222" stroke-width="0.06" >0.36</text>
<text x="349.77" y="416.85" font-size="6.4" text-anchor="middle" font-weight="normal" fill="#222" stroke="#222" stroke-width="0.06" >0.32</text>
<text x="275.43" y="444.60" font-size="6.4" text-anchor="middle" font-weight="normal" fill="#222" stroke="#222" stroke-width="0.06" >1</text>
<text x="290.30" y="444.60" font-size="6.4" text-anchor="middle" font-weight="normal" fill="#222" stroke="#222" stroke-width="0.06" >0.94</text>
<text x="305.17" y="444.60" font-size="6.4" text-anchor="middle" font-weight="normal" fill="#222" stroke="#222" stroke-width="0.06" >0.89</text>
<text x="320.03" y="444.60" font-size="6.4" text-anchor="middle" font-weight="normal" fill="#222" stroke="#222" stroke-width="0.06" >0.83</text>
<text x="334.90" y="444.60" font-size="6.4" text-anchor="middle" font-weight="normal" fill="#222" stroke="#222" stroke-width="0.06" >0.70</text>
<text x="349.77" y="444.60" font-size="6.4" text-anchor="middle" font-weight="normal" fill="#222" stroke="#222" stroke-width="0.06" >0.78</text>
<text x="399.50" y="236.10" font-size="12" text-anchor="start" font-weight="bold" fill="#000" >G</text>
<text x="397.00" y="246.25" font-size="9.5" text-anchor="start" font-weight="normal" fill="#222" stroke="#222" stroke-width="0.1" textLength="100.5" lengthAdjust="spacingAndGlyphs" >MHH-CALL-4-CRBN-KD</text>
<text x="420.00" y="256.50" font-size="9.5" text-anchor="start" font-weight="normal" fill="#222" stroke="#222" stroke-width="0.1" textLength="57.5" lengthAdjust="spacingAndGlyphs" >cells, Cmpd 8</text>
<text x="0" y="0" font-size="8.9" fill="#222" transform="translate(403.96 281.00) rotate(-40)">Vehicle</text>
<text x="0" y="0" font-size="8.9" fill="#222" transform="translate(419.38 281.00) rotate(-40)">1nM</text>
<text x="0" y="0" font-size="8.9" fill="#222" transform="translate(434.29 281.00) rotate(-40)">10 nM</text>
<text x="0" y="0" font-size="8.9" fill="#222" transform="translate(449.21 281.00) rotate(-40)">100 nM</text>
<text x="0" y="0" font-size="8.9" fill="#222" transform="translate(464.12 281.00) rotate(-40)">1 uM</text>
<text x="0" y="0" font-size="8.9" fill="#222" transform="translate(479.04 281.00) rotate(-40)">4.3 uM</text>
<rect x="398.80" y="282.05" width="89.50" height="9.90" fill="#a6a6a6"/>
<path d="M399.25 285.39 Q406.26 284.22 413.27 285.21 L413.27 287.55 Q406.26 288.99 399.25 287.73Z" fill="#222" fill-opacity="0.34" filter="url(#bl)"/>
<path d="M414.17 285.39 Q421.18 284.22 428.18 285.21 L428.18 287.55 Q421.18 288.99 414.17 287.73Z" fill="#222" fill-opacity="0.42" filter="url(#bl)"/>
<path d="M429.08 285.39 Q436.09 284.22 443.10 285.21 L443.10 287.55 Q436.09 288.99 429.08 287.73Z" fill="#222" fill-opacity="0.42" filter="url(#bl)"/>
<path d="M444.00 285.39 Q451.01 284.22 458.02 285.21 L458.02 287.55 Q451.01 288.99 444.00 287.73Z" fill="#222" fill-opacity="0.42" filter="url(#bl)"/>
<path d="M458.92 285.39 Q465.93 284.22 472.93 285.21 L472.93 287.55 Q465.93 288.99 458.92 287.73Z" fill="#222" fill-opacity="0.47" filter="url(#bl)"/>
<path d="M473.83 285.39 Q480.84 284.22 487.85 285.21 L487.85 287.55 Q480.84 288.99 473.83 287.73Z" fill="#222" fill-opacity="0.42" filter="url(#bl)"/>
<text x="491.25" y="289.95" font-size="8.6" text-anchor="start" font-weight="normal" fill="#222" stroke="#222" stroke-width="0.1" textLength="19" lengthAdjust="spacingAndGlyphs" >JAK1</text>
<rect x="398.80" y="293.35" width="89.50" height="8.10" fill="#dcdcdc"/>
<path d="M399.25 296.94 Q406.26 295.97 413.27 296.79 L413.27 298.74 Q406.26 299.94 399.25 298.89Z" fill="#222" fill-opacity="0.42" filter="url(#bl)"/>
<path d="M414.17 296.94 Q421.18 295.97 428.18 296.79 L428.18 298.74 Q421.18 299.94 414.17 298.89Z" fill="#222" fill-opacity="0.42" filter="url(#bl)"/>
<path d="M429.08 296.94 Q436.09 295.97 443.10 296.79 L443.10 298.74 Q436.09 299.94 429.08 298.89Z" fill="#222" fill-opacity="0.42" filter="url(#bl)"/>
<path d="M444.00 296.94 Q451.01 295.97 458.02 296.79 L458.02 298.74 Q451.01 299.94 444.00 298.89Z" fill="#222" fill-opacity="0.42" filter="url(#bl)"/>
<path d="M458.92 296.94 Q465.93 295.97 472.93 296.79 L472.93 298.74 Q465.93 299.94 458.92 298.89Z" fill="#222" fill-opacity="0.42" filter="url(#bl)"/>
<path d="M473.83 296.94 Q480.84 295.97 487.85 296.79 L487.85 298.74 Q480.84 299.94 473.83 298.89Z" fill="#222" fill-opacity="0.47" filter="url(#bl)"/>
<text x="491.25" y="300.35" font-size="8.6" text-anchor="start" font-weight="normal" fill="#222" stroke="#222" stroke-width="0.1" textLength="22" lengthAdjust="spacingAndGlyphs" >ACTB</text>
<rect x="398.80" y="311.25" width="89.50" height="7.50" fill="#e0e0e0"/>
<path d="M399.25 313.28 Q406.26 312.31 413.27 313.13 L413.27 315.08 Q406.26 316.28 399.25 315.23Z" fill="#222" fill-opacity="0.38" filter="url(#bl)"/>
<path d="M414.17 313.28 Q421.18 312.31 428.18 313.13 L428.18 315.08 Q421.18 316.28 414.17 315.23Z" fill="#222" fill-opacity="0.42" filter="url(#bl)"/>
<path d="M429.08 313.28 Q436.09 312.31 443.10 313.13 L443.10 315.08 Q436.09 316.28 429.08 315.23Z" fill="#222" fill-opacity="0.47" filter="url(#bl)"/>
<path d="M444.00 313.28 Q451.01 312.31 458.02 313.13 L458.02 315.08 Q451.01 316.28 444.00 315.23Z" fill="#222" fill-opacity="0.51" filter="url(#bl)"/>
<path d="M458.92 313.28 Q465.93 312.31 472.93 313.13 L472.93 315.08 Q465.93 316.28 458.92 315.23Z" fill="#222" fill-opacity="0.59" filter="url(#bl)"/>
<path d="M473.83 313.28 Q480.84 312.31 487.85 313.13 L487.85 315.08 Q480.84 316.28 473.83 315.23Z" fill="#222" fill-opacity="0.42" filter="url(#bl)"/>
<text x="491.25" y="317.95" font-size="8.6" text-anchor="start" font-weight="normal" fill="#222" stroke="#222" stroke-width="0.1" textLength="19" lengthAdjust="spacingAndGlyphs" >JAK2</text>
<rect x="398.80" y="320.75" width="89.50" height="6.30" fill="#e4e4e4"/>
<path d="M399.25 322.89 Q406.26 322.17 413.27 322.78 L413.27 324.21 Q406.26 325.09 399.25 324.32Z" fill="#222" fill-opacity="0.34" filter="url(#bl)"/>
<path d="M414.17 322.89 Q421.18 322.17 428.18 322.78 L428.18 324.21 Q421.18 325.09 414.17 324.32Z" fill="#222" fill-opacity="0.34" filter="url(#bl)"/>
<path d="M429.08 322.89 Q436.09 322.17 443.10 322.78 L443.10 324.21 Q436.09 325.09 429.08 324.32Z" fill="#222" fill-opacity="0.34" filter="url(#bl)"/>
<path d="M444.00 322.89 Q451.01 322.17 458.02 322.78 L458.02 324.21 Q451.01 325.09 444.00 324.32Z" fill="#222" fill-opacity="0.34" filter="url(#bl)"/>
<path d="M458.92 322.89 Q465.93 322.17 472.93 322.78 L472.93 324.21 Q465.93 325.09 458.92 324.32Z" fill="#222" fill-opacity="0.34" filter="url(#bl)"/>
<path d="M473.83 322.89 Q480.84 322.17 487.85 322.78 L487.85 324.21 Q480.84 325.09 473.83 324.32Z" fill="#222" fill-opacity="0.34" filter="url(#bl)"/>
<text x="491.25" y="326.85" font-size="8.6" text-anchor="start" font-weight="normal" fill="#222" stroke="#222" stroke-width="0.1" textLength="22" lengthAdjust="spacingAndGlyphs" >ACTB</text>
<rect x="398.80" y="337.15" width="89.50" height="7.50" fill="#c2c2c2"/>
<path d="M399.25 339.29 Q406.26 337.99 413.27 339.09 L413.27 341.69 Q406.26 343.29 399.25 341.89Z" fill="#222" fill-opacity="0.26" filter="url(#bl)"/>
<path d="M414.17 339.29 Q421.18 337.99 428.18 339.09 L428.18 341.69 Q421.18 343.29 414.17 341.89Z" fill="#222" fill-opacity="0.26" filter="url(#bl)"/>
<path d="M429.08 339.29 Q436.09 337.99 443.10 339.09 L443.10 341.69 Q436.09 343.29 429.08 341.89Z" fill="#222" fill-opacity="0.26" filter="url(#bl)"/>
<path d="M444.00 339.29 Q451.01 337.99 458.02 339.09 L458.02 341.69 Q451.01 343.29 444.00 341.89Z" fill="#222" fill-opacity="0.30" filter="url(#bl)"/>
<path d="M458.92 339.29 Q465.93 337.99 472.93 339.09 L472.93 341.69 Q465.93 343.29 458.92 341.89Z" fill="#222" fill-opacity="0.26" filter="url(#bl)"/>
<path d="M473.83 339.29 Q480.84 337.99 487.85 339.09 L487.85 341.69 Q480.84 343.29 473.83 341.89Z" fill="#222" fill-opacity="0.26" filter="url(#bl)"/>
<text x="491.25" y="343.85" font-size="8.6" text-anchor="start" font-weight="normal" fill="#222" stroke="#222" stroke-width="0.1" textLength="19" lengthAdjust="spacingAndGlyphs" >JAK3</text>
<rect x="398.80" y="346.65" width="89.50" height="7.20" fill="#dcdcdc"/>
<path d="M399.25 349.08 Q406.26 348.23 413.27 348.94 L413.27 350.63 Q406.26 351.68 399.25 350.77Z" fill="#222" fill-opacity="0.51" filter="url(#bl)"/>
<path d="M414.17 349.08 Q421.18 348.23 428.18 348.94 L428.18 350.63 Q421.18 351.68 414.17 350.77Z" fill="#222" fill-opacity="0.51" filter="url(#bl)"/>
<path d="M429.08 349.08 Q436.09 348.23 443.10 348.94 L443.10 350.63 Q436.09 351.68 429.08 350.77Z" fill="#222" fill-opacity="0.51" filter="url(#bl)"/>
<path d="M444.00 349.08 Q451.01 348.23 458.02 348.94 L458.02 350.63 Q451.01 351.68 444.00 350.77Z" fill="#222" fill-opacity="0.51" filter="url(#bl)"/>
<path d="M458.92 349.08 Q465.93 348.23 472.93 348.94 L472.93 350.63 Q465.93 351.68 458.92 350.77Z" fill="#222" fill-opacity="0.51" filter="url(#bl)"/>
<path d="M473.83 349.08 Q480.84 348.23 487.85 348.94 L487.85 350.63 Q480.84 351.68 473.83 350.77Z" fill="#222" fill-opacity="0.51" filter="url(#bl)"/>
<text x="491.25" y="353.20" font-size="8.6" text-anchor="start" font-weight="normal" fill="#222" stroke="#222" stroke-width="0.1" textLength="22" lengthAdjust="spacingAndGlyphs" >ACTB</text>
<rect x="398.80" y="365.55" width="89.50" height="9.00" fill="#e4e4e4"/>
<path d="M399.25 367.39 Q406.26 366.61 413.27 367.27 L413.27 368.83 Q406.26 369.79 399.25 368.95Z" fill="#222" fill-opacity="0.34" filter="url(#bl)"/>
<path d="M414.17 367.39 Q421.18 366.61 428.18 367.27 L428.18 368.83 Q421.18 369.79 414.17 368.95Z" fill="#222" fill-opacity="0.38" filter="url(#bl)"/>
<path d="M429.08 367.39 Q436.09 366.61 443.10 367.27 L443.10 368.83 Q436.09 369.79 429.08 368.95Z" fill="#222" fill-opacity="0.34" filter="url(#bl)"/>
<path d="M444.00 367.39 Q451.01 366.61 458.02 367.27 L458.02 368.83 Q451.01 369.79 444.00 368.95Z" fill="#222" fill-opacity="0.47" filter="url(#bl)"/>
<path d="M458.92 367.39 Q465.93 366.61 472.93 367.27 L472.93 368.83 Q465.93 369.79 458.92 368.95Z" fill="#222" fill-opacity="0.47" filter="url(#bl)"/>
<path d="M473.83 367.39 Q480.84 366.61 487.85 367.27 L487.85 368.83 Q480.84 369.79 473.83 368.95Z" fill="#222" fill-opacity="0.38" filter="url(#bl)"/>
<text x="491.25" y="373.00" font-size="8.6" text-anchor="start" font-weight="normal" fill="#222" stroke="#222" stroke-width="0.1" textLength="19.5" lengthAdjust="spacingAndGlyphs" >TYK2</text>
<rect x="398.80" y="376.45" width="89.50" height="9.00" fill="#d4d4d4"/>
<path d="M399.25 379.93 Q406.26 378.83 413.27 379.76 L413.27 381.97 Q406.26 383.33 399.25 382.14Z" fill="#222" fill-opacity="0.68" filter="url(#bl)"/>
<path d="M414.17 379.93 Q421.18 378.83 428.18 379.76 L428.18 381.97 Q421.18 383.33 414.17 382.14Z" fill="#222" fill-opacity="0.68" filter="url(#bl)"/>
<path d="M429.08 379.93 Q436.09 378.83 443.10 379.76 L443.10 381.97 Q436.09 383.33 429.08 382.14Z" fill="#222" fill-opacity="0.68" filter="url(#bl)"/>
<path d="M444.00 379.93 Q451.01 378.83 458.02 379.76 L458.02 381.97 Q451.01 383.33 444.00 382.14Z" fill="#222" fill-opacity="0.72" filter="url(#bl)"/>
<path d="M458.92 379.93 Q465.93 378.83 472.93 379.76 L472.93 381.97 Q465.93 383.33 458.92 382.14Z" fill="#222" fill-opacity="0.72" filter="url(#bl)"/>
<path d="M473.83 379.93 Q480.84 378.83 487.85 379.76 L487.85 381.97 Q480.84 383.33 473.83 382.14Z" fill="#222" fill-opacity="0.68" filter="url(#bl)"/>
<text x="491.25" y="383.90" font-size="8.6" text-anchor="start" font-weight="normal" fill="#222" stroke="#222" stroke-width="0.1" textLength="22" lengthAdjust="spacingAndGlyphs" >ACTB</text>
<rect x="398.80" y="396.55" width="89.50" height="6.70" fill="#e0e0e0"/>
<path d="M399.25 398.81 Q406.26 398.03 413.27 398.69 L413.27 400.25 Q406.26 401.21 399.25 400.37Z" fill="#222" fill-opacity="0.47" filter="url(#bl)"/>
<path d="M414.17 398.81 Q421.18 398.03 428.18 398.69 L428.18 400.25 Q421.18 401.21 414.17 400.37Z" fill="#222" fill-opacity="0.47" filter="url(#bl)"/>
<path d="M429.08 398.81 Q436.09 398.03 443.10 398.69 L443.10 400.25 Q436.09 401.21 429.08 400.37Z" fill="#222" fill-opacity="0.47" filter="url(#bl)"/>
<path d="M444.00 398.81 Q451.01 398.03 458.02 398.69 L458.02 400.25 Q451.01 401.21 444.00 400.37Z" fill="#222" fill-opacity="0.47" filter="url(#bl)"/>
<path d="M458.92 398.81 Q465.93 398.03 472.93 398.69 L472.93 400.25 Q465.93 401.21 458.92 400.37Z" fill="#222" fill-opacity="0.47" filter="url(#bl)"/>
<path d="M473.83 398.81 Q480.84 398.03 487.85 398.69 L487.85 400.25 Q480.84 401.21 473.83 400.37Z" fill="#222" fill-opacity="0.42" filter="url(#bl)"/>
<text x="491.25" y="402.85" font-size="8.6" text-anchor="start" font-weight="normal" fill="#222" stroke="#222" stroke-width="0.1" textLength="24.5" lengthAdjust="spacingAndGlyphs" >GSPT1</text>
<rect x="398.80" y="404.45" width="89.50" height="6.60" fill="#d8d8d8"/>
<path d="M399.25 407.03 Q406.26 406.25 413.27 406.91 L413.27 408.47 Q406.26 409.43 399.25 408.59Z" fill="#222" fill-opacity="0.55" filter="url(#bl)"/>
<path d="M414.17 407.03 Q421.18 406.25 428.18 406.91 L428.18 408.47 Q421.18 409.43 414.17 408.59Z" fill="#222" fill-opacity="0.55" filter="url(#bl)"/>
<path d="M429.08 407.03 Q436.09 406.25 443.10 406.91 L443.10 408.47 Q436.09 409.43 429.08 408.59Z" fill="#222" fill-opacity="0.55" filter="url(#bl)"/>
<path d="M444.00 407.03 Q451.01 406.25 458.02 406.91 L458.02 408.47 Q451.01 409.43 444.00 408.59Z" fill="#222" fill-opacity="0.55" filter="url(#bl)"/>
<path d="M458.92 407.03 Q465.93 406.25 472.93 406.91 L472.93 408.47 Q465.93 409.43 458.92 408.59Z" fill="#222" fill-opacity="0.55" filter="url(#bl)"/>
<path d="M473.83 407.03 Q480.84 406.25 487.85 406.91 L487.85 408.47 Q480.84 409.43 473.83 408.59Z" fill="#222" fill-opacity="0.55" filter="url(#bl)"/>
<text x="491.25" y="410.70" font-size="8.6" text-anchor="start" font-weight="normal" fill="#222" stroke="#222" stroke-width="0.1" textLength="22" lengthAdjust="spacingAndGlyphs" >ACTB</text>
<rect x="398.80" y="421.25" width="89.50" height="5.70" fill="#e0e0e0"/>
<path d="M399.25 423.12 Q406.26 422.40 413.27 423.01 L413.27 424.44 Q406.26 425.32 399.25 424.55Z" fill="#222" fill-opacity="0.51" filter="url(#bl)"/>
<path d="M414.17 423.12 Q421.18 422.40 428.18 423.01 L428.18 424.44 Q421.18 425.32 414.17 424.55Z" fill="#222" fill-opacity="0.55" filter="url(#bl)"/>
<path d="M429.08 423.12 Q436.09 422.40 443.10 423.01 L443.10 424.44 Q436.09 425.32 429.08 424.55Z" fill="#222" fill-opacity="0.55" filter="url(#bl)"/>
<path d="M444.00 423.12 Q451.01 422.40 458.02 423.01 L458.02 424.44 Q451.01 425.32 444.00 424.55Z" fill="#222" fill-opacity="0.59" filter="url(#bl)"/>
<path d="M458.92 423.12 Q465.93 422.40 472.93 423.01 L472.93 424.44 Q465.93 425.32 458.92 424.55Z" fill="#222" fill-opacity="0.55" filter="url(#bl)"/>
<path d="M473.83 423.12 Q480.84 422.40 487.85 423.01 L487.85 424.44 Q480.84 425.32 473.83 424.55Z" fill="#222" fill-opacity="0.51" filter="url(#bl)"/>
<text x="491.25" y="427.05" font-size="8.6" text-anchor="start" font-weight="normal" fill="#222" stroke="#222" stroke-width="0.1" textLength="22" lengthAdjust="spacingAndGlyphs" >IKZF1</text>
<rect x="398.80" y="428.55" width="89.50" height="7.00" fill="#dcdcdc"/>
<path d="M399.25 431.00 Q406.26 430.29 413.27 430.89 L413.27 432.32 Q406.26 433.20 399.25 432.43Z" fill="#222" fill-opacity="0.34" filter="url(#bl)"/>
<path d="M414.17 431.00 Q421.18 430.29 428.18 430.89 L428.18 432.32 Q421.18 433.20 414.17 432.43Z" fill="#222" fill-opacity="0.34" filter="url(#bl)"/>
<path d="M429.08 431.00 Q436.09 430.29 443.10 430.89 L443.10 432.32 Q436.09 433.20 429.08 432.43Z" fill="#222" fill-opacity="0.34" filter="url(#bl)"/>
<path d="M444.00 431.00 Q451.01 430.29 458.02 430.89 L458.02 432.32 Q451.01 433.20 444.00 432.43Z" fill="#222" fill-opacity="0.34" filter="url(#bl)"/>
<path d="M458.92 431.00 Q465.93 430.29 472.93 430.89 L472.93 432.32 Q465.93 433.20 458.92 432.43Z" fill="#222" fill-opacity="0.34" filter="url(#bl)"/>
<path d="M473.83 431.00 Q480.84 430.29 487.85 430.89 L487.85 432.32 Q480.84 433.20 473.83 432.43Z" fill="#222" fill-opacity="0.34" filter="url(#bl)"/>
<text x="491.25" y="435.00" font-size="8.6" text-anchor="start" font-weight="normal" fill="#222" stroke="#222" stroke-width="0.1" textLength="22" lengthAdjust="spacingAndGlyphs" >ACTB</text>
<text x="406.26" y="308.35" font-size="6.4" text-anchor="middle" font-weight="normal" fill="#222" stroke="#222" stroke-width="0.06" >1</text>
<text x="421.18" y="308.35" font-size="6.4" text-anchor="middle" font-weight="normal" fill="#222" stroke="#222" stroke-width="0.06" >1.44</text>
<text x="436.09" y="308.35" font-size="6.4" text-anchor="middle" font-weight="normal" fill="#222" stroke="#222" stroke-width="0.06" >1.62</text>
<text x="451.01" y="308.35" font-size="6.4" text-anchor="middle" font-weight="normal" fill="#222" stroke="#222" stroke-width="0.06" >1.65</text>
<text x="465.93" y="308.35" font-size="6.4" text-anchor="middle" font-weight="normal" fill="#222" stroke="#222" stroke-width="0.06" >1.94</text>
<text x="480.84" y="308.35" font-size="6.4" text-anchor="middle" font-weight="normal" fill="#222" stroke="#222" stroke-width="0.06" >1.59</text>
<text x="406.26" y="335.10" font-size="6.4" text-anchor="middle" font-weight="normal" fill="#222" stroke="#222" stroke-width="0.06" >1</text>
<text x="421.18" y="335.10" font-size="6.4" text-anchor="middle" font-weight="normal" fill="#222" stroke="#222" stroke-width="0.06" >1.50</text>
<text x="436.09" y="335.10" font-size="6.4" text-anchor="middle" font-weight="normal" fill="#222" stroke="#222" stroke-width="0.06" >1.74</text>
<text x="451.01" y="335.10" font-size="6.4" text-anchor="middle" font-weight="normal" fill="#222" stroke="#222" stroke-width="0.06" >2.03</text>
<text x="465.93" y="335.10" font-size="6.4" text-anchor="middle" font-weight="normal" fill="#222" stroke="#222" stroke-width="0.06" >1.98</text>
<text x="480.84" y="335.10" font-size="6.4" text-anchor="middle" font-weight="normal" fill="#222" stroke="#222" stroke-width="0.06" >1.48</text>
<text x="406.26" y="362.60" font-size="6.4" text-anchor="middle" font-weight="normal" fill="#222" stroke="#222" stroke-width="0.06" >1</text>
<text x="421.18" y="362.60" font-size="6.4" text-anchor="middle" font-weight="normal" fill="#222" stroke="#222" stroke-width="0.06" >1.14</text>
<text x="436.09" y="362.60" font-size="6.4" text-anchor="middle" font-weight="normal" fill="#222" stroke="#222" stroke-width="0.06" >1.03</text>
<text x="451.01" y="362.60" font-size="6.4" text-anchor="middle" font-weight="normal" fill="#222" stroke="#222" stroke-width="0.06" >1.08</text>
<text x="465.93" y="362.60" font-size="6.4" text-anchor="middle" font-weight="normal" fill="#222" stroke="#222" stroke-width="0.06" >1.04</text>
<text x="480.84" y="362.60" font-size="6.4" text-anchor="middle" font-weight="normal" fill="#222" stroke="#222" stroke-width="0.06" >0.89</text>
<text x="406.26" y="393.35" font-size="6.4" text-anchor="middle" font-weight="normal" fill="#222" stroke="#222" stroke-width="0.06" >1</text>
<text x="421.18" y="393.35" font-size="6.4" text-anchor="middle" font-weight="normal" fill="#222" stroke="#222" stroke-width="0.06" >1.38</text>
<text x="436.09" y="393.35" font-size="6.4" text-anchor="middle" font-weight="normal" fill="#222" stroke="#222" stroke-width="0.06" >1.31</text>
<text x="451.01" y="393.35" font-size="6.4" text-anchor="middle" font-weight="normal" fill="#222" stroke="#222" stroke-width="0.06" >1.67</text>
<text x="465.93" y="393.35" font-size="6.4" text-anchor="middle" font-weight="normal" fill="#222" stroke="#222" stroke-width="0.06" >1.87</text>
<text x="480.84" y="393.35" font-size="6.4" text-anchor="middle" font-weight="normal" fill="#222" stroke="#222" stroke-width="0.06" >1.56</text>
<text x="406.26" y="419.35" font-size="6.4" text-anchor="middle" font-weight="normal" fill="#222" stroke="#222" stroke-width="0.06" >1</text>
<text x="421.18" y="419.35" font-size="6.4" text-anchor="middle" font-weight="normal" fill="#222" stroke="#222" stroke-width="0.06" >1.03</text>
<text x="436.09" y="419.35" font-size="6.4" text-anchor="middle" font-weight="normal" fill="#222" stroke="#222" stroke-width="0.06" >1.06</text>
<text x="451.01" y="419.35" font-size="6.4" text-anchor="middle" font-weight="normal" fill="#222" stroke="#222" stroke-width="0.06" >1.26</text>
<text x="465.93" y="419.35" font-size="6.4" text-anchor="middle" font-weight="normal" fill="#222" stroke="#222" stroke-width="0.06" >1.05</text>
<text x="480.84" y="419.35" font-size="6.4" text-anchor="middle" font-weight="normal" fill="#222" stroke="#222" stroke-width="0.06" >0.83</text>
<text x="406.26" y="443.85" font-size="6.4" text-anchor="middle" font-weight="normal" fill="#222" stroke="#222" stroke-width="0.06" >1</text>
<text x="421.18" y="443.85" font-size="6.4" text-anchor="middle" font-weight="normal" fill="#222" stroke="#222" stroke-width="0.06" >1.65</text>
<text x="436.09" y="443.85" font-size="6.4" text-anchor="middle" font-weight="normal" fill="#222" stroke="#222" stroke-width="0.06" >2.08</text>
<text x="451.01" y="443.85" font-size="6.4" text-anchor="middle" font-weight="normal" fill="#222" stroke="#222" stroke-width="0.06" >3.31</text>
<text x="465.93" y="443.85" font-size="6.4" text-anchor="middle" font-weight="normal" fill="#222" stroke="#222" stroke-width="0.06" >2.27</text>
<text x="480.84" y="443.85" font-size="6.4" text-anchor="middle" font-weight="normal" fill="#222" stroke="#222" stroke-width="0.06" >1.52</text>
<text x="8.60" y="466.00" font-size="12" text-anchor="start" font-weight="bold" fill="#000" >H</text>
<polygon points="103.60,491.11 132.31,501.09 146.19,527.79 113.38,540.94 107.30,545.47 99.74,545.91 93.42,541.18 78.60,530.89 74.89,501.09" fill="#c2d8e8" stroke="none"/>
<polygon points="103.60,491.11 132.31,501.09 129.07,530.81 113.58,541.06 107.22,545.25 95.40,557.83 65.74,557.16 90.63,533.01 95.13,525.21" fill="#f0c8cc" stroke="none" style="mix-blend-mode:multiply"/>
<polygon points="103.60,491.11 132.31,501.09 146.19,527.79 113.38,540.94 107.30,545.47 99.74,545.91 93.42,541.18 78.60,530.89 74.89,501.09" fill="none" stroke="#1a5a96" stroke-width="1.2"/>
<polygon points="103.60,491.11 132.31,501.09 129.07,530.81 113.58,541.06 107.22,545.25 95.40,557.83 65.74,557.16 90.63,533.01 95.13,525.21" fill="none" stroke="#d8485c" stroke-width="0.8"/>
<polygon points="103.60,527.30 108.74,529.17 111.48,533.91 110.53,539.30 106.34,542.82 100.86,542.82 96.67,539.30 95.72,533.91 98.46,529.17" fill="none" stroke="#111" stroke-width="0.8"/>
<polygon points="103.60,517.90 114.78,521.97 120.74,532.28 118.67,544.00 109.55,551.65 97.65,551.65 88.53,544.00 86.46,532.28 92.42,521.97" fill="none" stroke="#111" stroke-width="0.8"/>
<polygon points="103.60,508.50 120.83,514.77 129.99,530.65 126.81,548.70 112.77,560.48 94.43,560.48 80.39,548.70 77.21,530.65 86.37,514.77" fill="none" stroke="#111" stroke-width="0.8"/>
<polygon points="103.60,499.10 126.87,507.57 139.25,529.01 134.95,553.40 115.98,569.32 91.22,569.32 72.25,553.40 67.95,529.01 80.33,507.57" fill="none" stroke="#111" stroke-width="0.8"/>
<polygon points="103.60,489.70 132.91,500.37 148.51,527.38 143.09,558.10 119.20,578.15 88.00,578.15 64.11,558.10 58.69,527.38 74.29,500.37" fill="none" stroke="#111" stroke-width="0.8"/>
<polygon points="103.60,480.30 138.95,493.17 157.76,525.75 151.23,562.80 122.41,586.98 84.79,586.98 55.97,562.80 49.44,525.75 68.25,493.17" fill="none" stroke="#111" stroke-width="0.8"/>
<line x1="103.60" y1="527.30" x2="103.60" y2="480.30" stroke="#111" stroke-width="0.8"/>
<line x1="108.74" y1="529.17" x2="138.95" y2="493.17" stroke="#111" stroke-width="0.8"/>
<line x1="111.48" y1="533.91" x2="157.76" y2="525.75" stroke="#111" stroke-width="0.8"/>
<line x1="110.53" y1="539.30" x2="151.23" y2="562.80" stroke="#111" stroke-width="0.8"/>
<line x1="106.34" y1="542.82" x2="122.41" y2="586.98" stroke="#111" stroke-width="0.8"/>
<line x1="100.86" y1="542.82" x2="84.79" y2="586.98" stroke="#111" stroke-width="0.8"/>
<line x1="96.67" y1="539.30" x2="55.97" y2="562.80" stroke="#111" stroke-width="0.8"/>
<line x1="95.72" y1="533.91" x2="49.44" y2="525.75" stroke="#111" stroke-width="0.8"/>
<line x1="98.46" y1="529.17" x2="68.25" y2="493.17" stroke="#111" stroke-width="0.8"/>
<circle cx="103.60" cy="491.11" r="1.9" fill="#1a5f9e"/>
<circle cx="132.31" cy="501.09" r="1.9" fill="#1a5f9e"/>
<circle cx="146.19" cy="527.79" r="1.9" fill="#1a5f9e"/>
<circle cx="113.38" cy="540.94" r="1.9" fill="#1a5f9e"/>
<circle cx="107.30" cy="545.47" r="1.9" fill="#1a5f9e"/>
<circle cx="99.74" cy="545.91" r="1.9" fill="#1a5f9e"/>
<circle cx="93.42" cy="541.18" r="1.9" fill="#1a5f9e"/>
<circle cx="78.60" cy="530.89" r="1.9" fill="#1a5f9e"/>
<circle cx="74.89" cy="501.09" r="1.9" fill="#1a5f9e"/>
<circle cx="103.60" cy="491.11" r="1.9" fill="#d01c3a"/>
<circle cx="132.31" cy="501.09" r="1.9" fill="#d01c3a"/>
<circle cx="129.07" cy="530.81" r="1.9" fill="#d01c3a"/>
<circle cx="95.40" cy="557.83" r="1.9" fill="#d01c3a"/>
<circle cx="65.74" cy="557.16" r="1.9" fill="#d01c3a"/>
<circle cx="90.63" cy="533.01" r="1.9" fill="#d01c3a"/>
<circle cx="95.13" cy="525.21" r="1.9" fill="#d01c3a"/>
<text x="101.00" y="531.90" font-size="6.8" text-anchor="end" fill="#444" stroke="#fff" stroke-width="1.1" paint-order="stroke" stroke-opacity="0.8">0</text>
<text x="101.00" y="522.50" font-size="6.8" text-anchor="end" fill="#444" stroke="#fff" stroke-width="1.1" paint-order="stroke" stroke-opacity="0.8">20</text>
<text x="101.00" y="513.10" font-size="6.8" text-anchor="end" fill="#444" stroke="#fff" stroke-width="1.1" paint-order="stroke" stroke-opacity="0.8">40</text>
<text x="101.00" y="503.70" font-size="6.8" text-anchor="end" fill="#444" stroke="#fff" stroke-width="1.1" paint-order="stroke" stroke-opacity="0.8">60</text>
<text x="101.00" y="494.30" font-size="6.8" text-anchor="end" fill="#444" stroke="#fff" stroke-width="1.1" paint-order="stroke" stroke-opacity="0.8">80</text>
<text x="101.00" y="484.90" font-size="6.8" text-anchor="end" fill="#444" stroke="#fff" stroke-width="1.1" paint-order="stroke" stroke-opacity="0.8">100</text>
<text x="100.50" y="466.60" font-size="7.6" text-anchor="middle" font-weight="normal" fill="#222" stroke="#222" stroke-width="0.1" textLength="27.2" lengthAdjust="spacingAndGlyphs" >Cmpd 6</text>
<text x="100.60" y="475.20" font-size="7.6" text-anchor="middle" font-weight="normal" fill="#222" stroke="#222" stroke-width="0.1" textLength="27.9" lengthAdjust="spacingAndGlyphs" >(0.4 nM)</text>
<text x="155.60" y="485.00" font-size="7.6" text-anchor="middle" font-weight="normal" fill="#222" stroke="#222" stroke-width="0.1" textLength="27.2" lengthAdjust="spacingAndGlyphs" >Cmpd 5</text>
<text x="156.00" y="493.40" font-size="7.6" text-anchor="middle" font-weight="normal" fill="#222" stroke="#222" stroke-width="0.1" textLength="27.9" lengthAdjust="spacingAndGlyphs" >(1.5 nM)</text>
<text x="172.70" y="523.00" font-size="7.6" text-anchor="middle" font-weight="normal" fill="#222" stroke="#222" stroke-width="0.1" textLength="27.0" lengthAdjust="spacingAndGlyphs" >Cmpd 7</text>
<text x="173.40" y="532.50" font-size="7.6" text-anchor="middle" font-weight="normal" fill="#222" stroke="#222" stroke-width="0.1" textLength="28.4" lengthAdjust="spacingAndGlyphs" >(0.4 nM)</text>
<text x="171.20" y="562.90" font-size="7.6" text-anchor="middle" font-weight="normal" fill="#222" stroke="#222" stroke-width="0.1" textLength="31.4" lengthAdjust="spacingAndGlyphs" >Cmpd 80</text>
<text x="171.10" y="571.90" font-size="7.6" text-anchor="middle" font-weight="normal" fill="#222" stroke="#222" stroke-width="0.1" textLength="39.2" lengthAdjust="spacingAndGlyphs" >(&gt;5500 nM)</text>
<text x="136.90" y="596.50" font-size="7.6" text-anchor="middle" font-weight="normal" fill="#222" stroke="#222" stroke-width="0.1" textLength="31.4" lengthAdjust="spacingAndGlyphs" >Cmpd 59</text>
<text x="137.10" y="605.10" font-size="7.6" text-anchor="middle" font-weight="normal" fill="#222" stroke="#222" stroke-width="0.1" textLength="34.5" lengthAdjust="spacingAndGlyphs" >(4191 nM)</text>
<text x="70.25" y="596.00" font-size="7.6" text-anchor="middle" font-weight="normal" fill="#222" stroke="#222" stroke-width="0.1" textLength="34.3" lengthAdjust="spacingAndGlyphs" >Cmpd 56•</text>
<text x="68.50" y="604.40" font-size="7.6" text-anchor="middle" font-weight="normal" fill="#222" stroke="#222" stroke-width="0.1" textLength="40.7" lengthAdjust="spacingAndGlyphs" >(562.39 nM)</text>
<text x="33.20" y="563.70" font-size="7.6" text-anchor="middle" font-weight="normal" fill="#222" stroke="#222" stroke-width="0.1" textLength="31.0" lengthAdjust="spacingAndGlyphs" >Cmpd 8•</text>
<text x="31.50" y="572.30" font-size="7.6" text-anchor="middle" font-weight="normal" fill="#222" stroke="#222" stroke-width="0.1" textLength="27.7" lengthAdjust="spacingAndGlyphs" >(5.4 nM)</text>
<text x="28.00" y="524.80" font-size="7.6" text-anchor="middle" font-weight="normal" fill="#222" stroke="#222" stroke-width="0.1" textLength="34.8" lengthAdjust="spacingAndGlyphs" >Cmpd 61*</text>
<text x="28.25" y="533.80" font-size="7.6" text-anchor="middle" font-weight="normal" fill="#222" stroke="#222" stroke-width="0.1" textLength="36.5" lengthAdjust="spacingAndGlyphs" >(51.55 nM)</text>
<text x="45.90" y="485.00" font-size="7.6" text-anchor="middle" font-weight="normal" fill="#222" stroke="#222" stroke-width="0.1" textLength="34.2" lengthAdjust="spacingAndGlyphs" >Cmpd 53*</text>
<text x="45.95" y="493.40" font-size="7.6" text-anchor="middle" font-weight="normal" fill="#222" stroke="#222" stroke-width="0.1" textLength="36.5" lengthAdjust="spacingAndGlyphs" >(34.58 nM)</text>
<circle cx="186.9" cy="488.6" r="1.9" fill="#d01c3a"/>
<circle cx="186.9" cy="496.6" r="1.9" fill="#1a5f9e"/>
<text x="191.30" y="491.30" font-size="7.6" text-anchor="start" font-weight="normal" fill="#222" stroke="#222" stroke-width="0.1" textLength="17.7" lengthAdjust="spacingAndGlyphs" >JAK2</text>
<text x="191.30" y="499.30" font-size="7.6" text-anchor="start" font-weight="normal" fill="#222" stroke="#222" stroke-width="0.1" textLength="22.2" lengthAdjust="spacingAndGlyphs" >GSPT1</text>
<text x="227.50" y="465.10" font-size="12" text-anchor="start" font-weight="bold" fill="#000" >I</text>
<text x="283.00" y="471.00" font-size="9.2" text-anchor="middle" font-weight="normal" fill="#222" stroke="#222" stroke-width="0.1" textLength="63.5" lengthAdjust="spacingAndGlyphs" >P-STAT5(Y694)</text>
<text x="386.50" y="471.00" font-size="9.2" text-anchor="middle" font-weight="normal" fill="#222" stroke="#222" stroke-width="0.1" textLength="95" lengthAdjust="spacingAndGlyphs" >P-JAK2(Y1007/Y1008)</text>
<defs><clipPath id="cp233"><rect x="233.2" y="474.4" width="100.19999999999999" height="99.6"/></clipPath></defs>
<g clip-path="url(#cp233)">
<polygon points="233.2,492.2 233.2,492.20 234.3,492.20 235.4,492.20 236.5,492.20 237.7,492.20 238.8,492.20 239.9,492.20 241.0,492.20 242.1,492.19 243.2,492.18 244.3,492.16 245.4,492.11 246.6,492.01 247.7,491.83 248.8,491.51 249.9,491.02 251.0,490.27 252.1,489.25 253.2,487.96 254.4,486.46 255.5,484.90 256.6,483.45 257.7,482.35 258.8,481.76 259.9,482.38 261.0,485.96 262.1,489.62 263.3,491.50 264.4,492.08 265.5,492.19 266.6,492.20 267.7,492.20 268.8,492.20 269.9,492.20 271.1,492.20 272.2,492.20 273.3,492.20 274.4,492.20 275.5,492.20 276.6,492.20 277.7,492.20 278.8,492.20 280.0,492.20 281.1,492.20 282.2,492.20 283.3,492.20 284.4,492.20 285.5,492.20 286.6,492.20 287.8,492.20 288.9,492.20 290.0,492.20 291.1,492.20 292.2,492.20 293.3,492.20 294.4,492.20 295.5,492.20 296.7,492.20 297.8,492.20 298.9,492.20 300.0,492.20 301.1,492.20 302.2,492.20 303.3,492.20 304.5,492.20 305.6,492.20 306.7,492.20 307.8,492.20 308.9,492.20 310.0,492.20 311.1,492.20 312.2,492.20 313.4,492.20 314.5,492.20 315.6,492.20 316.7,492.20 317.8,492.20 318.9,492.20 320.0,492.20 321.2,492.20 322.3,492.20 323.4,492.20 324.5,492.20 325.6,492.20 326.7,492.20 327.8,492.20 328.9,492.20 330.1,492.20 331.2,492.20 332.3,492.20 333.4,492.20 333.4,492.2" fill="#d8d8d8" fill-opacity="0.75"/>
<polyline points="233.2,492.20 234.3,492.20 235.4,492.20 236.5,492.20 237.7,492.20 238.8,492.20 239.9,492.20 241.0,492.20 242.1,492.19 243.2,492.18 244.3,492.16 245.4,492.11 246.6,492.01 247.7,491.83 248.8,491.51 249.9,491.02 251.0,490.27 252.1,489.25 253.2,487.96 254.4,486.46 255.5,484.90 256.6,483.45 257.7,482.35 258.8,481.76 259.9,482.38 261.0,485.96 262.1,489.62 263.3,491.50 264.4,492.08 265.5,492.19 266.6,492.20 267.7,492.20 268.8,492.20 269.9,492.20 271.1,492.20 272.2,492.20 273.3,492.20 274.4,492.20 275.5,492.20 276.6,492.20 277.7,492.20 278.8,492.20 280.0,492.20 281.1,492.20 282.2,492.20 283.3,492.20 284.4,492.20 285.5,492.20 286.6,492.20 287.8,492.20 288.9,492.20 290.0,492.20 291.1,492.20 292.2,492.20 293.3,492.20 294.4,492.20 295.5,492.20 296.7,492.20 297.8,492.20 298.9,492.20 300.0,492.20 301.1,492.20 302.2,492.20 303.3,492.20 304.5,492.20 305.6,492.20 306.7,492.20 307.8,492.20 308.9,492.20 310.0,492.20 311.1,492.20 312.2,492.20 313.4,492.20 314.5,492.20 315.6,492.20 316.7,492.20 317.8,492.20 318.9,492.20 320.0,492.20 321.2,492.20 322.3,492.20 323.4,492.20 324.5,492.20 325.6,492.20 326.7,492.20 327.8,492.20 328.9,492.20 330.1,492.20 331.2,492.20 332.3,492.20 333.4,492.20" fill="none" stroke="#9a9a9a" stroke-width="1.0"/>
<polygon points="233.2,499.59999999999997 233.2,499.60 234.3,499.60 235.4,499.60 236.5,499.60 237.7,499.60 238.8,499.60 239.9,499.60 241.0,499.60 242.1,499.60 243.2,499.60 244.3,499.60 245.4,499.60 246.6,499.60 247.7,499.60 248.8,499.59 249.9,499.58 251.0,499.57 252.1,499.54 253.2,499.48 254.4,499.38 255.5,499.22 256.6,498.96 257.7,498.58 258.8,498.02 259.9,497.27 261.0,496.29 262.1,495.09 263.3,493.70 264.4,492.19 265.5,490.67 266.6,489.27 267.7,488.13 268.8,487.38 269.9,487.10 271.1,487.49 272.2,488.66 273.3,490.39 274.4,492.37 275.5,494.31 276.6,495.99 277.7,497.31 278.8,498.24 280.0,498.85 281.1,499.21 282.2,499.41 283.3,499.52 284.4,499.57 285.5,499.59 286.6,499.60 287.8,499.60 288.9,499.60 290.0,499.60 291.1,499.60 292.2,499.60 293.3,499.60 294.4,499.60 295.5,499.60 296.7,499.60 297.8,499.60 298.9,499.60 300.0,499.60 301.1,499.60 302.2,499.60 303.3,499.60 304.5,499.60 305.6,499.60 306.7,499.60 307.8,499.60 308.9,499.60 310.0,499.60 311.1,499.60 312.2,499.60 313.4,499.60 314.5,499.60 315.6,499.60 316.7,499.60 317.8,499.60 318.9,499.60 320.0,499.60 321.2,499.60 322.3,499.60 323.4,499.60 324.5,499.60 325.6,499.60 326.7,499.60 327.8,499.60 328.9,499.60 330.1,499.60 331.2,499.60 332.3,499.60 333.4,499.60 333.4,499.59999999999997" fill="#c5d9ee" fill-opacity="0.75"/>
<polyline points="233.2,499.60 234.3,499.60 235.4,499.60 236.5,499.60 237.7,499.60 238.8,499.60 239.9,499.60 241.0,499.60 242.1,499.60 243.2,499.60 244.3,499.60 245.4,499.60 246.6,499.60 247.7,499.60 248.8,499.59 249.9,499.58 251.0,499.57 252.1,499.54 253.2,499.48 254.4,499.38 255.5,499.22 256.6,498.96 257.7,498.58 258.8,498.02 259.9,497.27 261.0,496.29 262.1,495.09 263.3,493.70 264.4,492.19 265.5,490.67 266.6,489.27 267.7,488.13 268.8,487.38 269.9,487.10 271.1,487.49 272.2,488.66 273.3,490.39 274.4,492.37 275.5,494.31 276.6,495.99 277.7,497.31 278.8,498.24 280.0,498.85 281.1,499.21 282.2,499.41 283.3,499.52 284.4,499.57 285.5,499.59 286.6,499.60 287.8,499.60 288.9,499.60 290.0,499.60 291.1,499.60 292.2,499.60 293.3,499.60 294.4,499.60 295.5,499.60 296.7,499.60 297.8,499.60 298.9,499.60 300.0,499.60 301.1,499.60 302.2,499.60 303.3,499.60 304.5,499.60 305.6,499.60 306.7,499.60 307.8,499.60 308.9,499.60 310.0,499.60 311.1,499.60 312.2,499.60 313.4,499.60 314.5,499.60 315.6,499.60 316.7,499.60 317.8,499.60 318.9,499.60 320.0,499.60 321.2,499.60 322.3,499.60 323.4,499.60 324.5,499.60 325.6,499.60 326.7,499.60 327.8,499.60 328.9,499.60 330.1,499.60 331.2,499.60 332.3,499.60 333.4,499.60" fill="none" stroke="#4a8fd4" stroke-width="1.0"/>
<polygon points="233.2,507.0 233.2,507.00 234.3,507.00 235.4,507.00 236.5,507.00 237.7,507.00 238.8,507.00 239.9,507.00 241.0,507.00 242.1,507.00 243.2,507.00 244.3,507.00 245.4,507.00 246.6,507.00 247.7,507.00 248.8,507.00 249.9,507.00 251.0,507.00 252.1,507.00 253.2,507.00 254.4,507.00 255.5,507.00 256.6,507.00 257.7,507.00 258.8,507.00 259.9,507.00 261.0,507.00 262.1,507.00 263.3,507.00 264.4,507.00 265.5,507.00 266.6,507.00 267.7,507.00 268.8,507.00 269.9,507.00 271.1,507.00 272.2,507.00 273.3,506.98 274.4,506.92 275.5,506.67 276.6,505.93 277.7,504.23 278.8,501.21 280.0,497.26 281.1,493.77 282.2,492.51 283.3,493.96 284.4,497.24 285.5,500.92 286.6,503.84 287.8,505.64 288.9,506.51 290.0,506.85 291.1,506.96 292.2,506.99 293.3,507.00 294.4,507.00 295.5,507.00 296.7,507.00 297.8,507.00 298.9,507.00 300.0,507.00 301.1,507.00 302.2,507.00 303.3,507.00 304.5,507.00 305.6,507.00 306.7,507.00 307.8,507.00 308.9,507.00 310.0,507.00 311.1,507.00 312.2,507.00 313.4,507.00 314.5,507.00 315.6,507.00 316.7,507.00 317.8,507.00 318.9,507.00 320.0,507.00 321.2,507.00 322.3,507.00 323.4,507.00 324.5,507.00 325.6,507.00 326.7,507.00 327.8,507.00 328.9,507.00 330.1,507.00 331.2,507.00 332.3,507.00 333.4,507.00 333.4,507.0" fill="#c5d9ee" fill-opacity="0.75"/>
<polyline points="233.2,507.00 234.3,507.00 235.4,507.00 236.5,507.00 237.7,507.00 238.8,507.00 239.9,507.00 241.0,507.00 242.1,507.00 243.2,507.00 244.3,507.00 245.4,507.00 246.6,507.00 247.7,507.00 248.8,507.00 249.9,507.00 251.0,507.00 252.1,507.00 253.2,507.00 254.4,507.00 255.5,507.00 256.6,507.00 257.7,507.00 258.8,507.00 259.9,507.00 261.0,507.00 262.1,507.00 263.3,507.00 264.4,507.00 265.5,507.00 266.6,507.00 267.7,507.00 268.8,507.00 269.9,507.00 271.1,507.00 272.2,507.00 273.3,506.98 274.4,506.92 275.5,506.67 276.6,505.93 277.7,504.23 278.8,501.21 280.0,497.26 281.1,493.77 282.2,492.51 283.3,493.96 284.4,497.24 285.5,500.92 286.6,503.84 287.8,505.64 288.9,506.51 290.0,506.85 291.1,506.96 292.2,506.99 293.3,507.00 294.4,507.00 295.5,507.00 296.7,507.00 297.8,507.00 298.9,507.00 300.0,507.00 301.1,507.00 302.2,507.00 303.3,507.00 304.5,507.00 305.6,507.00 306.7,507.00 307.8,507.00 308.9,507.00 310.0,507.00 311.1,507.00 312.2,507.00 313.4,507.00 314.5,507.00 315.6,507.00 316.7,507.00 317.8,507.00 318.9,507.00 320.0,507.00 321.2,507.00 322.3,507.00 323.4,507.00 324.5,507.00 325.6,507.00 326.7,507.00 327.8,507.00 328.9,507.00 330.1,507.00 331.2,507.00 332.3,507.00 333.4,507.00" fill="none" stroke="#2f6fb8" stroke-width="1.0"/>
<polygon points="233.2,514.4 233.2,514.40 234.3,514.40 235.4,514.40 236.5,514.40 237.7,514.40 238.8,514.40 239.9,514.40 241.0,514.40 242.1,514.40 243.2,514.40 244.3,514.40 245.4,514.40 246.6,514.40 247.7,514.40 248.8,514.40 249.9,514.40 251.0,514.40 252.1,514.40 253.2,514.39 254.4,514.36 255.5,514.26 256.6,513.92 257.7,513.08 258.8,511.37 259.9,508.60 261.0,505.17 262.1,502.16 263.3,500.90 264.4,501.86 265.5,504.45 266.6,507.66 267.7,510.50 268.8,512.48 269.9,513.59 271.1,514.11 272.2,514.31 273.3,514.38 274.4,514.39 275.5,514.40 276.6,514.40 277.7,514.40 278.8,514.40 280.0,514.40 281.1,514.40 282.2,514.40 283.3,514.40 284.4,514.40 285.5,514.40 286.6,514.40 287.8,514.40 288.9,514.40 290.0,514.40 291.1,514.40 292.2,514.40 293.3,514.40 294.4,514.40 295.5,514.40 296.7,514.40 297.8,514.40 298.9,514.40 300.0,514.40 301.1,514.40 302.2,514.40 303.3,514.40 304.5,514.40 305.6,514.40 306.7,514.40 307.8,514.40 308.9,514.40 310.0,514.40 311.1,514.40 312.2,514.40 313.4,514.40 314.5,514.40 315.6,514.40 316.7,514.40 317.8,514.40 318.9,514.40 320.0,514.40 321.2,514.40 322.3,514.40 323.4,514.40 324.5,514.40 325.6,514.40 326.7,514.40 327.8,514.40 328.9,514.40 330.1,514.40 331.2,514.40 332.3,514.40 333.4,514.40 333.4,514.4" fill="#fbdcc0" fill-opacity="0.75"/>
<polyline points="233.2,514.40 234.3,514.40 235.4,514.40 236.5,514.40 237.7,514.40 238.8,514.40 239.9,514.40 241.0,514.40 242.1,514.40 243.2,514.40 244.3,514.40 245.4,514.40 246.6,514.40 247.7,514.40 248.8,514.40 249.9,514.40 251.0,514.40 252.1,514.40 253.2,514.39 254.4,514.36 255.5,514.26 256.6,513.92 257.7,513.08 258.8,511.37 259.9,508.60 261.0,505.17 262.1,502.16 263.3,500.90 264.4,501.86 265.5,504.45 266.6,507.66 267.7,510.50 268.8,512.48 269.9,513.59 271.1,514.11 272.2,514.31 273.3,514.38 274.4,514.39 275.5,514.40 276.6,514.40 277.7,514.40 278.8,514.40 280.0,514.40 281.1,514.40 282.2,514.40 283.3,514.40 284.4,514.40 285.5,514.40 286.6,514.40 287.8,514.40 288.9,514.40 290.0,514.40 291.1,514.40 292.2,514.40 293.3,514.40 294.4,514.40 295.5,514.40 296.7,514.40 297.8,514.40 298.9,514.40 300.0,514.40 301.1,514.40 302.2,514.40 303.3,514.40 304.5,514.40 305.6,514.40 306.7,514.40 307.8,514.40 308.9,514.40 310.0,514.40 311.1,514.40 312.2,514.40 313.4,514.40 314.5,514.40 315.6,514.40 316.7,514.40 317.8,514.40 318.9,514.40 320.0,514.40 321.2,514.40 322.3,514.40 323.4,514.40 324.5,514.40 325.6,514.40 326.7,514.40 327.8,514.40 328.9,514.40 330.1,514.40 331.2,514.40 332.3,514.40 333.4,514.40" fill="none" stroke="#f39a3c" stroke-width="1.0"/>
<polygon points="233.2,521.8 233.2,521.80 234.3,521.80 235.4,521.80 236.5,521.80 237.7,521.80 238.8,521.80 239.9,521.80 241.0,521.80 242.1,521.80 243.2,521.80 244.3,521.80 245.4,521.80 246.6,521.80 247.7,521.80 248.8,521.80 249.9,521.80 251.0,521.80 252.1,521.80 253.2,521.80 254.4,521.80 255.5,521.80 256.6,521.79 257.7,521.78 258.8,521.72 259.9,521.57 261.0,521.19 262.1,520.38 263.3,518.92 264.4,516.72 265.5,514.00 266.6,511.36 267.7,509.62 268.8,509.40 269.9,510.52 271.1,512.58 272.2,515.03 273.3,517.34 274.4,519.16 275.5,520.39 276.6,521.13 277.7,521.51 278.8,521.69 280.0,521.76 281.1,521.79 282.2,521.80 283.3,521.80 284.4,521.80 285.5,521.80 286.6,521.80 287.8,521.80 288.9,521.80 290.0,521.80 291.1,521.80 292.2,521.80 293.3,521.80 294.4,521.80 295.5,521.80 296.7,521.80 297.8,521.80 298.9,521.80 300.0,521.80 301.1,521.80 302.2,521.80 303.3,521.80 304.5,521.80 305.6,521.80 306.7,521.80 307.8,521.80 308.9,521.80 310.0,521.80 311.1,521.80 312.2,521.80 313.4,521.80 314.5,521.80 315.6,521.80 316.7,521.80 317.8,521.80 318.9,521.80 320.0,521.80 321.2,521.80 322.3,521.80 323.4,521.80 324.5,521.80 325.6,521.80 326.7,521.80 327.8,521.80 328.9,521.80 330.1,521.80 331.2,521.80 332.3,521.80 333.4,521.80 333.4,521.8" fill="#fbdcc0" fill-opacity="0.75"/>
<polyline points="233.2,521.80 234.3,521.80 235.4,521.80 236.5,521.80 237.7,521.80 238.8,521.80 239.9,521.80 241.0,521.80 242.1,521.80 243.2,521.80 244.3,521.80 245.4,521.80 246.6,521.80 247.7,521.80 248.8,521.80 249.9,521.80 251.0,521.80 252.1,521.80 253.2,521.80 254.4,521.80 255.5,521.80 256.6,521.79 257.7,521.78 258.8,521.72 259.9,521.57 261.0,521.19 262.1,520.38 263.3,518.92 264.4,516.72 265.5,514.00 266.6,511.36 267.7,509.62 268.8,509.40 269.9,510.52 271.1,512.58 272.2,515.03 273.3,517.34 274.4,519.16 275.5,520.39 276.6,521.13 277.7,521.51 278.8,521.69 280.0,521.76 281.1,521.79 282.2,521.80 283.3,521.80 284.4,521.80 285.5,521.80 286.6,521.80 287.8,521.80 288.9,521.80 290.0,521.80 291.1,521.80 292.2,521.80 293.3,521.80 294.4,521.80 295.5,521.80 296.7,521.80 297.8,521.80 298.9,521.80 300.0,521.80 301.1,521.80 302.2,521.80 303.3,521.80 304.5,521.80 305.6,521.80 306.7,521.80 307.8,521.80 308.9,521.80 310.0,521.80 311.1,521.80 312.2,521.80 313.4,521.80 314.5,521.80 315.6,521.80 316.7,521.80 317.8,521.80 318.9,521.80 320.0,521.80 321.2,521.80 322.3,521.80 323.4,521.80 324.5,521.80 325.6,521.80 326.7,521.80 327.8,521.80 328.9,521.80 330.1,521.80 331.2,521.80 332.3,521.80 333.4,521.80" fill="none" stroke="#f3a04a" stroke-width="1.0"/>
<polygon points="233.2,529.2 233.2,529.20 234.3,529.20 235.4,529.20 236.5,529.20 237.7,529.20 238.8,529.20 239.9,529.20 241.0,529.20 242.1,529.20 243.2,529.20 244.3,529.20 245.4,529.20 246.6,529.20 247.7,529.20 248.8,529.20 249.9,529.20 251.0,529.20 252.1,529.20 253.2,529.19 254.4,529.15 255.5,529.03 256.6,528.73 257.7,528.07 258.8,526.81 259.9,524.79 261.0,522.12 262.1,519.31 263.3,517.15 264.4,516.40 265.5,517.36 266.6,519.66 267.7,522.50 268.8,525.10 269.9,527.01 271.1,528.18 272.2,528.79 273.3,529.05 274.4,529.16 275.5,529.19 276.6,529.20 277.7,529.20 278.8,529.20 280.0,529.20 281.1,529.20 282.2,529.20 283.3,529.20 284.4,529.20 285.5,529.20 286.6,529.20 287.8,529.20 288.9,529.20 290.0,529.20 291.1,529.20 292.2,529.20 293.3,529.20 294.4,529.20 295.5,529.20 296.7,529.20 297.8,529.20 298.9,529.20 300.0,529.20 301.1,529.20 302.2,529.20 303.3,529.20 304.5,529.20 305.6,529.20 306.7,529.20 307.8,529.20 308.9,529.20 310.0,529.20 311.1,529.20 312.2,529.20 313.4,529.20 314.5,529.20 315.6,529.20 316.7,529.20 317.8,529.20 318.9,529.20 320.0,529.20 321.2,529.20 322.3,529.20 323.4,529.20 324.5,529.20 325.6,529.20 326.7,529.20 327.8,529.20 328.9,529.20 330.1,529.20 331.2,529.20 332.3,529.20 333.4,529.20 333.4,529.2" fill="#e2c4e0" fill-opacity="0.75"/>
<polyline points="233.2,529.20 234.3,529.20 235.4,529.20 236.5,529.20 237.7,529.20 238.8,529.20 239.9,529.20 241.0,529.20 242.1,529.20 243.2,529.20 244.3,529.20 245.4,529.20 246.6,529.20 247.7,529.20 248.8,529.20 249.9,529.20 251.0,529.20 252.1,529.20 253.2,529.19 254.4,529.15 255.5,529.03 256.6,528.73 257.7,528.07 258.8,526.81 259.9,524.79 261.0,522.12 262.1,519.31 263.3,517.15 264.4,516.40 265.5,517.36 266.6,519.66 267.7,522.50 268.8,525.10 269.9,527.01 271.1,528.18 272.2,528.79 273.3,529.05 274.4,529.16 275.5,529.19 276.6,529.20 277.7,529.20 278.8,529.20 280.0,529.20 281.1,529.20 282.2,529.20 283.3,529.20 284.4,529.20 285.5,529.20 286.6,529.20 287.8,529.20 288.9,529.20 290.0,529.20 291.1,529.20 292.2,529.20 293.3,529.20 294.4,529.20 295.5,529.20 296.7,529.20 297.8,529.20 298.9,529.20 300.0,529.20 301.1,529.20 302.2,529.20 303.3,529.20 304.5,529.20 305.6,529.20 306.7,529.20 307.8,529.20 308.9,529.20 310.0,529.20 311.1,529.20 312.2,529.20 313.4,529.20 314.5,529.20 315.6,529.20 316.7,529.20 317.8,529.20 318.9,529.20 320.0,529.20 321.2,529.20 322.3,529.20 323.4,529.20 324.5,529.20 325.6,529.20 326.7,529.20 327.8,529.20 328.9,529.20 330.1,529.20 331.2,529.20 332.3,529.20 333.4,529.20" fill="none" stroke="#b35aae" stroke-width="1.0"/>
<polygon points="233.2,536.6 233.2,536.60 234.3,536.60 235.4,536.60 236.5,536.60 237.7,536.60 238.8,536.60 239.9,536.60 241.0,536.60 242.1,536.60 243.2,536.60 244.3,536.60 245.4,536.60 246.6,536.60 247.7,536.60 248.8,536.60 249.9,536.60 251.0,536.60 252.1,536.60 253.2,536.60 254.4,536.60 255.5,536.60 256.6,536.60 257.7,536.60 258.8,536.58 259.9,536.53 261.0,536.37 262.1,535.94 263.3,534.99 264.4,533.23 265.5,530.59 266.6,527.46 267.7,524.72 268.8,523.43 269.9,523.96 271.1,525.86 272.2,528.51 273.3,531.20 274.4,533.41 275.5,534.93 276.6,535.83 277.7,536.28 278.8,536.48 280.0,536.56 281.1,536.59 282.2,536.60 283.3,536.60 284.4,536.60 285.5,536.60 286.6,536.60 287.8,536.60 288.9,536.60 290.0,536.60 291.1,536.60 292.2,536.60 293.3,536.60 294.4,536.60 295.5,536.60 296.7,536.60 297.8,536.60 298.9,536.60 300.0,536.60 301.1,536.60 302.2,536.60 303.3,536.60 304.5,536.60 305.6,536.60 306.7,536.60 307.8,536.60 308.9,536.60 310.0,536.60 311.1,536.60 312.2,536.60 313.4,536.60 314.5,536.60 315.6,536.60 316.7,536.60 317.8,536.60 318.9,536.60 320.0,536.60 321.2,536.60 322.3,536.60 323.4,536.60 324.5,536.60 325.6,536.60 326.7,536.60 327.8,536.60 328.9,536.60 330.1,536.60 331.2,536.60 332.3,536.60 333.4,536.60 333.4,536.6" fill="#e2c4e0" fill-opacity="0.75"/>
<polyline points="233.2,536.60 234.3,536.60 235.4,536.60 236.5,536.60 237.7,536.60 238.8,536.60 239.9,536.60 241.0,536.60 242.1,536.60 243.2,536.60 244.3,536.60 245.4,536.60 246.6,536.60 247.7,536.60 248.8,536.60 249.9,536.60 251.0,536.60 252.1,536.60 253.2,536.60 254.4,536.60 255.5,536.60 256.6,536.60 257.7,536.60 258.8,536.58 259.9,536.53 261.0,536.37 262.1,535.94 263.3,534.99 264.4,533.23 265.5,530.59 266.6,527.46 267.7,524.72 268.8,523.43 269.9,523.96 271.1,525.86 272.2,528.51 273.3,531.20 274.4,533.41 275.5,534.93 276.6,535.83 277.7,536.28 278.8,536.48 280.0,536.56 281.1,536.59 282.2,536.60 283.3,536.60 284.4,536.60 285.5,536.60 286.6,536.60 287.8,536.60 288.9,536.60 290.0,536.60 291.1,536.60 292.2,536.60 293.3,536.60 294.4,536.60 295.5,536.60 296.7,536.60 297.8,536.60 298.9,536.60 300.0,536.60 301.1,536.60 302.2,536.60 303.3,536.60 304.5,536.60 305.6,536.60 306.7,536.60 307.8,536.60 308.9,536.60 310.0,536.60 311.1,536.60 312.2,536.60 313.4,536.60 314.5,536.60 315.6,536.60 316.7,536.60 317.8,536.60 318.9,536.60 320.0,536.60 321.2,536.60 322.3,536.60 323.4,536.60 324.5,536.60 325.6,536.60 326.7,536.60 327.8,536.60 328.9,536.60 330.1,536.60 331.2,536.60 332.3,536.60 333.4,536.60" fill="none" stroke="#a0459e" stroke-width="1.0"/>
<polygon points="233.2,544.0 233.2,544.00 234.3,544.00 235.4,544.00 236.5,544.00 237.7,544.00 238.8,544.00 239.9,544.00 241.0,544.00 242.1,544.00 243.2,544.00 244.3,544.00 245.4,544.00 246.6,544.00 247.7,544.00 248.8,544.00 249.9,544.00 251.0,544.00 252.1,544.00 253.2,543.99 254.4,543.97 255.5,543.89 256.6,543.67 257.7,543.17 258.8,542.16 259.9,540.43 261.0,537.98 262.1,535.16 263.3,532.68 264.4,531.38 265.5,531.73 266.6,533.61 267.7,536.33 268.8,539.07 269.9,541.24 271.1,542.65 272.2,543.43 273.3,543.79 274.4,543.93 275.5,543.98 276.6,544.00 277.7,544.00 278.8,544.00 280.0,544.00 281.1,544.00 282.2,544.00 283.3,544.00 284.4,544.00 285.5,544.00 286.6,544.00 287.8,544.00 288.9,544.00 290.0,544.00 291.1,544.00 292.2,544.00 293.3,544.00 294.4,544.00 295.5,544.00 296.7,544.00 297.8,544.00 298.9,544.00 300.0,544.00 301.1,544.00 302.2,544.00 303.3,544.00 304.5,544.00 305.6,544.00 306.7,544.00 307.8,544.00 308.9,544.00 310.0,544.00 311.1,544.00 312.2,544.00 313.4,544.00 314.5,544.00 315.6,544.00 316.7,544.00 317.8,544.00 318.9,544.00 320.0,544.00 321.2,544.00 322.3,544.00 323.4,544.00 324.5,544.00 325.6,544.00 326.7,544.00 327.8,544.00 328.9,544.00 330.1,544.00 331.2,544.00 332.3,544.00 333.4,544.00 333.4,544.0" fill="#c6ecef" fill-opacity="0.75"/>
<polyline points="233.2,544.00 234.3,544.00 235.4,544.00 236.5,544.00 237.7,544.00 238.8,544.00 239.9,544.00 241.0,544.00 242.1,544.00 243.2,544.00 244.3,544.00 245.4,544.00 246.6,544.00 247.7,544.00 248.8,544.00 249.9,544.00 251.0,544.00 252.1,544.00 253.2,543.99 254.4,543.97 255.5,543.89 256.6,543.67 257.7,543.17 258.8,542.16 259.9,540.43 261.0,537.98 262.1,535.16 263.3,532.68 264.4,531.38 265.5,531.73 266.6,533.61 267.7,536.33 268.8,539.07 269.9,541.24 271.1,542.65 272.2,543.43 273.3,543.79 274.4,543.93 275.5,543.98 276.6,544.00 277.7,544.00 278.8,544.00 280.0,544.00 281.1,544.00 282.2,544.00 283.3,544.00 284.4,544.00 285.5,544.00 286.6,544.00 287.8,544.00 288.9,544.00 290.0,544.00 291.1,544.00 292.2,544.00 293.3,544.00 294.4,544.00 295.5,544.00 296.7,544.00 297.8,544.00 298.9,544.00 300.0,544.00 301.1,544.00 302.2,544.00 303.3,544.00 304.5,544.00 305.6,544.00 306.7,544.00 307.8,544.00 308.9,544.00 310.0,544.00 311.1,544.00 312.2,544.00 313.4,544.00 314.5,544.00 315.6,544.00 316.7,544.00 317.8,544.00 318.9,544.00 320.0,544.00 321.2,544.00 322.3,544.00 323.4,544.00 324.5,544.00 325.6,544.00 326.7,544.00 327.8,544.00 328.9,544.00 330.1,544.00 331.2,544.00 332.3,544.00 333.4,544.00" fill="none" stroke="#4ec2cc" stroke-width="1.0"/>
<polygon points="233.2,551.4 233.2,551.40 234.3,551.40 235.4,551.40 236.5,551.40 237.7,551.40 238.8,551.40 239.9,551.40 241.0,551.40 242.1,551.40 243.2,551.40 244.3,551.40 245.4,551.40 246.6,551.40 247.7,551.40 248.8,551.40 249.9,551.40 251.0,551.40 252.1,551.40 253.2,551.40 254.4,551.40 255.5,551.40 256.6,551.40 257.7,551.40 258.8,551.40 259.9,551.38 261.0,551.33 262.1,551.19 263.3,550.83 264.4,550.04 265.5,548.59 266.6,546.33 267.7,543.45 268.8,540.53 269.9,538.44 271.1,537.94 272.2,538.95 273.3,541.05 274.4,543.68 275.5,546.22 276.6,548.28 277.7,549.71 278.8,550.58 280.0,551.04 281.1,551.26 282.2,551.35 283.3,551.38 284.4,551.40 285.5,551.40 286.6,551.40 287.8,551.40 288.9,551.40 290.0,551.40 291.1,551.40 292.2,551.40 293.3,551.40 294.4,551.40 295.5,551.40 296.7,551.40 297.8,551.40 298.9,551.40 300.0,551.40 301.1,551.40 302.2,551.40 303.3,551.40 304.5,551.40 305.6,551.40 306.7,551.40 307.8,551.40 308.9,551.40 310.0,551.40 311.1,551.40 312.2,551.40 313.4,551.40 314.5,551.40 315.6,551.40 316.7,551.40 317.8,551.40 318.9,551.40 320.0,551.40 321.2,551.40 322.3,551.40 323.4,551.40 324.5,551.40 325.6,551.40 326.7,551.40 327.8,551.40 328.9,551.40 330.1,551.40 331.2,551.40 332.3,551.40 333.4,551.40 333.4,551.4" fill="#c6ecef" fill-opacity="0.75"/>
<polyline points="233.2,551.40 234.3,551.40 235.4,551.40 236.5,551.40 237.7,551.40 238.8,551.40 239.9,551.40 241.0,551.40 242.1,551.40 243.2,551.40 244.3,551.40 245.4,551.40 246.6,551.40 247.7,551.40 248.8,551.40 249.9,551.40 251.0,551.40 252.1,551.40 253.2,551.40 254.4,551.40 255.5,551.40 256.6,551.40 257.7,551.40 258.8,551.40 259.9,551.38 261.0,551.33 262.1,551.19 263.3,550.83 264.4,550.04 265.5,548.59 266.6,546.33 267.7,543.45 268.8,540.53 269.9,538.44 271.1,537.94 272.2,538.95 273.3,541.05 274.4,543.68 275.5,546.22 276.6,548.28 277.7,549.71 278.8,550.58 280.0,551.04 281.1,551.26 282.2,551.35 283.3,551.38 284.4,551.40 285.5,551.40 286.6,551.40 287.8,551.40 288.9,551.40 290.0,551.40 291.1,551.40 292.2,551.40 293.3,551.40 294.4,551.40 295.5,551.40 296.7,551.40 297.8,551.40 298.9,551.40 300.0,551.40 301.1,551.40 302.2,551.40 303.3,551.40 304.5,551.40 305.6,551.40 306.7,551.40 307.8,551.40 308.9,551.40 310.0,551.40 311.1,551.40 312.2,551.40 313.4,551.40 314.5,551.40 315.6,551.40 316.7,551.40 317.8,551.40 318.9,551.40 320.0,551.40 321.2,551.40 322.3,551.40 323.4,551.40 324.5,551.40 325.6,551.40 326.7,551.40 327.8,551.40 328.9,551.40 330.1,551.40 331.2,551.40 332.3,551.40 333.4,551.40" fill="none" stroke="#3bb3c0" stroke-width="1.0"/>
<polygon points="233.2,558.8 233.2,558.80 234.3,558.80 235.4,558.80 236.5,558.80 237.7,558.80 238.8,558.80 239.9,558.80 241.0,558.80 242.1,558.80 243.2,558.80 244.3,558.80 245.4,558.80 246.6,558.80 247.7,558.80 248.8,558.80 249.9,558.80 251.0,558.80 252.1,558.80 253.2,558.79 254.4,558.75 255.5,558.63 256.6,558.32 257.7,557.63 258.8,556.33 259.9,554.25 261.0,551.50 262.1,548.60 263.3,546.37 264.4,545.60 265.5,546.59 266.6,548.96 267.7,551.89 268.8,554.57 269.9,556.55 271.1,557.75 272.2,558.38 273.3,558.65 274.4,558.75 275.5,558.79 276.6,558.80 277.7,558.80 278.8,558.80 280.0,558.80 281.1,558.80 282.2,558.80 283.3,558.80 284.4,558.80 285.5,558.80 286.6,558.80 287.8,558.80 288.9,558.80 290.0,558.80 291.1,558.80 292.2,558.80 293.3,558.80 294.4,558.80 295.5,558.80 296.7,558.80 297.8,558.80 298.9,558.80 300.0,558.80 301.1,558.80 302.2,558.80 303.3,558.80 304.5,558.80 305.6,558.80 306.7,558.80 307.8,558.80 308.9,558.80 310.0,558.80 311.1,558.80 312.2,558.80 313.4,558.80 314.5,558.80 315.6,558.80 316.7,558.80 317.8,558.80 318.9,558.80 320.0,558.80 321.2,558.80 322.3,558.80 323.4,558.80 324.5,558.80 325.6,558.80 326.7,558.80 327.8,558.80 328.9,558.80 330.1,558.80 331.2,558.80 332.3,558.80 333.4,558.80 333.4,558.8" fill="#d0d0ec" fill-opacity="0.75"/>
<polyline points="233.2,558.80 234.3,558.80 235.4,558.80 236.5,558.80 237.7,558.80 238.8,558.80 239.9,558.80 241.0,558.80 242.1,558.80 243.2,558.80 244.3,558.80 245.4,558.80 246.6,558.80 247.7,558.80 248.8,558.80 249.9,558.80 251.0,558.80 252.1,558.80 253.2,558.79 254.4,558.75 255.5,558.63 256.6,558.32 257.7,557.63 258.8,556.33 259.9,554.25 261.0,551.50 262.1,548.60 263.3,546.37 264.4,545.60 265.5,546.59 266.6,548.96 267.7,551.89 268.8,554.57 269.9,556.55 271.1,557.75 272.2,558.38 273.3,558.65 274.4,558.75 275.5,558.79 276.6,558.80 277.7,558.80 278.8,558.80 280.0,558.80 281.1,558.80 282.2,558.80 283.3,558.80 284.4,558.80 285.5,558.80 286.6,558.80 287.8,558.80 288.9,558.80 290.0,558.80 291.1,558.80 292.2,558.80 293.3,558.80 294.4,558.80 295.5,558.80 296.7,558.80 297.8,558.80 298.9,558.80 300.0,558.80 301.1,558.80 302.2,558.80 303.3,558.80 304.5,558.80 305.6,558.80 306.7,558.80 307.8,558.80 308.9,558.80 310.0,558.80 311.1,558.80 312.2,558.80 313.4,558.80 314.5,558.80 315.6,558.80 316.7,558.80 317.8,558.80 318.9,558.80 320.0,558.80 321.2,558.80 322.3,558.80 323.4,558.80 324.5,558.80 325.6,558.80 326.7,558.80 327.8,558.80 328.9,558.80 330.1,558.80 331.2,558.80 332.3,558.80 333.4,558.80" fill="none" stroke="#6f6fbf" stroke-width="1.0"/>
<polygon points="233.2,566.2 233.2,566.20 234.3,566.20 235.4,566.20 236.5,566.20 237.7,566.20 238.8,566.20 239.9,566.20 241.0,566.20 242.1,566.20 243.2,566.20 244.3,566.20 245.4,566.20 246.6,566.20 247.7,566.20 248.8,566.20 249.9,566.20 251.0,566.20 252.1,566.20 253.2,566.20 254.4,566.20 255.5,566.20 256.6,566.20 257.7,566.20 258.8,566.20 259.9,566.20 261.0,566.20 262.1,566.19 263.3,566.15 264.4,566.05 265.5,565.79 266.6,565.23 267.7,564.17 268.8,562.41 269.9,559.94 271.1,557.04 272.2,554.32 273.3,552.55 274.4,552.28 275.5,553.37 276.6,555.46 277.7,558.02 278.8,560.54 280.0,562.64 281.1,564.17 282.2,565.15 283.3,565.70 284.4,565.99 285.5,566.12 286.6,566.17 287.8,566.19 288.9,566.20 290.0,566.20 291.1,566.20 292.2,566.20 293.3,566.20 294.4,566.20 295.5,566.20 296.7,566.20 297.8,566.20 298.9,566.20 300.0,566.20 301.1,566.20 302.2,566.20 303.3,566.20 304.5,566.20 305.6,566.20 306.7,566.20 307.8,566.20 308.9,566.20 310.0,566.20 311.1,566.20 312.2,566.20 313.4,566.20 314.5,566.20 315.6,566.20 316.7,566.20 317.8,566.20 318.9,566.20 320.0,566.20 321.2,566.20 322.3,566.20 323.4,566.20 324.5,566.20 325.6,566.20 326.7,566.20 327.8,566.20 328.9,566.20 330.1,566.20 331.2,566.20 332.3,566.20 333.4,566.20 333.4,566.2" fill="#d0d0ec" fill-opacity="0.75"/>
<polyline points="233.2,566.20 234.3,566.20 235.4,566.20 236.5,566.20 237.7,566.20 238.8,566.20 239.9,566.20 241.0,566.20 242.1,566.20 243.2,566.20 244.3,566.20 245.4,566.20 246.6,566.20 247.7,566.20 248.8,566.20 249.9,566.20 251.0,566.20 252.1,566.20 253.2,566.20 254.4,566.20 255.5,566.20 256.6,566.20 257.7,566.20 258.8,566.20 259.9,566.20 261.0,566.20 262.1,566.19 263.3,566.15 264.4,566.05 265.5,565.79 266.6,565.23 267.7,564.17 268.8,562.41 269.9,559.94 271.1,557.04 272.2,554.32 273.3,552.55 274.4,552.28 275.5,553.37 276.6,555.46 277.7,558.02 278.8,560.54 280.0,562.64 281.1,564.17 282.2,565.15 283.3,565.70 284.4,565.99 285.5,566.12 286.6,566.17 287.8,566.19 288.9,566.20 290.0,566.20 291.1,566.20 292.2,566.20 293.3,566.20 294.4,566.20 295.5,566.20 296.7,566.20 297.8,566.20 298.9,566.20 300.0,566.20 301.1,566.20 302.2,566.20 303.3,566.20 304.5,566.20 305.6,566.20 306.7,566.20 307.8,566.20 308.9,566.20 310.0,566.20 311.1,566.20 312.2,566.20 313.4,566.20 314.5,566.20 315.6,566.20 316.7,566.20 317.8,566.20 318.9,566.20 320.0,566.20 321.2,566.20 322.3,566.20 323.4,566.20 324.5,566.20 325.6,566.20 326.7,566.20 327.8,566.20 328.9,566.20 330.1,566.20 331.2,566.20 332.3,566.20 333.4,566.20" fill="none" stroke="#5a5aae" stroke-width="1.0"/>
<polygon points="233.2,573.5 233.2,573.49 234.3,573.48 235.4,573.48 236.5,573.48 237.7,573.47 238.8,573.47 239.9,573.47 241.0,573.46 242.1,573.46 243.2,573.45 244.3,573.44 245.4,573.43 246.6,573.43 247.7,573.42 248.8,573.41 249.9,573.39 251.0,573.38 252.1,573.37 253.2,573.35 254.4,573.33 255.5,573.31 256.6,573.29 257.7,573.27 258.8,573.25 259.9,573.22 261.0,573.20 262.1,573.17 263.3,573.14 264.4,573.10 265.5,573.07 266.6,573.03 267.7,572.99 268.8,572.95 269.9,572.91 271.1,572.87 272.2,572.83 273.3,572.78 274.4,572.73 275.5,572.69 276.6,572.64 277.7,572.59 278.8,572.54 280.0,572.49 281.1,572.44 282.2,572.39 283.3,572.35 284.4,572.30 285.5,572.25 286.6,572.21 287.8,572.17 288.9,572.12 290.0,572.06 291.1,571.94 292.2,571.71 293.3,571.22 294.4,570.26 295.5,568.62 296.7,566.20 297.8,563.18 298.9,560.10 300.0,557.76 301.1,556.90 302.2,557.70 303.3,559.83 304.5,562.70 305.6,565.60 306.7,568.05 307.8,569.81 308.9,570.92 310.0,571.55 311.1,571.87 312.2,572.02 313.4,572.11 314.5,572.16 315.6,572.21 316.7,572.26 317.8,572.30 318.9,572.35 320.0,572.40 321.2,572.44 322.3,572.49 323.4,572.54 324.5,572.59 325.6,572.64 326.7,572.69 327.8,572.74 328.9,572.78 330.1,572.83 331.2,572.87 332.3,572.91 333.4,572.96 333.4,573.5" fill="#f2b5b8" fill-opacity="0.75"/>
<polyline points="233.2,573.49 234.3,573.48 235.4,573.48 236.5,573.48 237.7,573.47 238.8,573.47 239.9,573.47 241.0,573.46 242.1,573.46 243.2,573.45 244.3,573.44 245.4,573.43 246.6,573.43 247.7,573.42 248.8,573.41 249.9,573.39 251.0,573.38 252.1,573.37 253.2,573.35 254.4,573.33 255.5,573.31 256.6,573.29 257.7,573.27 258.8,573.25 259.9,573.22 261.0,573.20 262.1,573.17 263.3,573.14 264.4,573.10 265.5,573.07 266.6,573.03 267.7,572.99 268.8,572.95 269.9,572.91 271.1,572.87 272.2,572.83 273.3,572.78 274.4,572.73 275.5,572.69 276.6,572.64 277.7,572.59 278.8,572.54 280.0,572.49 281.1,572.44 282.2,572.39 283.3,572.35 284.4,572.30 285.5,572.25 286.6,572.21 287.8,572.17 288.9,572.12 290.0,572.06 291.1,571.94 292.2,571.71 293.3,571.22 294.4,570.26 295.5,568.62 296.7,566.20 297.8,563.18 298.9,560.10 300.0,557.76 301.1,556.90 302.2,557.70 303.3,559.83 304.5,562.70 305.6,565.60 306.7,568.05 307.8,569.81 308.9,570.92 310.0,571.55 311.1,571.87 312.2,572.02 313.4,572.11 314.5,572.16 315.6,572.21 316.7,572.26 317.8,572.30 318.9,572.35 320.0,572.40 321.2,572.44 322.3,572.49 323.4,572.54 324.5,572.59 325.6,572.64 326.7,572.69 327.8,572.74 328.9,572.78 330.1,572.83 331.2,572.87 332.3,572.91 333.4,572.96" fill="none" stroke="#e0343c" stroke-width="1.0"/>
</g>
<rect x="233.2" y="474.4" width="100.2" height="99.6" fill="none" stroke="#111" stroke-width="1.15"/>
<path d="M235.8 574.5V575.8 M237.7 574.5V575.8 M239.3 574.5V575.8 M240.6 574.5V575.8 M241.8 574.5V575.8 M242.8 574.5V575.8 M249.7 574.5V575.8 M253.2 574.5V575.8 M255.7 574.5V575.8 M257.7 574.5V575.8 M259.2 574.5V575.8 M260.6 574.5V575.8 M261.7 574.5V575.8 M262.8 574.5V575.8 M269.7 574.5V575.8 M273.2 574.5V575.8 M275.7 574.5V575.8 M277.6 574.5V575.8 M279.2 574.5V575.8 M280.6 574.5V575.8 M281.7 574.5V575.8 M282.7 574.5V575.8 M289.7 574.5V575.8 M293.2 574.5V575.8 M295.7 574.5V575.8 M297.6 574.5V575.8 M299.2 574.5V575.8 M300.5 574.5V575.8 M301.7 574.5V575.8 M302.7 574.5V575.8 M309.6 574.5V575.8 M313.2 574.5V575.8 M315.7 574.5V575.8 M317.6 574.5V575.8 M319.2 574.5V575.8 M320.5 574.5V575.8 M321.7 574.5V575.8 M322.7 574.5V575.8 M329.6 574.5V575.8" stroke="#222" stroke-width="0.6" fill="none"/>
<line x1="243.70" y1="574" x2="243.70" y2="576.5" stroke="#111" stroke-width="0.7"/>
<text x="242.50" y="584.00" font-size="7.0" text-anchor="middle" font-weight="normal" fill="#333" stroke="#333" stroke-width="0.1" >10</text>
<text x="246.50" y="580.20" font-size="4.8" text-anchor="start" font-weight="normal" fill="#333" stroke="#333" stroke-width="0.1" >1</text>
<line x1="264.00" y1="574" x2="264.00" y2="576.5" stroke="#111" stroke-width="0.7"/>
<text x="262.80" y="584.00" font-size="7.0" text-anchor="middle" font-weight="normal" fill="#333" stroke="#333" stroke-width="0.1" >10</text>
<text x="266.80" y="580.20" font-size="4.8" text-anchor="start" font-weight="normal" fill="#333" stroke="#333" stroke-width="0.1" >2</text>
<line x1="284.00" y1="574" x2="284.00" y2="576.5" stroke="#111" stroke-width="0.7"/>
<text x="282.80" y="584.00" font-size="7.0" text-anchor="middle" font-weight="normal" fill="#333" stroke="#333" stroke-width="0.1" >10</text>
<text x="286.80" y="580.20" font-size="4.8" text-anchor="start" font-weight="normal" fill="#333" stroke="#333" stroke-width="0.1" >3</text>
<line x1="303.50" y1="574" x2="303.50" y2="576.5" stroke="#111" stroke-width="0.7"/>
<text x="302.30" y="584.00" font-size="7.0" text-anchor="middle" font-weight="normal" fill="#333" stroke="#333" stroke-width="0.1" >10</text>
<text x="306.30" y="580.20" font-size="4.8" text-anchor="start" font-weight="normal" fill="#333" stroke="#333" stroke-width="0.1" >4</text>
<line x1="323.60" y1="574" x2="323.60" y2="576.5" stroke="#111" stroke-width="0.7"/>
<text x="322.40" y="584.00" font-size="7.0" text-anchor="middle" font-weight="normal" fill="#333" stroke="#333" stroke-width="0.1" >10</text>
<text x="326.40" y="580.20" font-size="4.8" text-anchor="start" font-weight="normal" fill="#333" stroke="#333" stroke-width="0.1" >5</text>
<defs><clipPath id="cp336"><rect x="336.6" y="474.4" width="99.79999999999995" height="99.6"/></clipPath></defs>
<g clip-path="url(#cp336)">
<polygon points="336.6,492.2 336.6,492.20 337.7,492.20 338.8,492.20 339.9,492.20 341.0,492.20 342.1,492.20 343.3,492.20 344.4,492.20 345.5,492.20 346.6,492.20 347.7,492.20 348.8,492.20 349.9,492.20 351.0,492.20 352.1,492.20 353.2,492.20 354.3,492.20 355.5,492.20 356.6,492.20 357.7,492.20 358.8,492.19 359.9,492.12 361.0,491.65 362.1,489.89 363.2,485.84 364.3,480.76 365.4,478.73 366.5,481.29 367.6,485.91 368.8,489.62 369.9,491.45 371.0,492.04 372.1,492.18 373.2,492.20 374.3,492.20 375.4,492.20 376.5,492.20 377.6,492.20 378.7,492.20 379.8,492.20 381.0,492.20 382.1,492.20 383.2,492.20 384.3,492.20 385.4,492.20 386.5,492.20 387.6,492.20 388.7,492.20 389.8,492.20 390.9,492.20 392.0,492.20 393.2,492.20 394.3,492.20 395.4,492.20 396.5,492.20 397.6,492.20 398.7,492.20 399.8,492.20 400.9,492.20 402.0,492.20 403.1,492.20 404.2,492.20 405.4,492.20 406.5,492.20 407.6,492.20 408.7,492.20 409.8,492.20 410.9,492.20 412.0,492.20 413.1,492.20 414.2,492.20 415.3,492.20 416.4,492.20 417.5,492.20 418.7,492.20 419.8,492.20 420.9,492.20 422.0,492.20 423.1,492.20 424.2,492.20 425.3,492.20 426.4,492.20 427.5,492.20 428.6,492.20 429.7,492.20 430.9,492.20 432.0,492.20 433.1,492.20 434.2,492.20 435.3,492.20 436.4,492.20 436.4,492.2" fill="#d8d8d8" fill-opacity="0.75"/>
<polyline points="336.6,492.20 337.7,492.20 338.8,492.20 339.9,492.20 341.0,492.20 342.1,492.20 343.3,492.20 344.4,492.20 345.5,492.20 346.6,492.20 347.7,492.20 348.8,492.20 349.9,492.20 351.0,492.20 352.1,492.20 353.2,492.20 354.3,492.20 355.5,492.20 356.6,492.20 357.7,492.20 358.8,492.19 359.9,492.12 361.0,491.65 362.1,489.89 363.2,485.84 364.3,480.76 365.4,478.73 366.5,481.29 367.6,485.91 368.8,489.62 369.9,491.45 371.0,492.04 372.1,492.18 373.2,492.20 374.3,492.20 375.4,492.20 376.5,492.20 377.6,492.20 378.7,492.20 379.8,492.20 381.0,492.20 382.1,492.20 383.2,492.20 384.3,492.20 385.4,492.20 386.5,492.20 387.6,492.20 388.7,492.20 389.8,492.20 390.9,492.20 392.0,492.20 393.2,492.20 394.3,492.20 395.4,492.20 396.5,492.20 397.6,492.20 398.7,492.20 399.8,492.20 400.9,492.20 402.0,492.20 403.1,492.20 404.2,492.20 405.4,492.20 406.5,492.20 407.6,492.20 408.7,492.20 409.8,492.20 410.9,492.20 412.0,492.20 413.1,492.20 414.2,492.20 415.3,492.20 416.4,492.20 417.5,492.20 418.7,492.20 419.8,492.20 420.9,492.20 422.0,492.20 423.1,492.20 424.2,492.20 425.3,492.20 426.4,492.20 427.5,492.20 428.6,492.20 429.7,492.20 430.9,492.20 432.0,492.20 433.1,492.20 434.2,492.20 435.3,492.20 436.4,492.20" fill="none" stroke="#9a9a9a" stroke-width="1.0"/>
<polygon points="336.6,499.59999999999997 336.6,499.60 337.7,499.60 338.8,499.60 339.9,499.60 341.0,499.60 342.1,499.60 343.3,499.60 344.4,499.60 345.5,499.60 346.6,499.60 347.7,499.60 348.8,499.60 349.9,499.60 351.0,499.60 352.1,499.60 353.2,499.60 354.3,499.60 355.5,499.59 356.6,499.58 357.7,499.56 358.8,499.52 359.9,499.46 361.0,499.34 362.1,499.16 363.2,498.87 364.3,498.43 365.4,497.82 366.5,496.99 367.6,495.93 368.8,494.65 369.9,493.18 371.0,491.61 372.1,490.04 373.2,488.63 374.3,487.51 375.4,486.81 376.5,486.60 377.6,486.92 378.7,487.72 379.8,488.92 381.0,490.37 382.1,491.95 383.2,493.51 384.3,494.94 385.4,496.18 386.5,497.19 387.6,497.97 388.7,498.54 389.8,498.94 390.9,499.20 392.0,499.37 393.2,499.47 394.3,499.53 395.4,499.57 396.5,499.58 397.6,499.59 398.7,499.60 399.8,499.60 400.9,499.60 402.0,499.60 403.1,499.60 404.2,499.60 405.4,499.60 406.5,499.60 407.6,499.60 408.7,499.60 409.8,499.60 410.9,499.60 412.0,499.60 413.1,499.60 414.2,499.60 415.3,499.60 416.4,499.60 417.5,499.60 418.7,499.60 419.8,499.60 420.9,499.60 422.0,499.60 423.1,499.60 424.2,499.60 425.3,499.60 426.4,499.60 427.5,499.60 428.6,499.60 429.7,499.60 430.9,499.60 432.0,499.60 433.1,499.60 434.2,499.60 435.3,499.60 436.4,499.60 436.4,499.59999999999997" fill="#c5d9ee" fill-opacity="0.75"/>
<polyline points="336.6,499.60 337.7,499.60 338.8,499.60 339.9,499.60 341.0,499.60 342.1,499.60 343.3,499.60 344.4,499.60 345.5,499.60 346.6,499.60 347.7,499.60 348.8,499.60 349.9,499.60 351.0,499.60 352.1,499.60 353.2,499.60 354.3,499.60 355.5,499.59 356.6,499.58 357.7,499.56 358.8,499.52 359.9,499.46 361.0,499.34 362.1,499.16 363.2,498.87 364.3,498.43 365.4,497.82 366.5,496.99 367.6,495.93 368.8,494.65 369.9,493.18 371.0,491.61 372.1,490.04 373.2,488.63 374.3,487.51 375.4,486.81 376.5,486.60 377.6,486.92 378.7,487.72 379.8,488.92 381.0,490.37 382.1,491.95 383.2,493.51 384.3,494.94 385.4,496.18 386.5,497.19 387.6,497.97 388.7,498.54 389.8,498.94 390.9,499.20 392.0,499.37 393.2,499.47 394.3,499.53 395.4,499.57 396.5,499.58 397.6,499.59 398.7,499.60 399.8,499.60 400.9,499.60 402.0,499.60 403.1,499.60 404.2,499.60 405.4,499.60 406.5,499.60 407.6,499.60 408.7,499.60 409.8,499.60 410.9,499.60 412.0,499.60 413.1,499.60 414.2,499.60 415.3,499.60 416.4,499.60 417.5,499.60 418.7,499.60 419.8,499.60 420.9,499.60 422.0,499.60 423.1,499.60 424.2,499.60 425.3,499.60 426.4,499.60 427.5,499.60 428.6,499.60 429.7,499.60 430.9,499.60 432.0,499.60 433.1,499.60 434.2,499.60 435.3,499.60 436.4,499.60" fill="none" stroke="#4a8fd4" stroke-width="1.0"/>
<polygon points="336.6,507.0 336.6,507.00 337.7,507.00 338.8,507.00 339.9,507.00 341.0,507.00 342.1,507.00 343.3,507.00 344.4,507.00 345.5,507.00 346.6,507.00 347.7,507.00 348.8,507.00 349.9,507.00 351.0,507.00 352.1,507.00 353.2,507.00 354.3,507.00 355.5,507.00 356.6,507.00 357.7,507.00 358.8,507.00 359.9,507.00 361.0,507.00 362.1,507.00 363.2,507.00 364.3,507.00 365.4,507.00 366.5,507.00 367.6,507.00 368.8,507.00 369.9,507.00 371.0,507.00 372.1,507.00 373.2,507.00 374.3,507.00 375.4,507.00 376.5,507.00 377.6,507.00 378.7,507.00 379.8,507.00 381.0,507.00 382.1,507.00 383.2,506.99 384.3,506.95 385.4,506.82 386.5,506.46 387.6,505.63 388.7,504.05 389.8,501.56 390.9,498.42 392.0,495.43 393.2,493.67 394.3,493.87 395.4,495.95 396.5,499.05 397.6,502.11 398.7,504.43 399.8,505.84 400.9,506.56 402.0,506.85 403.1,506.96 404.2,506.99 405.4,507.00 406.5,507.00 407.6,507.00 408.7,507.00 409.8,507.00 410.9,507.00 412.0,507.00 413.1,507.00 414.2,507.00 415.3,507.00 416.4,507.00 417.5,507.00 418.7,507.00 419.8,507.00 420.9,507.00 422.0,507.00 423.1,507.00 424.2,507.00 425.3,507.00 426.4,507.00 427.5,507.00 428.6,507.00 429.7,507.00 430.9,507.00 432.0,507.00 433.1,507.00 434.2,507.00 435.3,507.00 436.4,507.00 436.4,507.0" fill="#c5d9ee" fill-opacity="0.75"/>
<polyline points="336.6,507.00 337.7,507.00 338.8,507.00 339.9,507.00 341.0,507.00 342.1,507.00 343.3,507.00 344.4,507.00 345.5,507.00 346.6,507.00 347.7,507.00 348.8,507.00 349.9,507.00 351.0,507.00 352.1,507.00 353.2,507.00 354.3,507.00 355.5,507.00 356.6,507.00 357.7,507.00 358.8,507.00 359.9,507.00 361.0,507.00 362.1,507.00 363.2,507.00 364.3,507.00 365.4,507.00 366.5,507.00 367.6,507.00 368.8,507.00 369.9,507.00 371.0,507.00 372.1,507.00 373.2,507.00 374.3,507.00 375.4,507.00 376.5,507.00 377.6,507.00 378.7,507.00 379.8,507.00 381.0,507.00 382.1,507.00 383.2,506.99 384.3,506.95 385.4,506.82 386.5,506.46 387.6,505.63 388.7,504.05 389.8,501.56 390.9,498.42 392.0,495.43 393.2,493.67 394.3,493.87 395.4,495.95 396.5,499.05 397.6,502.11 398.7,504.43 399.8,505.84 400.9,506.56 402.0,506.85 403.1,506.96 404.2,506.99 405.4,507.00 406.5,507.00 407.6,507.00 408.7,507.00 409.8,507.00 410.9,507.00 412.0,507.00 413.1,507.00 414.2,507.00 415.3,507.00 416.4,507.00 417.5,507.00 418.7,507.00 419.8,507.00 420.9,507.00 422.0,507.00 423.1,507.00 424.2,507.00 425.3,507.00 426.4,507.00 427.5,507.00 428.6,507.00 429.7,507.00 430.9,507.00 432.0,507.00 433.1,507.00 434.2,507.00 435.3,507.00 436.4,507.00" fill="none" stroke="#2f6fb8" stroke-width="1.0"/>
<polygon points="336.6,514.4 336.6,514.40 337.7,514.40 338.8,514.40 339.9,514.40 341.0,514.40 342.1,514.40 343.3,514.40 344.4,514.40 345.5,514.40 346.6,514.40 347.7,514.40 348.8,514.40 349.9,514.40 351.0,514.40 352.1,514.40 353.2,514.40 354.3,514.40 355.5,514.40 356.6,514.40 357.7,514.40 358.8,514.39 359.9,514.37 361.0,514.31 362.1,514.16 363.2,513.82 364.3,513.15 365.4,511.98 366.5,510.17 367.6,507.76 368.8,505.02 369.9,502.49 371.0,500.81 372.1,500.48 373.2,502.27 374.3,505.59 375.4,509.06 376.5,511.71 377.6,513.27 378.7,514.00 379.8,514.28 381.0,514.37 382.1,514.39 383.2,514.40 384.3,514.40 385.4,514.40 386.5,514.40 387.6,514.40 388.7,514.40 389.8,514.40 390.9,514.40 392.0,514.40 393.2,514.40 394.3,514.40 395.4,514.40 396.5,514.40 397.6,514.40 398.7,514.40 399.8,514.40 400.9,514.40 402.0,514.40 403.1,514.40 404.2,514.40 405.4,514.40 406.5,514.40 407.6,514.40 408.7,514.40 409.8,514.40 410.9,514.40 412.0,514.40 413.1,514.40 414.2,514.40 415.3,514.40 416.4,514.40 417.5,514.40 418.7,514.40 419.8,514.40 420.9,514.40 422.0,514.40 423.1,514.40 424.2,514.40 425.3,514.40 426.4,514.40 427.5,514.40 428.6,514.40 429.7,514.40 430.9,514.40 432.0,514.40 433.1,514.40 434.2,514.40 435.3,514.40 436.4,514.40 436.4,514.4" fill="#fbdcc0" fill-opacity="0.75"/>
<polyline points="336.6,514.40 337.7,514.40 338.8,514.40 339.9,514.40 341.0,514.40 342.1,514.40 343.3,514.40 344.4,514.40 345.5,514.40 346.6,514.40 347.7,514.40 348.8,514.40 349.9,514.40 351.0,514.40 352.1,514.40 353.2,514.40 354.3,514.40 355.5,514.40 356.6,514.40 357.7,514.40 358.8,514.39 359.9,514.37 361.0,514.31 362.1,514.16 363.2,513.82 364.3,513.15 365.4,511.98 366.5,510.17 367.6,507.76 368.8,505.02 369.9,502.49 371.0,500.81 372.1,500.48 373.2,502.27 374.3,505.59 375.4,509.06 376.5,511.71 377.6,513.27 378.7,514.00 379.8,514.28 381.0,514.37 382.1,514.39 383.2,514.40 384.3,514.40 385.4,514.40 386.5,514.40 387.6,514.40 388.7,514.40 389.8,514.40 390.9,514.40 392.0,514.40 393.2,514.40 394.3,514.40 395.4,514.40 396.5,514.40 397.6,514.40 398.7,514.40 399.8,514.40 400.9,514.40 402.0,514.40 403.1,514.40 404.2,514.40 405.4,514.40 406.5,514.40 407.6,514.40 408.7,514.40 409.8,514.40 410.9,514.40 412.0,514.40 413.1,514.40 414.2,514.40 415.3,514.40 416.4,514.40 417.5,514.40 418.7,514.40 419.8,514.40 420.9,514.40 422.0,514.40 423.1,514.40 424.2,514.40 425.3,514.40 426.4,514.40 427.5,514.40 428.6,514.40 429.7,514.40 430.9,514.40 432.0,514.40 433.1,514.40 434.2,514.40 435.3,514.40 436.4,514.40" fill="none" stroke="#f39a3c" stroke-width="1.0"/>
<polygon points="336.6,521.8 336.6,521.80 337.7,521.80 338.8,521.80 339.9,521.80 341.0,521.80 342.1,521.80 343.3,521.80 344.4,521.80 345.5,521.80 346.6,521.80 347.7,521.80 348.8,521.80 349.9,521.80 351.0,521.80 352.1,521.80 353.2,521.80 354.3,521.80 355.5,521.80 356.6,521.80 357.7,521.80 358.8,521.80 359.9,521.80 361.0,521.80 362.1,521.80 363.2,521.80 364.3,521.79 365.4,521.77 366.5,521.72 367.6,521.58 368.8,521.27 369.9,520.64 371.0,519.54 372.1,517.82 373.2,515.52 374.3,512.89 375.4,510.42 376.5,508.74 377.6,508.33 378.7,509.20 379.8,511.08 381.0,513.51 382.1,515.97 383.2,518.07 384.3,519.63 385.4,520.65 386.5,521.25 387.6,521.56 388.7,521.70 389.8,521.77 390.9,521.79 392.0,521.80 393.2,521.80 394.3,521.80 395.4,521.80 396.5,521.80 397.6,521.80 398.7,521.80 399.8,521.80 400.9,521.80 402.0,521.80 403.1,521.80 404.2,521.80 405.4,521.80 406.5,521.80 407.6,521.80 408.7,521.80 409.8,521.80 410.9,521.80 412.0,521.80 413.1,521.80 414.2,521.80 415.3,521.80 416.4,521.80 417.5,521.80 418.7,521.80 419.8,521.80 420.9,521.80 422.0,521.80 423.1,521.80 424.2,521.80 425.3,521.80 426.4,521.80 427.5,521.80 428.6,521.80 429.7,521.80 430.9,521.80 432.0,521.80 433.1,521.80 434.2,521.80 435.3,521.80 436.4,521.80 436.4,521.8" fill="#fbdcc0" fill-opacity="0.75"/>
<polyline points="336.6,521.80 337.7,521.80 338.8,521.80 339.9,521.80 341.0,521.80 342.1,521.80 343.3,521.80 344.4,521.80 345.5,521.80 346.6,521.80 347.7,521.80 348.8,521.80 349.9,521.80 351.0,521.80 352.1,521.80 353.2,521.80 354.3,521.80 355.5,521.80 356.6,521.80 357.7,521.80 358.8,521.80 359.9,521.80 361.0,521.80 362.1,521.80 363.2,521.80 364.3,521.79 365.4,521.77 366.5,521.72 367.6,521.58 368.8,521.27 369.9,520.64 371.0,519.54 372.1,517.82 373.2,515.52 374.3,512.89 375.4,510.42 376.5,508.74 377.6,508.33 378.7,509.20 379.8,511.08 381.0,513.51 382.1,515.97 383.2,518.07 384.3,519.63 385.4,520.65 386.5,521.25 387.6,521.56 388.7,521.70 389.8,521.77 390.9,521.79 392.0,521.80 393.2,521.80 394.3,521.80 395.4,521.80 396.5,521.80 397.6,521.80 398.7,521.80 399.8,521.80 400.9,521.80 402.0,521.80 403.1,521.80 404.2,521.80 405.4,521.80 406.5,521.80 407.6,521.80 408.7,521.80 409.8,521.80 410.9,521.80 412.0,521.80 413.1,521.80 414.2,521.80 415.3,521.80 416.4,521.80 417.5,521.80 418.7,521.80 419.8,521.80 420.9,521.80 422.0,521.80 423.1,521.80 424.2,521.80 425.3,521.80 426.4,521.80 427.5,521.80 428.6,521.80 429.7,521.80 430.9,521.80 432.0,521.80 433.1,521.80 434.2,521.80 435.3,521.80 436.4,521.80" fill="none" stroke="#f3a04a" stroke-width="1.0"/>
<polygon points="336.6,529.2 336.6,529.20 337.7,529.20 338.8,529.20 339.9,529.20 341.0,529.20 342.1,529.20 343.3,529.20 344.4,529.20 345.5,529.20 346.6,529.20 347.7,529.20 348.8,529.20 349.9,529.20 351.0,529.20 352.1,529.20 353.2,529.20 354.3,529.20 355.5,529.20 356.6,529.20 357.7,529.20 358.8,529.20 359.9,529.19 361.0,529.17 362.1,529.12 363.2,528.99 364.3,528.68 365.4,528.07 366.5,526.98 367.6,525.29 368.8,523.00 369.9,520.37 371.0,517.89 372.1,516.18 373.2,515.73 374.3,516.91 375.4,519.43 376.5,522.42 377.6,525.09 378.7,527.03 379.8,528.20 381.0,528.80 382.1,529.06 383.2,529.16 384.3,529.19 385.4,529.20 386.5,529.20 387.6,529.20 388.7,529.20 389.8,529.20 390.9,529.20 392.0,529.20 393.2,529.20 394.3,529.20 395.4,529.20 396.5,529.20 397.6,529.20 398.7,529.20 399.8,529.20 400.9,529.20 402.0,529.20 403.1,529.20 404.2,529.20 405.4,529.20 406.5,529.20 407.6,529.20 408.7,529.20 409.8,529.20 410.9,529.20 412.0,529.20 413.1,529.20 414.2,529.20 415.3,529.20 416.4,529.20 417.5,529.20 418.7,529.20 419.8,529.20 420.9,529.20 422.0,529.20 423.1,529.20 424.2,529.20 425.3,529.20 426.4,529.20 427.5,529.20 428.6,529.20 429.7,529.20 430.9,529.20 432.0,529.20 433.1,529.20 434.2,529.20 435.3,529.20 436.4,529.20 436.4,529.2" fill="#e2c4e0" fill-opacity="0.75"/>
<polyline points="336.6,529.20 337.7,529.20 338.8,529.20 339.9,529.20 341.0,529.20 342.1,529.20 343.3,529.20 344.4,529.20 345.5,529.20 346.6,529.20 347.7,529.20 348.8,529.20 349.9,529.20 351.0,529.20 352.1,529.20 353.2,529.20 354.3,529.20 355.5,529.20 356.6,529.20 357.7,529.20 358.8,529.20 359.9,529.19 361.0,529.17 362.1,529.12 363.2,528.99 364.3,528.68 365.4,528.07 366.5,526.98 367.6,525.29 368.8,523.00 369.9,520.37 371.0,517.89 372.1,516.18 373.2,515.73 374.3,516.91 375.4,519.43 376.5,522.42 377.6,525.09 378.7,527.03 379.8,528.20 381.0,528.80 382.1,529.06 383.2,529.16 384.3,529.19 385.4,529.20 386.5,529.20 387.6,529.20 388.7,529.20 389.8,529.20 390.9,529.20 392.0,529.20 393.2,529.20 394.3,529.20 395.4,529.20 396.5,529.20 397.6,529.20 398.7,529.20 399.8,529.20 400.9,529.20 402.0,529.20 403.1,529.20 404.2,529.20 405.4,529.20 406.5,529.20 407.6,529.20 408.7,529.20 409.8,529.20 410.9,529.20 412.0,529.20 413.1,529.20 414.2,529.20 415.3,529.20 416.4,529.20 417.5,529.20 418.7,529.20 419.8,529.20 420.9,529.20 422.0,529.20 423.1,529.20 424.2,529.20 425.3,529.20 426.4,529.20 427.5,529.20 428.6,529.20 429.7,529.20 430.9,529.20 432.0,529.20 433.1,529.20 434.2,529.20 435.3,529.20 436.4,529.20" fill="none" stroke="#b35aae" stroke-width="1.0"/>
<polygon points="336.6,536.6 336.6,536.60 337.7,536.60 338.8,536.60 339.9,536.60 341.0,536.60 342.1,536.60 343.3,536.60 344.4,536.60 345.5,536.60 346.6,536.60 347.7,536.60 348.8,536.60 349.9,536.60 351.0,536.60 352.1,536.60 353.2,536.60 354.3,536.60 355.5,536.60 356.6,536.60 357.7,536.60 358.8,536.60 359.9,536.60 361.0,536.60 362.1,536.60 363.2,536.60 364.3,536.60 365.4,536.60 366.5,536.59 367.6,536.56 368.8,536.46 369.9,536.19 371.0,535.58 372.1,534.40 373.2,532.45 374.3,529.76 375.4,526.77 376.5,524.27 377.6,523.12 378.7,523.55 379.8,525.11 381.0,527.41 382.1,529.91 383.2,532.17 384.3,533.93 385.4,535.14 386.5,535.87 387.6,536.27 388.7,536.46 389.8,536.55 390.9,536.58 392.0,536.59 393.2,536.60 394.3,536.60 395.4,536.60 396.5,536.60 397.6,536.60 398.7,536.60 399.8,536.60 400.9,536.60 402.0,536.60 403.1,536.60 404.2,536.60 405.4,536.60 406.5,536.60 407.6,536.60 408.7,536.60 409.8,536.60 410.9,536.60 412.0,536.60 413.1,536.60 414.2,536.60 415.3,536.60 416.4,536.60 417.5,536.60 418.7,536.60 419.8,536.60 420.9,536.60 422.0,536.60 423.1,536.60 424.2,536.60 425.3,536.60 426.4,536.60 427.5,536.60 428.6,536.60 429.7,536.60 430.9,536.60 432.0,536.60 433.1,536.60 434.2,536.60 435.3,536.60 436.4,536.60 436.4,536.6" fill="#e2c4e0" fill-opacity="0.75"/>
<polyline points="336.6,536.60 337.7,536.60 338.8,536.60 339.9,536.60 341.0,536.60 342.1,536.60 343.3,536.60 344.4,536.60 345.5,536.60 346.6,536.60 347.7,536.60 348.8,536.60 349.9,536.60 351.0,536.60 352.1,536.60 353.2,536.60 354.3,536.60 355.5,536.60 356.6,536.60 357.7,536.60 358.8,536.60 359.9,536.60 361.0,536.60 362.1,536.60 363.2,536.60 364.3,536.60 365.4,536.60 366.5,536.59 367.6,536.56 368.8,536.46 369.9,536.19 371.0,535.58 372.1,534.40 373.2,532.45 374.3,529.76 375.4,526.77 376.5,524.27 377.6,523.12 378.7,523.55 379.8,525.11 381.0,527.41 382.1,529.91 383.2,532.17 384.3,533.93 385.4,535.14 386.5,535.87 387.6,536.27 388.7,536.46 389.8,536.55 390.9,536.58 392.0,536.59 393.2,536.60 394.3,536.60 395.4,536.60 396.5,536.60 397.6,536.60 398.7,536.60 399.8,536.60 400.9,536.60 402.0,536.60 403.1,536.60 404.2,536.60 405.4,536.60 406.5,536.60 407.6,536.60 408.7,536.60 409.8,536.60 410.9,536.60 412.0,536.60 413.1,536.60 414.2,536.60 415.3,536.60 416.4,536.60 417.5,536.60 418.7,536.60 419.8,536.60 420.9,536.60 422.0,536.60 423.1,536.60 424.2,536.60 425.3,536.60 426.4,536.60 427.5,536.60 428.6,536.60 429.7,536.60 430.9,536.60 432.0,536.60 433.1,536.60 434.2,536.60 435.3,536.60 436.4,536.60" fill="none" stroke="#a0459e" stroke-width="1.0"/>
<polygon points="336.6,544.0 336.6,544.00 337.7,544.00 338.8,544.00 339.9,544.00 341.0,544.00 342.1,544.00 343.3,544.00 344.4,544.00 345.5,544.00 346.6,544.00 347.7,544.00 348.8,544.00 349.9,544.00 351.0,544.00 352.1,544.00 353.2,544.00 354.3,544.00 355.5,544.00 356.6,544.00 357.7,544.00 358.8,543.98 359.9,543.95 361.0,543.86 362.1,543.65 363.2,543.20 364.3,542.36 365.4,540.96 366.5,538.93 367.6,536.42 368.8,533.79 369.9,531.65 371.0,530.56 372.1,530.90 373.2,532.67 374.3,535.31 375.4,538.09 376.5,540.43 377.6,542.09 378.7,543.09 379.8,543.62 381.0,543.86 382.1,543.95 383.2,543.99 384.3,544.00 385.4,544.00 386.5,544.00 387.6,544.00 388.7,544.00 389.8,544.00 390.9,544.00 392.0,544.00 393.2,544.00 394.3,544.00 395.4,544.00 396.5,544.00 397.6,544.00 398.7,544.00 399.8,544.00 400.9,544.00 402.0,544.00 403.1,544.00 404.2,544.00 405.4,544.00 406.5,544.00 407.6,544.00 408.7,544.00 409.8,544.00 410.9,544.00 412.0,544.00 413.1,544.00 414.2,544.00 415.3,544.00 416.4,544.00 417.5,544.00 418.7,544.00 419.8,544.00 420.9,544.00 422.0,544.00 423.1,544.00 424.2,544.00 425.3,544.00 426.4,544.00 427.5,544.00 428.6,544.00 429.7,544.00 430.9,544.00 432.0,544.00 433.1,544.00 434.2,544.00 435.3,544.00 436.4,544.00 436.4,544.0" fill="#c6ecef" fill-opacity="0.75"/>
<polyline points="336.6,544.00 337.7,544.00 338.8,544.00 339.9,544.00 341.0,544.00 342.1,544.00 343.3,544.00 344.4,544.00 345.5,544.00 346.6,544.00 347.7,544.00 348.8,544.00 349.9,544.00 351.0,544.00 352.1,544.00 353.2,544.00 354.3,544.00 355.5,544.00 356.6,544.00 357.7,544.00 358.8,543.98 359.9,543.95 361.0,543.86 362.1,543.65 363.2,543.20 364.3,542.36 365.4,540.96 366.5,538.93 367.6,536.42 368.8,533.79 369.9,531.65 371.0,530.56 372.1,530.90 373.2,532.67 374.3,535.31 375.4,538.09 376.5,540.43 377.6,542.09 378.7,543.09 379.8,543.62 381.0,543.86 382.1,543.95 383.2,543.99 384.3,544.00 385.4,544.00 386.5,544.00 387.6,544.00 388.7,544.00 389.8,544.00 390.9,544.00 392.0,544.00 393.2,544.00 394.3,544.00 395.4,544.00 396.5,544.00 397.6,544.00 398.7,544.00 399.8,544.00 400.9,544.00 402.0,544.00 403.1,544.00 404.2,544.00 405.4,544.00 406.5,544.00 407.6,544.00 408.7,544.00 409.8,544.00 410.9,544.00 412.0,544.00 413.1,544.00 414.2,544.00 415.3,544.00 416.4,544.00 417.5,544.00 418.7,544.00 419.8,544.00 420.9,544.00 422.0,544.00 423.1,544.00 424.2,544.00 425.3,544.00 426.4,544.00 427.5,544.00 428.6,544.00 429.7,544.00 430.9,544.00 432.0,544.00 433.1,544.00 434.2,544.00 435.3,544.00 436.4,544.00" fill="none" stroke="#4ec2cc" stroke-width="1.0"/>
<polygon points="336.6,551.4 336.6,551.40 337.7,551.40 338.8,551.40 339.9,551.40 341.0,551.40 342.1,551.40 343.3,551.40 344.4,551.40 345.5,551.40 346.6,551.40 347.7,551.40 348.8,551.40 349.9,551.40 351.0,551.40 352.1,551.40 353.2,551.40 354.3,551.40 355.5,551.40 356.6,551.40 357.7,551.40 358.8,551.40 359.9,551.40 361.0,551.40 362.1,551.40 363.2,551.40 364.3,551.40 365.4,551.40 366.5,551.39 367.6,551.38 368.8,551.33 369.9,551.20 371.0,550.92 372.1,550.33 373.2,549.28 374.3,547.61 375.4,545.31 376.5,542.61 377.6,539.98 378.7,538.07 379.8,537.40 381.0,538.10 382.1,539.91 383.2,542.37 384.3,544.95 385.4,547.21 386.5,548.92 387.6,550.07 388.7,550.75 389.8,551.11 390.9,551.28 392.0,551.36 393.2,551.39 394.3,551.40 395.4,551.40 396.5,551.40 397.6,551.40 398.7,551.40 399.8,551.40 400.9,551.40 402.0,551.40 403.1,551.40 404.2,551.40 405.4,551.40 406.5,551.40 407.6,551.40 408.7,551.40 409.8,551.40 410.9,551.40 412.0,551.40 413.1,551.40 414.2,551.40 415.3,551.40 416.4,551.40 417.5,551.40 418.7,551.40 419.8,551.40 420.9,551.40 422.0,551.40 423.1,551.40 424.2,551.40 425.3,551.40 426.4,551.40 427.5,551.40 428.6,551.40 429.7,551.40 430.9,551.40 432.0,551.40 433.1,551.40 434.2,551.40 435.3,551.40 436.4,551.40 436.4,551.4" fill="#c6ecef" fill-opacity="0.75"/>
<polyline points="336.6,551.40 337.7,551.40 338.8,551.40 339.9,551.40 341.0,551.40 342.1,551.40 343.3,551.40 344.4,551.40 345.5,551.40 346.6,551.40 347.7,551.40 348.8,551.40 349.9,551.40 351.0,551.40 352.1,551.40 353.2,551.40 354.3,551.40 355.5,551.40 356.6,551.40 357.7,551.40 358.8,551.40 359.9,551.40 361.0,551.40 362.1,551.40 363.2,551.40 364.3,551.40 365.4,551.40 366.5,551.39 367.6,551.38 368.8,551.33 369.9,551.20 371.0,550.92 372.1,550.33 373.2,549.28 374.3,547.61 375.4,545.31 376.5,542.61 377.6,539.98 378.7,538.07 379.8,537.40 381.0,538.10 382.1,539.91 383.2,542.37 384.3,544.95 385.4,547.21 386.5,548.92 387.6,550.07 388.7,550.75 389.8,551.11 390.9,551.28 392.0,551.36 393.2,551.39 394.3,551.40 395.4,551.40 396.5,551.40 397.6,551.40 398.7,551.40 399.8,551.40 400.9,551.40 402.0,551.40 403.1,551.40 404.2,551.40 405.4,551.40 406.5,551.40 407.6,551.40 408.7,551.40 409.8,551.40 410.9,551.40 412.0,551.40 413.1,551.40 414.2,551.40 415.3,551.40 416.4,551.40 417.5,551.40 418.7,551.40 419.8,551.40 420.9,551.40 422.0,551.40 423.1,551.40 424.2,551.40 425.3,551.40 426.4,551.40 427.5,551.40 428.6,551.40 429.7,551.40 430.9,551.40 432.0,551.40 433.1,551.40 434.2,551.40 435.3,551.40 436.4,551.40" fill="none" stroke="#3bb3c0" stroke-width="1.0"/>
<polygon points="336.6,558.8 336.6,558.80 337.7,558.80 338.8,558.80 339.9,558.80 341.0,558.80 342.1,558.80 343.3,558.80 344.4,558.80 345.5,558.80 346.6,558.80 347.7,558.80 348.8,558.80 349.9,558.80 351.0,558.80 352.1,558.80 353.2,558.80 354.3,558.80 355.5,558.80 356.6,558.80 357.7,558.80 358.8,558.80 359.9,558.80 361.0,558.79 362.1,558.76 363.2,558.68 364.3,558.44 365.4,557.89 366.5,556.80 367.6,554.95 368.8,552.34 369.9,549.35 371.0,546.74 372.1,545.37 373.2,545.66 374.3,547.26 375.4,549.68 376.5,552.32 377.6,554.66 378.7,556.42 379.8,557.57 381.0,558.23 382.1,558.56 383.2,558.71 384.3,558.77 385.4,558.79 386.5,558.80 387.6,558.80 388.7,558.80 389.8,558.80 390.9,558.80 392.0,558.80 393.2,558.80 394.3,558.80 395.4,558.80 396.5,558.80 397.6,558.80 398.7,558.80 399.8,558.80 400.9,558.80 402.0,558.80 403.1,558.80 404.2,558.80 405.4,558.80 406.5,558.80 407.6,558.80 408.7,558.80 409.8,558.80 410.9,558.80 412.0,558.80 413.1,558.80 414.2,558.80 415.3,558.80 416.4,558.80 417.5,558.80 418.7,558.80 419.8,558.80 420.9,558.80 422.0,558.80 423.1,558.80 424.2,558.80 425.3,558.80 426.4,558.80 427.5,558.80 428.6,558.80 429.7,558.80 430.9,558.80 432.0,558.80 433.1,558.80 434.2,558.80 435.3,558.80 436.4,558.80 436.4,558.8" fill="#d0d0ec" fill-opacity="0.75"/>
<polyline points="336.6,558.80 337.7,558.80 338.8,558.80 339.9,558.80 341.0,558.80 342.1,558.80 343.3,558.80 344.4,558.80 345.5,558.80 346.6,558.80 347.7,558.80 348.8,558.80 349.9,558.80 351.0,558.80 352.1,558.80 353.2,558.80 354.3,558.80 355.5,558.80 356.6,558.80 357.7,558.80 358.8,558.80 359.9,558.80 361.0,558.79 362.1,558.76 363.2,558.68 364.3,558.44 365.4,557.89 366.5,556.80 367.6,554.95 368.8,552.34 369.9,549.35 371.0,546.74 372.1,545.37 373.2,545.66 374.3,547.26 375.4,549.68 376.5,552.32 377.6,554.66 378.7,556.42 379.8,557.57 381.0,558.23 382.1,558.56 383.2,558.71 384.3,558.77 385.4,558.79 386.5,558.80 387.6,558.80 388.7,558.80 389.8,558.80 390.9,558.80 392.0,558.80 393.2,558.80 394.3,558.80 395.4,558.80 396.5,558.80 397.6,558.80 398.7,558.80 399.8,558.80 400.9,558.80 402.0,558.80 403.1,558.80 404.2,558.80 405.4,558.80 406.5,558.80 407.6,558.80 408.7,558.80 409.8,558.80 410.9,558.80 412.0,558.80 413.1,558.80 414.2,558.80 415.3,558.80 416.4,558.80 417.5,558.80 418.7,558.80 419.8,558.80 420.9,558.80 422.0,558.80 423.1,558.80 424.2,558.80 425.3,558.80 426.4,558.80 427.5,558.80 428.6,558.80 429.7,558.80 430.9,558.80 432.0,558.80 433.1,558.80 434.2,558.80 435.3,558.80 436.4,558.80" fill="none" stroke="#6f6fbf" stroke-width="1.0"/>
<polygon points="336.6,566.2 336.6,566.20 337.7,566.20 338.8,566.20 339.9,566.20 341.0,566.20 342.1,566.20 343.3,566.20 344.4,566.20 345.5,566.20 346.6,566.20 347.7,566.20 348.8,566.20 349.9,566.20 351.0,566.20 352.1,566.20 353.2,566.20 354.3,566.20 355.5,566.20 356.6,566.20 357.7,566.20 358.8,566.20 359.9,566.20 361.0,566.20 362.1,566.20 363.2,566.20 364.3,566.20 365.4,566.20 366.5,566.20 367.6,566.20 368.8,566.19 369.9,566.18 371.0,566.14 372.1,566.05 373.2,565.86 374.3,565.48 375.4,564.80 376.5,563.70 377.6,562.11 378.7,560.04 379.8,557.70 381.0,555.41 382.1,553.63 383.2,552.75 384.3,552.98 385.4,554.27 386.5,556.31 387.6,558.68 388.7,560.94 389.8,562.82 390.9,564.21 392.0,565.12 393.2,565.66 394.3,565.96 395.4,566.10 396.5,566.16 397.6,566.19 398.7,566.20 399.8,566.20 400.9,566.20 402.0,566.20 403.1,566.20 404.2,566.20 405.4,566.20 406.5,566.20 407.6,566.20 408.7,566.20 409.8,566.20 410.9,566.20 412.0,566.20 413.1,566.20 414.2,566.20 415.3,566.20 416.4,566.20 417.5,566.20 418.7,566.20 419.8,566.20 420.9,566.20 422.0,566.20 423.1,566.20 424.2,566.20 425.3,566.20 426.4,566.20 427.5,566.20 428.6,566.20 429.7,566.20 430.9,566.20 432.0,566.20 433.1,566.20 434.2,566.20 435.3,566.20 436.4,566.20 436.4,566.2" fill="#d0d0ec" fill-opacity="0.75"/>
<polyline points="336.6,566.20 337.7,566.20 338.8,566.20 339.9,566.20 341.0,566.20 342.1,566.20 343.3,566.20 344.4,566.20 345.5,566.20 346.6,566.20 347.7,566.20 348.8,566.20 349.9,566.20 351.0,566.20 352.1,566.20 353.2,566.20 354.3,566.20 355.5,566.20 356.6,566.20 357.7,566.20 358.8,566.20 359.9,566.20 361.0,566.20 362.1,566.20 363.2,566.20 364.3,566.20 365.4,566.20 366.5,566.20 367.6,566.20 368.8,566.19 369.9,566.18 371.0,566.14 372.1,566.05 373.2,565.86 374.3,565.48 375.4,564.80 376.5,563.70 377.6,562.11 378.7,560.04 379.8,557.70 381.0,555.41 382.1,553.63 383.2,552.75 384.3,552.98 385.4,554.27 386.5,556.31 387.6,558.68 388.7,560.94 389.8,562.82 390.9,564.21 392.0,565.12 393.2,565.66 394.3,565.96 395.4,566.10 396.5,566.16 397.6,566.19 398.7,566.20 399.8,566.20 400.9,566.20 402.0,566.20 403.1,566.20 404.2,566.20 405.4,566.20 406.5,566.20 407.6,566.20 408.7,566.20 409.8,566.20 410.9,566.20 412.0,566.20 413.1,566.20 414.2,566.20 415.3,566.20 416.4,566.20 417.5,566.20 418.7,566.20 419.8,566.20 420.9,566.20 422.0,566.20 423.1,566.20 424.2,566.20 425.3,566.20 426.4,566.20 427.5,566.20 428.6,566.20 429.7,566.20 430.9,566.20 432.0,566.20 433.1,566.20 434.2,566.20 435.3,566.20 436.4,566.20" fill="none" stroke="#5a5aae" stroke-width="1.0"/>
<polygon points="336.6,573.5 336.6,573.49 337.7,573.49 338.8,573.49 339.9,573.49 341.0,573.49 342.1,573.48 343.3,573.48 344.4,573.48 345.5,573.48 346.6,573.47 347.7,573.47 348.8,573.46 349.9,573.46 351.0,573.45 352.1,573.45 353.2,573.44 354.3,573.43 355.5,573.42 356.6,573.41 357.7,573.40 358.8,573.39 359.9,573.37 361.0,573.36 362.1,573.34 363.2,573.32 364.3,573.30 365.4,573.28 366.5,573.26 367.6,573.23 368.8,573.21 369.9,573.18 371.0,573.15 372.1,573.12 373.2,573.08 374.3,573.05 375.4,573.01 376.5,572.97 377.6,572.93 378.7,572.89 379.8,572.85 381.0,572.80 382.1,572.76 383.2,572.71 384.3,572.66 385.4,572.61 386.5,572.56 387.6,572.52 388.7,572.47 389.8,572.42 390.9,572.37 392.0,572.32 393.2,572.28 394.3,572.23 395.4,572.19 396.5,572.14 397.6,572.07 398.7,571.96 399.8,571.74 400.9,571.29 402.0,570.47 403.1,569.07 404.2,566.98 405.4,564.28 406.5,561.33 407.6,558.73 408.7,557.15 409.8,557.02 410.9,558.17 412.0,560.27 413.1,562.86 414.2,565.46 415.3,567.70 416.4,569.41 417.5,570.59 418.7,571.32 419.8,571.73 420.9,571.96 422.0,572.09 423.1,572.16 424.2,572.22 425.3,572.27 426.4,572.32 427.5,572.36 428.6,572.41 429.7,572.46 430.9,572.51 432.0,572.56 433.1,572.61 434.2,572.66 435.3,572.70 436.4,572.75 436.4,573.5" fill="#f2b5b8" fill-opacity="0.75"/>
<polyline points="336.6,573.49 337.7,573.49 338.8,573.49 339.9,573.49 341.0,573.49 342.1,573.48 343.3,573.48 344.4,573.48 345.5,573.48 346.6,573.47 347.7,573.47 348.8,573.46 349.9,573.46 351.0,573.45 352.1,573.45 353.2,573.44 354.3,573.43 355.5,573.42 356.6,573.41 357.7,573.40 358.8,573.39 359.9,573.37 361.0,573.36 362.1,573.34 363.2,573.32 364.3,573.30 365.4,573.28 366.5,573.26 367.6,573.23 368.8,573.21 369.9,573.18 371.0,573.15 372.1,573.12 373.2,573.08 374.3,573.05 375.4,573.01 376.5,572.97 377.6,572.93 378.7,572.89 379.8,572.85 381.0,572.80 382.1,572.76 383.2,572.71 384.3,572.66 385.4,572.61 386.5,572.56 387.6,572.52 388.7,572.47 389.8,572.42 390.9,572.37 392.0,572.32 393.2,572.28 394.3,572.23 395.4,572.19 396.5,572.14 397.6,572.07 398.7,571.96 399.8,571.74 400.9,571.29 402.0,570.47 403.1,569.07 404.2,566.98 405.4,564.28 406.5,561.33 407.6,558.73 408.7,557.15 409.8,557.02 410.9,558.17 412.0,560.27 413.1,562.86 414.2,565.46 415.3,567.70 416.4,569.41 417.5,570.59 418.7,571.32 419.8,571.73 420.9,571.96 422.0,572.09 423.1,572.16 424.2,572.22 425.3,572.27 426.4,572.32 427.5,572.36 428.6,572.41 429.7,572.46 430.9,572.51 432.0,572.56 433.1,572.61 434.2,572.66 435.3,572.70 436.4,572.75" fill="none" stroke="#e0343c" stroke-width="1.0"/>
</g>
<rect x="336.6" y="474.4" width="99.8" height="99.6" fill="none" stroke="#111" stroke-width="1.15"/>
<path d="M339.2 574.5V575.8 M340.8 574.5V575.8 M342.2 574.5V575.8 M343.4 574.5V575.8 M344.4 574.5V575.8 M351.4 574.5V575.8 M354.9 574.5V575.8 M357.4 574.5V575.8 M359.3 574.5V575.8 M360.9 574.5V575.8 M362.3 574.5V575.8 M363.5 574.5V575.8 M364.5 574.5V575.8 M371.5 574.5V575.8 M375.0 574.5V575.8 M377.5 574.5V575.8 M379.4 574.5V575.8 M381.0 574.5V575.8 M382.4 574.5V575.8 M383.6 574.5V575.8 M384.6 574.5V575.8 M391.6 574.5V575.8 M395.1 574.5V575.8 M397.6 574.5V575.8 M399.5 574.5V575.8 M401.1 574.5V575.8 M402.5 574.5V575.8 M403.7 574.5V575.8 M404.7 574.5V575.8 M411.7 574.5V575.8 M415.2 574.5V575.8 M417.7 574.5V575.8 M419.6 574.5V575.8 M421.2 574.5V575.8 M422.6 574.5V575.8 M423.8 574.5V575.8 M424.8 574.5V575.8 M431.8 574.5V575.8 M435.3 574.5V575.8" stroke="#222" stroke-width="0.6" fill="none"/>
<line x1="345.30" y1="574" x2="345.30" y2="576.5" stroke="#111" stroke-width="0.7"/>
<text x="344.10" y="584.00" font-size="7.0" text-anchor="middle" font-weight="normal" fill="#333" stroke="#333" stroke-width="0.1" >10</text>
<text x="348.10" y="580.20" font-size="4.8" text-anchor="start" font-weight="normal" fill="#333" stroke="#333" stroke-width="0.1" >1</text>
<line x1="365.40" y1="574" x2="365.40" y2="576.5" stroke="#111" stroke-width="0.7"/>
<text x="364.20" y="584.00" font-size="7.0" text-anchor="middle" font-weight="normal" fill="#333" stroke="#333" stroke-width="0.1" >10</text>
<text x="368.20" y="580.20" font-size="4.8" text-anchor="start" font-weight="normal" fill="#333" stroke="#333" stroke-width="0.1" >2</text>
<line x1="386.60" y1="574" x2="386.60" y2="576.5" stroke="#111" stroke-width="0.7"/>
<text x="385.40" y="584.00" font-size="7.0" text-anchor="middle" font-weight="normal" fill="#333" stroke="#333" stroke-width="0.1" >10</text>
<text x="389.40" y="580.20" font-size="4.8" text-anchor="start" font-weight="normal" fill="#333" stroke="#333" stroke-width="0.1" >3</text>
<line x1="406.70" y1="574" x2="406.70" y2="576.5" stroke="#111" stroke-width="0.7"/>
<text x="405.50" y="584.00" font-size="7.0" text-anchor="middle" font-weight="normal" fill="#333" stroke="#333" stroke-width="0.1" >10</text>
<text x="409.50" y="580.20" font-size="4.8" text-anchor="start" font-weight="normal" fill="#333" stroke="#333" stroke-width="0.1" >4</text>
<line x1="425.70" y1="574" x2="425.70" y2="576.5" stroke="#111" stroke-width="0.7"/>
<text x="424.50" y="584.00" font-size="7.0" text-anchor="middle" font-weight="normal" fill="#333" stroke="#333" stroke-width="0.1" >10</text>
<text x="428.50" y="580.20" font-size="4.8" text-anchor="start" font-weight="normal" fill="#333" stroke="#333" stroke-width="0.1" >5</text>
<text x="335.00" y="598.80" font-size="9.3" text-anchor="middle" font-weight="normal" fill="#222" stroke="#222" stroke-width="0.1" textLength="77" lengthAdjust="spacingAndGlyphs" >MHH-CALL-4 cells</text>
<text x="438.90" y="491.60" font-size="6.4" text-anchor="start" font-weight="normal" fill="#aaaaaa" stroke="#aaaaaa" stroke-width="0.1" >Isotype</text>
<text x="438.90" y="498.90" font-size="6.4" text-anchor="start" font-weight="normal" fill="#6fa2dc" stroke="#6fa2dc" stroke-width="0.1" >Basal</text>
<text x="438.90" y="506.20" font-size="6.4" text-anchor="start" font-weight="normal" fill="#2f6fb8" stroke="#2f6fb8" stroke-width="0.1" >TSLP</text>
<text x="438.90" y="514.30" font-size="6.4" text-anchor="start" font-weight="normal" fill="#f5aa68" stroke="#f5aa68" stroke-width="0.1" >Ruxolitinib</text>
<text x="438.90" y="521.60" font-size="6.4" text-anchor="start" font-weight="normal" fill="#f39a48" stroke="#f39a48" stroke-width="0.1" >Ruxolitinib+TSLP</text>
<text x="438.90" y="529.30" font-size="6.4" text-anchor="start" font-weight="normal" fill="#c27cc2" stroke="#c27cc2" stroke-width="0.1" >Cmpd5</text>
<text x="438.90" y="536.60" font-size="6.4" text-anchor="start" font-weight="normal" fill="#a04fa4" stroke="#a04fa4" stroke-width="0.1" >Cmpd5+TSLP</text>
<text x="438.90" y="543.90" font-size="6.4" text-anchor="start" font-weight="normal" fill="#84d4da" stroke="#84d4da" stroke-width="0.1" >Cmpd6</text>
<text x="438.90" y="551.20" font-size="6.4" text-anchor="start" font-weight="normal" fill="#3bb5c0" stroke="#3bb5c0" stroke-width="0.1" >Cmpd6+TSLP</text>
<text x="438.90" y="558.50" font-size="6.4" text-anchor="start" font-weight="normal" fill="#8c8cd0" stroke="#8c8cd0" stroke-width="0.1" >Cmpd7</text>
<text x="438.90" y="565.40" font-size="6.4" text-anchor="start" font-weight="normal" fill="#5a5ab0" stroke="#5a5ab0" stroke-width="0.1" >Cmpd7+TSLP</text>
<text x="438.90" y="572.70" font-size="6.4" text-anchor="start" font-weight="normal" fill="#e0343c" stroke="#e0343c" stroke-width="0.1" >Pervanadate</text>
<rect x="0.5" y="0.5" width="519" height="612.8" fill="none" stroke="#000" stroke-width="1.2"/>
</svg></div></body></html>
